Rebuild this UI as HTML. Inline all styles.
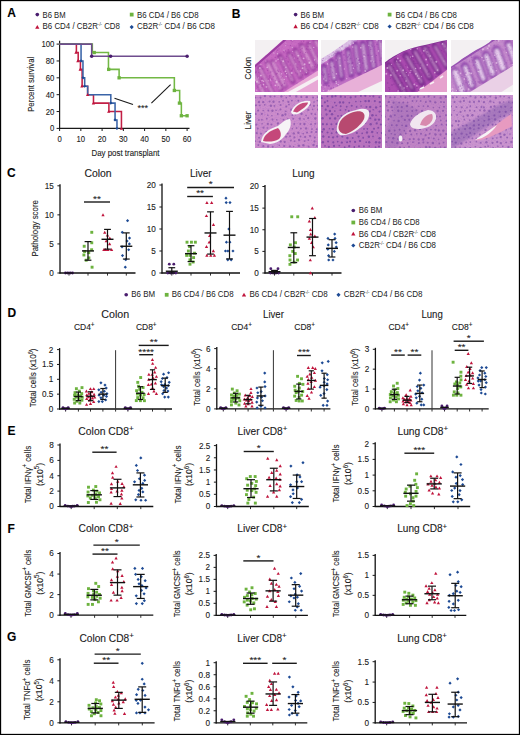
<!DOCTYPE html>
<html><head><meta charset="utf-8"><style>
html,body{margin:0;padding:0;background:#fff;}
body{width:520px;height:735px;overflow:hidden;}
svg{display:block;font-family:"Liberation Sans", sans-serif;}
text{stroke:#1a1a1a;stroke-width:0.1px;}
text.lg{stroke:none;fill:#222;}
</style></head><body>
<svg width="520" height="735" viewBox="0 0 520 735">
<rect width="520" height="735" fill="#fff"/>
<rect x="0.5" y="0.5" width="519" height="734" fill="none" stroke="#000" stroke-width="1.3"/>
<text x="7.3" y="17.4" font-size="12" font-weight="bold" fill="#000">A</text>
<text x="231.8" y="17.9" font-size="12" font-weight="bold" fill="#000">B</text>
<text x="7.1" y="177.1" font-size="12" font-weight="bold" fill="#000">C</text>
<text x="7.6" y="317" font-size="12" font-weight="bold" fill="#000">D</text>
<text x="7.6" y="435.1" font-size="12" font-weight="bold" fill="#000">E</text>
<text x="7.6" y="532.8" font-size="12" font-weight="bold" fill="#000">F</text>
<text x="7.1" y="641.4" font-size="12" font-weight="bold" fill="#000">G</text>
<circle cx="37.30" cy="14.60" r="1.82" fill="#4a1d6e"/>
<text class="lg" x="42.50" y="17.60" font-size="8.6" textLength="23.10" lengthAdjust="spacingAndGlyphs">B6 BM</text>
<path d="M37.30 24.96L39.45 28.82L35.15 28.82Z" fill="#c0143c"/>
<text class="lg" x="42.50" y="29.10" font-size="8.6" textLength="77.50" lengthAdjust="spacingAndGlyphs">B6 CD4 / CB2R<tspan font-size="4.5" dy="-3">-/-</tspan><tspan dy="3"> </tspan>CD8</text>
<rect x="129.81" y="12.71" width="3.77" height="3.77" fill="#6db33f"/>
<text class="lg" x="136.90" y="17.60" font-size="8.6" textLength="61.80" lengthAdjust="spacingAndGlyphs">B6 CD4 / B6 CD8</text>
<path d="M131.70 25.02L133.78 27.10L131.70 29.18L129.62 27.10Z" fill="#1d4a94"/>
<text class="lg" x="136.90" y="29.10" font-size="8.6" textLength="78.10" lengthAdjust="spacingAndGlyphs">CB2R<tspan font-size="4.5" dy="-3">-/-</tspan><tspan dy="3"> </tspan>CD4 / B6 CD8</text>
<circle cx="295.60" cy="14.60" r="1.82" fill="#4a1d6e"/>
<text class="lg" x="300.40" y="17.60" font-size="8.6" textLength="23.60" lengthAdjust="spacingAndGlyphs">B6 BM</text>
<path d="M295.60 24.36L297.75 28.22L293.46 28.22Z" fill="#c0143c"/>
<text class="lg" x="300.40" y="29.00" font-size="8.6" textLength="78.30" lengthAdjust="spacingAndGlyphs">B6 CD4 / CB2R<tspan font-size="4.5" dy="-3">-/-</tspan><tspan dy="3"> </tspan>CD8</text>
<rect x="387.72" y="12.71" width="3.77" height="3.77" fill="#6db33f"/>
<text class="lg" x="395.40" y="17.60" font-size="8.6" textLength="61.60" lengthAdjust="spacingAndGlyphs">B6 CD4 / B6 CD8</text>
<path d="M389.60 24.42L391.68 26.50L389.60 28.58L387.52 26.50Z" fill="#1d4a94"/>
<text class="lg" x="395.40" y="29.00" font-size="8.6" textLength="78.30" lengthAdjust="spacingAndGlyphs">CB2R<tspan font-size="4.5" dy="-3">-/-</tspan><tspan dy="3"> </tspan>CD4 / B6 CD8</text>
<line x1="59.60" y1="40.80" x2="59.60" y2="128.90" stroke="#1a1a1a" stroke-width="1.2"/>
<line x1="59.10" y1="128.40" x2="189.50" y2="128.40" stroke="#1a1a1a" stroke-width="1.2"/>
<line x1="56.60" y1="128.40" x2="59.60" y2="128.40" stroke="#1a1a1a" stroke-width="1"/>
<text x="54.40" y="131.40" font-size="8.4" fill="#1a1a1a" text-anchor="end" textLength="4.30" lengthAdjust="spacingAndGlyphs">0</text>
<line x1="56.60" y1="111.54" x2="59.60" y2="111.54" stroke="#1a1a1a" stroke-width="1"/>
<text x="54.40" y="114.54" font-size="8.4" fill="#1a1a1a" text-anchor="end" textLength="8.60" lengthAdjust="spacingAndGlyphs">20</text>
<line x1="56.60" y1="94.68" x2="59.60" y2="94.68" stroke="#1a1a1a" stroke-width="1"/>
<text x="54.40" y="97.68" font-size="8.4" fill="#1a1a1a" text-anchor="end" textLength="8.60" lengthAdjust="spacingAndGlyphs">40</text>
<line x1="56.60" y1="77.82" x2="59.60" y2="77.82" stroke="#1a1a1a" stroke-width="1"/>
<text x="54.40" y="80.82" font-size="8.4" fill="#1a1a1a" text-anchor="end" textLength="8.60" lengthAdjust="spacingAndGlyphs">60</text>
<line x1="56.60" y1="60.96" x2="59.60" y2="60.96" stroke="#1a1a1a" stroke-width="1"/>
<text x="54.40" y="63.96" font-size="8.4" fill="#1a1a1a" text-anchor="end" textLength="8.60" lengthAdjust="spacingAndGlyphs">80</text>
<line x1="56.60" y1="44.10" x2="59.60" y2="44.10" stroke="#1a1a1a" stroke-width="1"/>
<text x="54.40" y="47.10" font-size="8.4" fill="#1a1a1a" text-anchor="end" textLength="13.00" lengthAdjust="spacingAndGlyphs">100</text>
<line x1="59.60" y1="128.40" x2="59.60" y2="131.00" stroke="#1a1a1a" stroke-width="1"/>
<text x="59.60" y="141.60" font-size="8.4" fill="#1a1a1a" text-anchor="middle" textLength="4.30" lengthAdjust="spacingAndGlyphs">0</text>
<line x1="80.85" y1="128.40" x2="80.85" y2="131.00" stroke="#1a1a1a" stroke-width="1"/>
<text x="80.85" y="141.60" font-size="8.4" fill="#1a1a1a" text-anchor="middle" textLength="8.60" lengthAdjust="spacingAndGlyphs">10</text>
<line x1="102.10" y1="128.40" x2="102.10" y2="131.00" stroke="#1a1a1a" stroke-width="1"/>
<text x="102.10" y="141.60" font-size="8.4" fill="#1a1a1a" text-anchor="middle" textLength="8.60" lengthAdjust="spacingAndGlyphs">20</text>
<line x1="123.35" y1="128.40" x2="123.35" y2="131.00" stroke="#1a1a1a" stroke-width="1"/>
<text x="123.35" y="141.60" font-size="8.4" fill="#1a1a1a" text-anchor="middle" textLength="8.60" lengthAdjust="spacingAndGlyphs">30</text>
<line x1="144.60" y1="128.40" x2="144.60" y2="131.00" stroke="#1a1a1a" stroke-width="1"/>
<text x="144.60" y="141.60" font-size="8.4" fill="#1a1a1a" text-anchor="middle" textLength="8.60" lengthAdjust="spacingAndGlyphs">40</text>
<line x1="165.85" y1="128.40" x2="165.85" y2="131.00" stroke="#1a1a1a" stroke-width="1"/>
<text x="165.85" y="141.60" font-size="8.4" fill="#1a1a1a" text-anchor="middle" textLength="8.60" lengthAdjust="spacingAndGlyphs">50</text>
<line x1="187.10" y1="128.40" x2="187.10" y2="131.00" stroke="#1a1a1a" stroke-width="1"/>
<text x="187.10" y="141.60" font-size="8.4" fill="#1a1a1a" text-anchor="middle" textLength="8.60" lengthAdjust="spacingAndGlyphs">60</text>
<text x="125.50" y="155.60" font-size="9.2" fill="#1a1a1a" text-anchor="middle" textLength="68.00" lengthAdjust="spacingAndGlyphs">Day post transplant</text>
<text x="34.20" y="84.30" font-size="9.2" fill="#1a1a1a" text-anchor="middle" textLength="55.00" lengthAdjust="spacingAndGlyphs" transform="rotate(-90 34.20 84.30)">Percent survival</text>
<path d="M59.60 44.10H76.39V52.53H78.19V60.96H80.43V69.39H82.12V86.25H87.65V94.68H93.49V103.11H108.90V111.54H121.44V128.40" fill="none" stroke="#c21f45" stroke-width="1.55"/>
<path d="M59.60 44.10H81.06V60.96H82.97V77.82H84.68V86.25H87.65V94.68H110.81V103.11H115.06V119.97H116.97V128.40" fill="none" stroke="#3a64a8" stroke-width="1.55"/>
<path d="M59.60 44.10H92.33V52.53H108.47V69.39H119.10V77.82H174.35V90.47H179.66V103.11H181.36V115.76H187.10V115.76" fill="none" stroke="#72b844" stroke-width="1.55"/>
<path d="M59.60 44.10H91.69V56.15H187.10V56.15" fill="none" stroke="#6f4c8e" stroke-width="1.55"/>
<circle cx="91.69" cy="56.15" r="1.75" fill="#4a1d6e"/>
<circle cx="110.60" cy="56.15" r="1.75" fill="#4a1d6e"/>
<circle cx="187.10" cy="56.15" r="1.75" fill="#4a1d6e"/>
<rect x="92.57" y="50.86" width="3.33" height="3.33" fill="#6db33f"/>
<rect x="107.02" y="67.72" width="3.33" height="3.33" fill="#6db33f"/>
<rect x="117.43" y="76.15" width="3.33" height="3.33" fill="#6db33f"/>
<rect x="172.68" y="88.80" width="3.33" height="3.33" fill="#6db33f"/>
<rect x="177.78" y="101.44" width="3.33" height="3.33" fill="#6db33f"/>
<rect x="179.69" y="114.09" width="3.33" height="3.33" fill="#6db33f"/>
<rect x="185.43" y="114.09" width="3.33" height="3.33" fill="#6db33f"/>
<path d="M75.96 50.88L77.61 53.85L74.31 53.85Z" fill="#c0143c"/>
<path d="M77.88 59.31L79.53 62.28L76.22 62.28Z" fill="#c0143c"/>
<path d="M80.21 67.74L81.86 70.71L78.56 70.71Z" fill="#c0143c"/>
<path d="M81.91 84.60L83.56 87.57L80.26 87.57Z" fill="#c0143c"/>
<path d="M87.65 93.03L89.30 96.00L86.00 96.00Z" fill="#c0143c"/>
<path d="M93.39 101.46L95.04 104.43L91.74 104.43Z" fill="#c0143c"/>
<path d="M108.69 109.89L110.34 112.86L107.04 112.86Z" fill="#c0143c"/>
<path d="M121.44 126.75L123.09 129.72L119.79 129.72Z" fill="#c0143c"/>
<path d="M81.06 59.36L82.66 60.96L81.06 62.56L79.46 60.96Z" fill="#1d4a94"/>
<path d="M82.97 76.22L84.57 77.82L82.97 79.42L81.38 77.82Z" fill="#1d4a94"/>
<path d="M84.68 84.65L86.28 86.25L84.68 87.85L83.08 86.25Z" fill="#1d4a94"/>
<path d="M110.81 101.51L112.41 103.11L110.81 104.71L109.21 103.11Z" fill="#1d4a94"/>
<path d="M115.06 118.37L116.66 119.97L115.06 121.57L113.46 119.97Z" fill="#1d4a94"/>
<path d="M116.97 126.80L118.57 128.40L116.97 130.00L115.38 128.40Z" fill="#1d4a94"/>
<line x1="114.50" y1="98.20" x2="133.00" y2="104.40" stroke="#1a1a1a" stroke-width="1.1"/>
<line x1="151.40" y1="103.20" x2="170.60" y2="84.60" stroke="#1a1a1a" stroke-width="1.1"/>
<text x="142.70" y="110.60" font-size="9.6" fill="#1a1a1a" text-anchor="middle" textLength="10.50" lengthAdjust="spacingAndGlyphs">***</text>
<text x="250.60" y="68.30" font-size="9.2" fill="#1a1a1a" text-anchor="middle" textLength="23.00" lengthAdjust="spacingAndGlyphs" transform="rotate(-90 250.60 68.30)">Colon</text>
<text x="250.60" y="120.40" font-size="9.2" fill="#1a1a1a" text-anchor="middle" textLength="18.00" lengthAdjust="spacingAndGlyphs" transform="rotate(-90 250.60 120.40)">Liver</text>
<defs>
<filter id="tex" x="0" y="0" width="1" height="1"><feTurbulence type="fractalNoise" baseFrequency="0.55" numOctaves="2" seed="3"/><feColorMatrix type="matrix" values="0 0 0 0 0.35  0 0 0 0 0.05  0 0 0 0 0.45  1.6 0 0 0 -0.75"/></filter>
<filter id="tex2" x="0" y="0" width="1" height="1"><feTurbulence type="fractalNoise" baseFrequency="0.7" numOctaves="2" seed="7"/><feColorMatrix type="matrix" values="0 0 0 0 0.30  0 0 0 0 0.10  0 0 0 0 0.55  2.0 0 0 0 -0.95"/></filter>
<filter id="blur1"><feGaussianBlur stdDeviation="0.6"/></filter>
<filter id="blur15"><feGaussianBlur stdDeviation="0.85"/></filter>
<filter id="blur2"><feGaussianBlur stdDeviation="1.2"/></filter>
<clipPath id="c00"><rect x="255" y="40" width="63.00" height="52.00"/></clipPath>
<clipPath id="c01"><rect x="321" y="40" width="61.00" height="52.00"/></clipPath>
<clipPath id="c02"><rect x="385" y="40" width="62.00" height="52.00"/></clipPath>
<clipPath id="c03"><rect x="451" y="40" width="62.00" height="52.00"/></clipPath>
<clipPath id="c10"><rect x="255" y="95" width="63.00" height="53.00"/></clipPath>
<clipPath id="c11"><rect x="321" y="95" width="61.00" height="53.00"/></clipPath>
<clipPath id="c12"><rect x="385" y="95" width="62.00" height="53.00"/></clipPath>
<clipPath id="c13"><rect x="451" y="95" width="62.00" height="53.00"/></clipPath>
</defs>
<g clip-path="url(#c00)">
<rect x="255" y="40" width="63.00" height="52.00" fill="#c86cc2"/>

<g filter="url(#blur15)">
<path d="M252.4 71.1L266.2 98.2" stroke="#9c3ca2" stroke-width="5.41" stroke-linecap="round" fill="none"/>
<path d="M259.6 67.8L272.9 94.0" stroke="#9c3ca2" stroke-width="5.19" stroke-linecap="round" fill="none"/>
<path d="M267.1 62.7L280.6 89.2" stroke="#9c3ca2" stroke-width="4.81" stroke-linecap="round" fill="none"/>
<path d="M272.5 61.5L285.2 86.3" stroke="#9c3ca2" stroke-width="4.46" stroke-linecap="round" fill="none"/>
<path d="M280.0 56.2L292.9 81.4" stroke="#9c3ca2" stroke-width="5.55" stroke-linecap="round" fill="none"/>
<path d="M288.7 53.4L300.5 76.6" stroke="#9c3ca2" stroke-width="5.03" stroke-linecap="round" fill="none"/>
<path d="M295.2 49.9L306.8 72.7" stroke="#9c3ca2" stroke-width="5.35" stroke-linecap="round" fill="none"/>
<path d="M301.6 45.5L313.4 68.5" stroke="#9c3ca2" stroke-width="5.56" stroke-linecap="round" fill="none"/>
<path d="M308.5 44.1L319.1 64.9" stroke="#9c3ca2" stroke-width="5.35" stroke-linecap="round" fill="none"/>
<path d="M315.2 40.2L325.7 60.8" stroke="#9c3ca2" stroke-width="5.62" stroke-linecap="round" fill="none"/>
<path d="M322.4 34.7L333.3 56.0" stroke="#9c3ca2" stroke-width="4.93" stroke-linecap="round" fill="none"/>
<path d="M253.1 72.5L265.6 97.2" stroke="#e8aade" stroke-width="2.40" stroke-linecap="round" fill="none" opacity="0.9"/>
<path d="M260.3 69.1L272.4 92.9" stroke="#e8aade" stroke-width="2.01" stroke-linecap="round" fill="none" opacity="0.9"/>
<path d="M267.8 64.0L280.0 88.1" stroke="#e8aade" stroke-width="2.55" stroke-linecap="round" fill="none" opacity="0.9"/>
<path d="M273.2 62.8L284.6 85.2" stroke="#e8aade" stroke-width="2.49" stroke-linecap="round" fill="none" opacity="0.9"/>
<path d="M280.7 57.5L292.3 80.4" stroke="#e8aade" stroke-width="1.64" stroke-linecap="round" fill="none" opacity="0.9"/>
<path d="M289.4 54.7L300.0 75.6" stroke="#e8aade" stroke-width="1.68" stroke-linecap="round" fill="none" opacity="0.9"/>
<path d="M295.9 51.3L306.3 71.6" stroke="#e8aade" stroke-width="1.77" stroke-linecap="round" fill="none" opacity="0.9"/>
<path d="M302.3 46.8L312.9 67.5" stroke="#e8aade" stroke-width="2.58" stroke-linecap="round" fill="none" opacity="0.9"/>
<path d="M309.2 45.4L318.6 63.9" stroke="#e8aade" stroke-width="2.01" stroke-linecap="round" fill="none" opacity="0.9"/>
<path d="M315.8 41.6L325.1 59.8" stroke="#e8aade" stroke-width="2.21" stroke-linecap="round" fill="none" opacity="0.9"/>
<path d="M323.1 36.0L332.7 55.0" stroke="#e8aade" stroke-width="1.86" stroke-linecap="round" fill="none" opacity="0.9"/>
</g>
<g fill="#9c3ca2" opacity="0.5"><circle cx="287.0" cy="60.1" r="0.64"/><circle cx="291.9" cy="70.4" r="0.86"/><circle cx="298.0" cy="88.3" r="0.84"/><circle cx="317.4" cy="74.9" r="0.57"/><circle cx="309.2" cy="90.2" r="0.86"/><circle cx="290.9" cy="77.1" r="0.58"/><circle cx="307.4" cy="69.8" r="0.61"/><circle cx="259.0" cy="84.4" r="0.90"/><circle cx="260.6" cy="81.6" r="0.66"/><circle cx="264.5" cy="55.3" r="0.81"/><circle cx="310.0" cy="42.3" r="0.75"/><circle cx="257.8" cy="77.4" r="0.63"/><circle cx="310.5" cy="91.0" r="0.70"/><circle cx="317.9" cy="56.1" r="0.53"/><circle cx="292.8" cy="41.6" r="0.58"/><circle cx="280.7" cy="71.7" r="0.56"/><circle cx="257.7" cy="85.1" r="0.63"/><circle cx="315.4" cy="86.6" r="0.65"/><circle cx="284.0" cy="67.0" r="0.76"/><circle cx="292.5" cy="69.1" r="0.75"/><circle cx="314.3" cy="66.4" r="0.67"/><circle cx="300.4" cy="52.4" r="0.62"/><circle cx="316.6" cy="67.1" r="0.72"/><circle cx="255.7" cy="61.6" r="0.73"/><circle cx="256.3" cy="72.0" r="0.75"/><circle cx="258.8" cy="72.6" r="0.69"/><circle cx="297.8" cy="58.3" r="0.78"/><circle cx="301.5" cy="41.2" r="0.52"/><circle cx="297.6" cy="90.1" r="0.60"/><circle cx="283.7" cy="70.8" r="0.63"/><circle cx="277.9" cy="56.3" r="0.65"/><circle cx="292.5" cy="55.6" r="0.65"/><circle cx="303.7" cy="41.4" r="0.73"/><circle cx="301.3" cy="56.1" r="0.59"/><circle cx="305.6" cy="52.4" r="0.57"/><circle cx="282.4" cy="76.3" r="0.54"/><circle cx="275.3" cy="57.4" r="0.83"/><circle cx="282.6" cy="84.5" r="0.57"/><circle cx="276.2" cy="73.8" r="0.85"/><circle cx="283.4" cy="51.7" r="0.55"/><circle cx="288.4" cy="49.9" r="0.82"/><circle cx="307.8" cy="49.5" r="0.61"/><circle cx="305.9" cy="73.4" r="0.82"/><circle cx="276.8" cy="46.7" r="0.62"/><circle cx="305.0" cy="54.1" r="0.64"/><circle cx="281.3" cy="61.8" r="0.66"/><circle cx="313.0" cy="48.1" r="0.50"/><circle cx="314.4" cy="85.8" r="0.89"/><circle cx="282.4" cy="89.4" r="0.87"/><circle cx="269.0" cy="78.8" r="0.83"/><circle cx="296.8" cy="67.0" r="0.62"/><circle cx="276.5" cy="51.8" r="0.53"/><circle cx="292.1" cy="54.9" r="0.82"/><circle cx="257.8" cy="87.0" r="0.78"/><circle cx="313.2" cy="86.6" r="0.86"/><circle cx="291.3" cy="40.7" r="0.80"/><circle cx="265.8" cy="55.6" r="0.77"/><circle cx="288.1" cy="61.5" r="0.88"/><circle cx="293.6" cy="57.8" r="0.60"/><circle cx="309.3" cy="64.8" r="0.81"/><circle cx="277.2" cy="50.3" r="0.71"/><circle cx="306.5" cy="48.9" r="0.82"/><circle cx="313.1" cy="81.9" r="0.83"/><circle cx="255.5" cy="72.7" r="0.85"/><circle cx="258.1" cy="54.1" r="0.61"/><circle cx="288.2" cy="62.0" r="0.69"/><circle cx="303.9" cy="40.1" r="0.52"/><circle cx="263.0" cy="46.5" r="0.53"/><circle cx="316.4" cy="84.4" r="0.53"/><circle cx="286.6" cy="56.4" r="0.63"/><circle cx="277.1" cy="73.6" r="0.73"/><circle cx="277.7" cy="49.9" r="0.63"/><circle cx="262.8" cy="68.9" r="0.79"/><circle cx="279.0" cy="44.2" r="0.57"/><circle cx="278.5" cy="71.4" r="0.81"/><circle cx="279.0" cy="81.7" r="0.75"/><circle cx="282.2" cy="59.4" r="0.70"/><circle cx="299.3" cy="61.9" r="0.78"/><circle cx="284.0" cy="52.7" r="0.71"/><circle cx="298.8" cy="43.7" r="0.67"/><circle cx="281.8" cy="85.7" r="0.87"/><circle cx="278.6" cy="86.7" r="0.82"/><circle cx="271.5" cy="64.1" r="0.55"/><circle cx="306.2" cy="74.4" r="0.85"/><circle cx="304.9" cy="74.7" r="0.79"/><circle cx="290.5" cy="45.4" r="0.74"/><circle cx="255.3" cy="47.5" r="0.81"/><circle cx="257.8" cy="44.8" r="0.54"/><circle cx="310.5" cy="49.3" r="0.51"/><circle cx="308.0" cy="46.3" r="0.84"/><circle cx="297.4" cy="83.5" r="0.88"/><circle cx="291.5" cy="81.5" r="0.51"/><circle cx="303.3" cy="66.6" r="0.79"/><circle cx="261.7" cy="78.9" r="0.87"/><circle cx="258.9" cy="56.9" r="0.73"/><circle cx="307.2" cy="52.6" r="0.57"/><circle cx="270.7" cy="72.0" r="0.80"/><circle cx="279.8" cy="59.1" r="0.66"/><circle cx="277.1" cy="61.7" r="0.53"/><circle cx="286.5" cy="90.6" r="0.67"/><circle cx="302.1" cy="48.4" r="0.78"/><circle cx="302.6" cy="75.0" r="0.71"/><circle cx="285.5" cy="73.4" r="0.86"/><circle cx="264.4" cy="45.0" r="0.80"/><circle cx="312.7" cy="66.9" r="0.68"/><circle cx="300.3" cy="49.7" r="0.61"/><circle cx="267.5" cy="70.5" r="0.63"/><circle cx="269.6" cy="75.9" r="0.88"/><circle cx="273.6" cy="76.7" r="0.67"/><circle cx="308.8" cy="70.4" r="0.61"/><circle cx="268.7" cy="41.2" r="0.69"/><circle cx="279.1" cy="49.0" r="0.64"/><circle cx="275.3" cy="80.3" r="0.56"/><circle cx="317.4" cy="64.9" r="0.74"/><circle cx="284.5" cy="83.4" r="0.83"/><circle cx="290.1" cy="65.0" r="0.79"/><circle cx="309.0" cy="60.8" r="0.79"/><circle cx="315.5" cy="64.3" r="0.59"/><circle cx="269.8" cy="77.3" r="0.77"/><circle cx="315.4" cy="84.4" r="0.60"/><circle cx="266.9" cy="53.4" r="0.57"/><circle cx="299.4" cy="84.6" r="0.86"/><circle cx="271.1" cy="85.0" r="0.63"/><circle cx="281.7" cy="77.9" r="0.53"/><circle cx="260.8" cy="83.4" r="0.62"/><circle cx="277.5" cy="70.2" r="0.77"/><circle cx="255.4" cy="57.4" r="0.67"/><circle cx="285.6" cy="50.9" r="0.73"/><circle cx="315.2" cy="60.3" r="0.72"/><circle cx="262.5" cy="54.3" r="0.77"/><circle cx="262.1" cy="86.1" r="0.86"/><circle cx="261.1" cy="88.9" r="0.65"/><circle cx="303.7" cy="79.4" r="0.62"/><circle cx="297.6" cy="74.0" r="0.82"/><circle cx="271.7" cy="79.2" r="0.88"/><circle cx="297.4" cy="67.9" r="0.55"/><circle cx="286.1" cy="58.3" r="0.79"/><circle cx="297.7" cy="69.5" r="0.57"/><circle cx="295.7" cy="72.8" r="0.57"/><circle cx="311.1" cy="74.1" r="0.55"/></g>
<g fill="#f4d8f0" opacity="0.6"><circle cx="313.7" cy="47.4" r="0.67"/><circle cx="300.4" cy="71.1" r="0.78"/><circle cx="295.8" cy="63.8" r="0.66"/><circle cx="266.1" cy="43.6" r="0.86"/><circle cx="302.5" cy="68.2" r="0.87"/><circle cx="277.6" cy="53.8" r="0.69"/><circle cx="310.0" cy="42.2" r="0.75"/><circle cx="270.6" cy="80.0" r="0.68"/><circle cx="276.0" cy="61.0" r="0.77"/><circle cx="303.6" cy="58.3" r="0.92"/><circle cx="262.1" cy="54.1" r="0.55"/><circle cx="262.1" cy="80.5" r="0.86"/><circle cx="266.6" cy="49.8" r="0.71"/><circle cx="301.8" cy="82.4" r="0.87"/><circle cx="292.3" cy="47.6" r="0.70"/><circle cx="267.2" cy="67.4" r="0.78"/><circle cx="267.7" cy="53.0" r="0.89"/><circle cx="256.9" cy="81.8" r="0.95"/><circle cx="314.8" cy="59.9" r="0.78"/><circle cx="291.7" cy="72.9" r="0.99"/><circle cx="298.3" cy="55.6" r="0.93"/><circle cx="285.5" cy="71.3" r="0.86"/><circle cx="255.1" cy="80.1" r="0.83"/><circle cx="286.0" cy="67.2" r="0.73"/><circle cx="267.2" cy="67.5" r="0.52"/><circle cx="286.5" cy="73.6" r="0.72"/><circle cx="290.7" cy="89.9" r="0.95"/><circle cx="263.5" cy="81.2" r="0.81"/><circle cx="258.2" cy="58.7" r="0.62"/><circle cx="259.9" cy="68.0" r="0.96"/><circle cx="275.4" cy="85.3" r="0.85"/><circle cx="263.5" cy="84.6" r="0.80"/><circle cx="313.4" cy="77.2" r="0.87"/><circle cx="276.6" cy="81.9" r="0.97"/><circle cx="309.3" cy="62.7" r="0.88"/><circle cx="285.6" cy="45.7" r="0.52"/><circle cx="259.9" cy="50.4" r="0.58"/><circle cx="286.3" cy="76.4" r="0.77"/><circle cx="281.6" cy="73.8" r="0.65"/><circle cx="284.3" cy="79.4" r="0.70"/><circle cx="266.4" cy="86.8" r="0.86"/><circle cx="278.1" cy="59.3" r="0.76"/><circle cx="292.6" cy="51.6" r="0.50"/><circle cx="268.2" cy="80.7" r="0.57"/><circle cx="284.0" cy="50.2" r="0.60"/><circle cx="265.8" cy="61.0" r="0.58"/><circle cx="256.7" cy="45.7" r="0.58"/><circle cx="285.9" cy="43.1" r="0.51"/><circle cx="283.2" cy="61.2" r="0.85"/><circle cx="258.2" cy="61.0" r="0.70"/><circle cx="256.7" cy="90.2" r="0.61"/><circle cx="260.9" cy="64.7" r="0.58"/><circle cx="294.2" cy="58.0" r="0.56"/><circle cx="258.3" cy="77.8" r="0.64"/><circle cx="304.6" cy="64.2" r="0.97"/><circle cx="273.9" cy="53.0" r="0.63"/><circle cx="306.3" cy="72.7" r="0.67"/><circle cx="260.9" cy="75.5" r="0.98"/><circle cx="292.3" cy="40.2" r="0.52"/><circle cx="260.7" cy="48.9" r="0.52"/></g>
<rect x="255" y="40" width="63.00" height="52.00" filter="url(#tex)" opacity="0.35"/>
<path d="M276 97 L322 68 L322 97 Z" fill="#e8a8d6" filter="url(#blur1)"/>
<path d="M288 92 L319 75 L319 79 L296 92 Z" fill="#f6eef3" filter="url(#blur1)"/>
<path d="M252 69 C262 60 274 50 287 38" stroke="#9c3ca2" stroke-width="2.2" fill="none" filter="url(#blur1)"/>
<path d="M250 30 L290 30 L286 38 L283 40 C274 48 264 57 250 69 Z" fill="#f3f0f2" filter="url(#blur1)"/>
</g>
<g clip-path="url(#c01)">
<rect x="321" y="40" width="61.00" height="52.00" fill="#c274c6"/>
<path d="M316 30 L362 30 L356 42 C346 48 334 56 316 68 Z" fill="#dcc2e6" filter="url(#blur1)"/>
<g filter="url(#blur15)">
<path d="M324.0 66.6L326.2 82.4" stroke="#8e3ea6" stroke-width="5.59" stroke-linecap="round" fill="none"/>
<path d="M331.6 61.2L334.3 80.0" stroke="#8e3ea6" stroke-width="5.76" stroke-linecap="round" fill="none"/>
<path d="M338.4 54.4L341.7 77.8" stroke="#8e3ea6" stroke-width="6.68" stroke-linecap="round" fill="none"/>
<path d="M348.0 50.1L351.5 74.9" stroke="#8e3ea6" stroke-width="5.79" stroke-linecap="round" fill="none"/>
<path d="M355.2 44.0L359.2 72.7" stroke="#8e3ea6" stroke-width="5.93" stroke-linecap="round" fill="none"/>
<path d="M362.8 43.5L366.6 70.5" stroke="#8e3ea6" stroke-width="6.24" stroke-linecap="round" fill="none"/>
<path d="M370.0 40.5L374.0 68.3" stroke="#8e3ea6" stroke-width="6.52" stroke-linecap="round" fill="none"/>
<path d="M380.1 39.8L383.7 65.4" stroke="#8e3ea6" stroke-width="6.03" stroke-linecap="round" fill="none"/>
<path d="M324.2 68.0L326.0 81.2" stroke="#eccaec" stroke-width="1.38" stroke-linecap="round" fill="none" opacity="0.9"/>
<path d="M331.8 62.7L334.1 78.8" stroke="#eccaec" stroke-width="1.84" stroke-linecap="round" fill="none" opacity="0.9"/>
<path d="M338.6 55.9L341.5 76.6" stroke="#eccaec" stroke-width="1.33" stroke-linecap="round" fill="none" opacity="0.9"/>
<path d="M348.2 51.6L351.3 73.8" stroke="#eccaec" stroke-width="1.39" stroke-linecap="round" fill="none" opacity="0.9"/>
<path d="M355.4 45.5L359.0 71.5" stroke="#eccaec" stroke-width="1.48" stroke-linecap="round" fill="none" opacity="0.9"/>
<path d="M363.0 45.0L366.4 69.3" stroke="#eccaec" stroke-width="1.95" stroke-linecap="round" fill="none" opacity="0.9"/>
<path d="M370.3 41.9L373.8 67.1" stroke="#eccaec" stroke-width="1.57" stroke-linecap="round" fill="none" opacity="0.9"/>
<path d="M380.3 41.3L383.5 64.3" stroke="#eccaec" stroke-width="1.94" stroke-linecap="round" fill="none" opacity="0.9"/>
</g>
<g fill="#8e3ea6" opacity="0.5"><circle cx="331.0" cy="46.1" r="0.51"/><circle cx="364.1" cy="84.7" r="0.59"/><circle cx="335.5" cy="40.7" r="0.76"/><circle cx="339.3" cy="47.1" r="0.76"/><circle cx="357.6" cy="63.3" r="0.56"/><circle cx="360.0" cy="68.9" r="0.67"/><circle cx="331.0" cy="88.3" r="0.85"/><circle cx="363.1" cy="91.8" r="0.73"/><circle cx="342.0" cy="46.1" r="0.74"/><circle cx="352.7" cy="62.7" r="0.90"/><circle cx="372.2" cy="46.0" r="0.85"/><circle cx="321.1" cy="73.9" r="0.63"/><circle cx="365.5" cy="89.5" r="0.71"/><circle cx="367.5" cy="42.8" r="0.77"/><circle cx="328.2" cy="63.7" r="0.63"/><circle cx="325.5" cy="78.9" r="0.54"/><circle cx="336.7" cy="44.5" r="0.76"/><circle cx="339.4" cy="42.3" r="0.51"/><circle cx="334.4" cy="66.3" r="0.50"/><circle cx="322.5" cy="74.7" r="0.71"/><circle cx="329.2" cy="56.2" r="0.55"/><circle cx="337.8" cy="60.2" r="0.59"/><circle cx="333.0" cy="51.8" r="0.62"/><circle cx="354.9" cy="86.1" r="0.76"/><circle cx="348.4" cy="40.2" r="0.58"/><circle cx="359.7" cy="61.1" r="0.84"/><circle cx="376.4" cy="55.4" r="0.65"/><circle cx="339.2" cy="75.2" r="0.54"/><circle cx="337.8" cy="85.7" r="0.65"/><circle cx="380.2" cy="60.6" r="0.83"/><circle cx="349.2" cy="45.2" r="0.73"/><circle cx="333.9" cy="87.7" r="0.78"/><circle cx="353.3" cy="88.0" r="0.72"/><circle cx="380.0" cy="77.2" r="0.57"/><circle cx="338.9" cy="84.0" r="0.54"/><circle cx="380.9" cy="42.1" r="0.80"/><circle cx="358.7" cy="61.1" r="0.74"/><circle cx="356.5" cy="58.7" r="0.61"/><circle cx="324.0" cy="74.1" r="0.85"/><circle cx="343.9" cy="84.6" r="0.66"/><circle cx="336.5" cy="81.6" r="0.87"/><circle cx="326.6" cy="85.3" r="0.63"/><circle cx="368.2" cy="55.2" r="0.90"/><circle cx="341.5" cy="50.7" r="0.52"/><circle cx="329.2" cy="44.7" r="0.83"/><circle cx="322.2" cy="46.1" r="0.60"/><circle cx="329.6" cy="80.3" r="0.50"/><circle cx="362.6" cy="58.2" r="0.56"/><circle cx="335.0" cy="67.4" r="0.60"/><circle cx="344.9" cy="60.2" r="0.71"/><circle cx="363.8" cy="55.1" r="0.74"/><circle cx="364.6" cy="55.4" r="0.81"/><circle cx="326.1" cy="65.7" r="0.64"/><circle cx="328.7" cy="74.3" r="0.84"/><circle cx="350.6" cy="58.4" r="0.86"/><circle cx="381.4" cy="72.7" r="0.72"/><circle cx="360.0" cy="76.6" r="0.77"/><circle cx="353.9" cy="79.1" r="0.80"/><circle cx="360.4" cy="67.5" r="0.65"/><circle cx="334.0" cy="66.4" r="0.62"/><circle cx="349.7" cy="49.3" r="0.86"/><circle cx="328.9" cy="85.7" r="0.73"/><circle cx="376.5" cy="85.8" r="0.57"/><circle cx="337.8" cy="91.8" r="0.76"/><circle cx="326.2" cy="53.7" r="0.54"/><circle cx="339.6" cy="43.9" r="0.52"/><circle cx="323.7" cy="64.6" r="0.79"/><circle cx="352.0" cy="74.9" r="0.76"/><circle cx="329.2" cy="76.7" r="0.70"/><circle cx="346.6" cy="90.0" r="0.68"/><circle cx="362.8" cy="80.4" r="0.69"/><circle cx="330.3" cy="49.9" r="0.62"/><circle cx="332.6" cy="60.9" r="0.53"/><circle cx="367.9" cy="80.0" r="0.75"/><circle cx="328.0" cy="51.3" r="0.86"/><circle cx="374.3" cy="77.8" r="0.85"/><circle cx="333.6" cy="55.0" r="0.67"/><circle cx="349.9" cy="58.9" r="0.60"/><circle cx="370.6" cy="49.6" r="0.73"/><circle cx="370.7" cy="47.8" r="0.63"/><circle cx="344.0" cy="54.8" r="0.87"/><circle cx="374.6" cy="46.7" r="0.53"/><circle cx="357.3" cy="66.2" r="0.51"/><circle cx="373.7" cy="85.6" r="0.73"/><circle cx="326.5" cy="50.0" r="0.83"/><circle cx="362.8" cy="63.1" r="0.87"/><circle cx="323.6" cy="75.6" r="0.83"/><circle cx="371.4" cy="45.0" r="0.78"/><circle cx="355.4" cy="72.7" r="0.56"/><circle cx="379.7" cy="90.3" r="0.55"/><circle cx="354.6" cy="67.9" r="0.68"/><circle cx="341.5" cy="52.4" r="0.79"/><circle cx="352.1" cy="63.5" r="0.70"/><circle cx="338.4" cy="86.7" r="0.81"/><circle cx="337.0" cy="56.0" r="0.71"/><circle cx="359.7" cy="86.8" r="0.87"/><circle cx="324.8" cy="85.0" r="0.51"/><circle cx="356.3" cy="80.1" r="0.57"/><circle cx="335.0" cy="43.7" r="0.68"/><circle cx="371.9" cy="40.0" r="0.80"/><circle cx="344.7" cy="88.7" r="0.72"/><circle cx="349.2" cy="54.9" r="0.84"/><circle cx="349.3" cy="76.3" r="0.76"/><circle cx="371.0" cy="55.4" r="0.54"/><circle cx="332.5" cy="72.3" r="0.55"/><circle cx="323.1" cy="58.3" r="0.77"/><circle cx="332.0" cy="55.2" r="0.55"/><circle cx="380.8" cy="87.3" r="0.89"/><circle cx="359.8" cy="59.7" r="0.61"/><circle cx="341.8" cy="80.6" r="0.72"/><circle cx="329.0" cy="85.9" r="0.84"/><circle cx="321.7" cy="44.8" r="0.70"/><circle cx="350.0" cy="83.0" r="0.58"/><circle cx="381.0" cy="58.1" r="0.56"/><circle cx="380.8" cy="79.7" r="0.82"/><circle cx="331.4" cy="90.1" r="0.62"/><circle cx="349.4" cy="85.3" r="0.55"/><circle cx="322.7" cy="72.1" r="0.70"/><circle cx="378.8" cy="90.5" r="0.65"/><circle cx="366.7" cy="41.2" r="0.79"/><circle cx="348.2" cy="56.6" r="0.61"/><circle cx="349.7" cy="63.6" r="0.62"/><circle cx="322.5" cy="41.7" r="0.51"/><circle cx="372.8" cy="61.9" r="0.68"/><circle cx="376.9" cy="44.4" r="0.83"/><circle cx="375.3" cy="62.3" r="0.78"/><circle cx="322.5" cy="60.5" r="0.51"/><circle cx="365.9" cy="90.5" r="0.87"/><circle cx="353.1" cy="82.5" r="0.77"/><circle cx="321.3" cy="56.4" r="0.54"/><circle cx="347.3" cy="57.4" r="0.51"/><circle cx="321.7" cy="46.1" r="0.73"/><circle cx="372.1" cy="73.2" r="0.85"/><circle cx="335.0" cy="53.0" r="0.65"/><circle cx="325.3" cy="67.2" r="0.55"/><circle cx="325.0" cy="83.7" r="0.60"/><circle cx="348.4" cy="64.0" r="0.52"/><circle cx="323.4" cy="85.0" r="0.86"/><circle cx="367.2" cy="64.0" r="0.57"/><circle cx="330.6" cy="67.2" r="0.59"/></g>
<g fill="#f4d8f0" opacity="0.6"><circle cx="358.9" cy="91.5" r="0.97"/><circle cx="335.9" cy="52.4" r="0.52"/><circle cx="377.4" cy="90.3" r="0.92"/><circle cx="365.3" cy="71.0" r="0.96"/><circle cx="340.2" cy="65.6" r="0.96"/><circle cx="358.0" cy="58.7" r="0.60"/><circle cx="338.3" cy="84.8" r="0.80"/><circle cx="364.5" cy="83.9" r="0.87"/><circle cx="353.3" cy="43.1" r="0.89"/><circle cx="335.3" cy="49.3" r="0.52"/><circle cx="351.7" cy="72.8" r="0.55"/><circle cx="327.5" cy="63.8" r="0.76"/><circle cx="334.8" cy="87.1" r="0.72"/><circle cx="336.2" cy="81.6" r="0.89"/><circle cx="339.9" cy="58.1" r="0.71"/><circle cx="325.0" cy="86.8" r="0.60"/><circle cx="334.2" cy="77.5" r="0.73"/><circle cx="360.8" cy="47.8" r="0.83"/><circle cx="379.6" cy="90.5" r="0.51"/><circle cx="329.8" cy="51.3" r="0.79"/><circle cx="352.2" cy="65.1" r="0.63"/><circle cx="327.7" cy="64.0" r="0.61"/><circle cx="361.5" cy="91.0" r="0.57"/><circle cx="375.6" cy="88.4" r="0.69"/><circle cx="322.8" cy="57.8" r="0.63"/><circle cx="365.1" cy="90.8" r="0.98"/><circle cx="334.3" cy="51.8" r="0.71"/><circle cx="336.4" cy="73.9" r="0.81"/><circle cx="321.7" cy="52.3" r="0.72"/><circle cx="346.7" cy="78.6" r="0.54"/><circle cx="326.4" cy="60.6" r="0.59"/><circle cx="328.6" cy="90.5" r="0.84"/><circle cx="323.7" cy="78.9" r="0.56"/><circle cx="378.4" cy="51.0" r="0.67"/><circle cx="323.7" cy="51.9" r="0.57"/><circle cx="364.8" cy="89.4" r="0.55"/><circle cx="336.4" cy="83.3" r="0.78"/><circle cx="372.1" cy="56.6" r="0.54"/><circle cx="348.0" cy="61.7" r="0.56"/><circle cx="359.5" cy="78.3" r="0.78"/><circle cx="363.1" cy="78.3" r="0.94"/><circle cx="364.1" cy="56.3" r="0.94"/><circle cx="374.8" cy="84.2" r="0.96"/><circle cx="321.3" cy="85.1" r="0.92"/><circle cx="341.6" cy="48.7" r="0.89"/><circle cx="373.7" cy="61.8" r="0.53"/><circle cx="330.3" cy="55.7" r="0.83"/><circle cx="368.8" cy="45.3" r="0.54"/><circle cx="359.5" cy="63.6" r="0.75"/><circle cx="377.0" cy="40.7" r="0.83"/><circle cx="344.3" cy="68.9" r="0.60"/><circle cx="371.0" cy="60.9" r="0.74"/><circle cx="358.9" cy="61.6" r="0.57"/><circle cx="352.7" cy="47.1" r="0.74"/><circle cx="362.7" cy="85.9" r="0.76"/><circle cx="353.5" cy="68.3" r="0.78"/><circle cx="336.2" cy="60.0" r="0.53"/><circle cx="326.1" cy="80.8" r="0.56"/><circle cx="323.4" cy="90.6" r="0.57"/><circle cx="327.6" cy="46.6" r="0.74"/></g>
<rect x="321" y="40" width="61.00" height="52.00" filter="url(#tex)" opacity="0.35"/>
<path d="M316 97 L384 64 L384 97 Z" fill="#e8b0d8" filter="url(#blur1)"/>
<path d="M356 93 L384 80 L384 93 Z" fill="#f4f1f2" filter="url(#blur1)"/>
<path d="M316 30 L356 30 L352 38 C344 44 333 52 316 62 Z" fill="#f3f0f2" filter="url(#blur1)"/>
</g>
<g clip-path="url(#c02)">
<rect x="385" y="40" width="62.00" height="52.00" fill="#ac4eb0"/>

<g filter="url(#blur15)">
<path d="M388.4 64.8L405.3 94.0" stroke="#802e92" stroke-width="6.72" stroke-linecap="round" fill="none"/>
<path d="M396.3 61.0L412.6 89.2" stroke="#802e92" stroke-width="6.25" stroke-linecap="round" fill="none"/>
<path d="M405.8 55.0L421.9 83.0" stroke="#802e92" stroke-width="7.08" stroke-linecap="round" fill="none"/>
<path d="M414.3 50.6L429.9 77.6" stroke="#802e92" stroke-width="7.10" stroke-linecap="round" fill="none"/>
<path d="M424.1 46.8L438.5 71.9" stroke="#802e92" stroke-width="6.89" stroke-linecap="round" fill="none"/>
<path d="M434.4 45.3L446.7 66.5" stroke="#802e92" stroke-width="5.67" stroke-linecap="round" fill="none"/>
<path d="M442.5 42.6L453.6 61.9" stroke="#802e92" stroke-width="5.65" stroke-linecap="round" fill="none"/>
<path d="M389.2 66.1L404.7 93.0" stroke="#dca6da" stroke-width="1.21" stroke-linecap="round" fill="none" opacity="0.9"/>
<path d="M397.0 62.3L412.0 88.2" stroke="#dca6da" stroke-width="1.26" stroke-linecap="round" fill="none" opacity="0.9"/>
<path d="M406.6 56.3L421.3 81.9" stroke="#dca6da" stroke-width="1.51" stroke-linecap="round" fill="none" opacity="0.9"/>
<path d="M415.1 51.9L429.3 76.6" stroke="#dca6da" stroke-width="1.59" stroke-linecap="round" fill="none" opacity="0.9"/>
<path d="M424.8 48.1L437.9 70.9" stroke="#dca6da" stroke-width="1.40" stroke-linecap="round" fill="none" opacity="0.9"/>
<path d="M435.2 46.6L446.1 65.4" stroke="#dca6da" stroke-width="1.46" stroke-linecap="round" fill="none" opacity="0.9"/>
<path d="M443.2 43.9L453.0 60.8" stroke="#dca6da" stroke-width="1.41" stroke-linecap="round" fill="none" opacity="0.9"/>
</g>
<g fill="#802e92" opacity="0.5"><circle cx="387.1" cy="67.4" r="0.59"/><circle cx="410.9" cy="40.5" r="0.76"/><circle cx="441.4" cy="43.6" r="0.73"/><circle cx="386.5" cy="58.3" r="0.56"/><circle cx="438.4" cy="77.9" r="0.86"/><circle cx="398.5" cy="77.4" r="0.78"/><circle cx="416.7" cy="87.6" r="0.75"/><circle cx="402.5" cy="77.3" r="0.69"/><circle cx="398.2" cy="72.1" r="0.52"/><circle cx="412.8" cy="69.0" r="0.50"/><circle cx="425.2" cy="44.6" r="0.76"/><circle cx="406.2" cy="41.5" r="0.90"/><circle cx="389.0" cy="48.1" r="0.70"/><circle cx="400.2" cy="67.6" r="0.69"/><circle cx="420.7" cy="68.3" r="0.62"/><circle cx="398.1" cy="76.1" r="0.67"/><circle cx="417.3" cy="87.6" r="0.50"/><circle cx="402.2" cy="69.3" r="0.52"/><circle cx="431.7" cy="60.9" r="0.63"/><circle cx="397.1" cy="90.3" r="0.52"/><circle cx="435.9" cy="76.6" r="0.86"/><circle cx="428.5" cy="58.0" r="0.72"/><circle cx="442.1" cy="42.1" r="0.84"/><circle cx="426.8" cy="50.2" r="0.89"/><circle cx="403.6" cy="40.2" r="0.61"/><circle cx="416.9" cy="41.4" r="0.74"/><circle cx="412.6" cy="57.3" r="0.80"/><circle cx="423.3" cy="90.2" r="0.85"/><circle cx="438.3" cy="88.5" r="0.84"/><circle cx="415.2" cy="43.6" r="0.68"/><circle cx="423.4" cy="90.4" r="0.76"/><circle cx="420.6" cy="44.5" r="0.76"/><circle cx="387.3" cy="47.5" r="0.52"/><circle cx="430.4" cy="88.9" r="0.74"/><circle cx="390.4" cy="78.4" r="0.57"/><circle cx="429.0" cy="75.2" r="0.88"/><circle cx="395.3" cy="52.1" r="0.63"/><circle cx="389.7" cy="89.2" r="0.75"/><circle cx="391.6" cy="64.9" r="0.54"/><circle cx="444.7" cy="58.7" r="0.50"/><circle cx="430.9" cy="57.2" r="0.76"/><circle cx="433.5" cy="43.9" r="0.72"/><circle cx="443.9" cy="51.8" r="0.60"/><circle cx="426.8" cy="43.0" r="0.83"/><circle cx="434.7" cy="89.2" r="0.83"/><circle cx="421.0" cy="63.9" r="0.71"/><circle cx="424.4" cy="90.8" r="0.56"/><circle cx="415.7" cy="63.4" r="0.60"/><circle cx="395.2" cy="80.7" r="0.73"/><circle cx="427.7" cy="53.4" r="0.69"/><circle cx="394.9" cy="47.9" r="0.55"/><circle cx="425.2" cy="84.1" r="0.73"/><circle cx="433.4" cy="44.1" r="0.71"/><circle cx="393.7" cy="67.3" r="0.60"/><circle cx="400.7" cy="87.8" r="0.72"/><circle cx="400.1" cy="65.5" r="0.61"/><circle cx="434.3" cy="60.7" r="0.84"/><circle cx="421.9" cy="73.9" r="0.74"/><circle cx="421.4" cy="43.3" r="0.82"/><circle cx="423.1" cy="51.6" r="0.70"/><circle cx="444.0" cy="74.0" r="0.72"/><circle cx="417.9" cy="43.6" r="0.70"/><circle cx="411.8" cy="73.4" r="0.64"/><circle cx="393.9" cy="84.2" r="0.60"/><circle cx="399.0" cy="62.6" r="0.88"/><circle cx="428.4" cy="47.4" r="0.54"/><circle cx="416.0" cy="43.2" r="0.59"/><circle cx="392.0" cy="84.9" r="0.85"/><circle cx="438.9" cy="74.0" r="0.52"/><circle cx="402.1" cy="83.1" r="0.52"/><circle cx="415.9" cy="81.4" r="0.60"/><circle cx="406.5" cy="73.1" r="0.76"/><circle cx="394.5" cy="81.1" r="0.53"/><circle cx="395.0" cy="56.4" r="0.58"/><circle cx="413.3" cy="58.3" r="0.79"/><circle cx="435.6" cy="80.1" r="0.84"/><circle cx="400.7" cy="74.2" r="0.82"/><circle cx="436.9" cy="61.9" r="0.86"/><circle cx="407.3" cy="86.3" r="0.77"/><circle cx="389.0" cy="87.7" r="0.81"/><circle cx="418.8" cy="89.8" r="0.85"/><circle cx="434.7" cy="79.7" r="0.79"/><circle cx="392.2" cy="70.5" r="0.50"/><circle cx="416.4" cy="49.0" r="0.78"/><circle cx="441.7" cy="50.6" r="0.72"/><circle cx="402.8" cy="90.8" r="0.70"/><circle cx="395.8" cy="73.4" r="0.69"/><circle cx="417.1" cy="63.4" r="0.56"/><circle cx="392.4" cy="71.3" r="0.55"/><circle cx="409.0" cy="69.4" r="0.82"/><circle cx="394.7" cy="59.7" r="0.55"/><circle cx="399.8" cy="90.3" r="0.79"/><circle cx="389.2" cy="91.1" r="0.63"/><circle cx="420.3" cy="81.1" r="0.59"/><circle cx="402.8" cy="56.5" r="0.74"/><circle cx="445.2" cy="48.1" r="0.89"/><circle cx="420.6" cy="64.4" r="0.53"/><circle cx="429.3" cy="44.0" r="0.84"/><circle cx="401.8" cy="82.5" r="0.80"/><circle cx="407.9" cy="55.0" r="0.73"/><circle cx="413.8" cy="61.2" r="0.90"/><circle cx="406.1" cy="58.2" r="0.80"/><circle cx="412.6" cy="53.4" r="0.67"/><circle cx="392.2" cy="48.6" r="0.83"/><circle cx="414.0" cy="63.5" r="0.68"/><circle cx="396.3" cy="46.3" r="0.50"/><circle cx="421.7" cy="56.0" r="0.77"/><circle cx="404.8" cy="80.6" r="0.87"/><circle cx="408.1" cy="72.3" r="0.57"/><circle cx="422.1" cy="54.7" r="0.68"/><circle cx="436.1" cy="85.3" r="0.67"/><circle cx="427.1" cy="68.7" r="0.65"/><circle cx="390.2" cy="42.7" r="0.56"/><circle cx="411.0" cy="55.2" r="0.58"/><circle cx="403.3" cy="57.7" r="0.80"/><circle cx="434.9" cy="81.3" r="0.73"/><circle cx="387.7" cy="83.0" r="0.81"/><circle cx="392.1" cy="52.5" r="0.68"/><circle cx="398.1" cy="91.7" r="0.75"/><circle cx="420.4" cy="52.9" r="0.66"/><circle cx="419.0" cy="80.2" r="0.64"/><circle cx="411.2" cy="57.4" r="0.69"/><circle cx="404.9" cy="52.7" r="0.72"/><circle cx="441.0" cy="89.5" r="0.88"/><circle cx="406.9" cy="89.6" r="0.55"/><circle cx="401.3" cy="51.0" r="0.75"/><circle cx="400.9" cy="55.3" r="0.55"/><circle cx="428.1" cy="72.8" r="0.68"/><circle cx="423.4" cy="85.3" r="0.88"/><circle cx="398.6" cy="84.4" r="0.75"/><circle cx="429.2" cy="47.6" r="0.89"/><circle cx="408.1" cy="45.0" r="0.71"/><circle cx="405.2" cy="77.8" r="0.75"/><circle cx="435.9" cy="85.3" r="0.81"/><circle cx="407.9" cy="66.6" r="0.70"/><circle cx="428.7" cy="71.8" r="0.74"/><circle cx="405.8" cy="65.5" r="0.65"/><circle cx="434.0" cy="89.7" r="0.77"/><circle cx="407.1" cy="53.7" r="0.89"/><circle cx="443.8" cy="83.6" r="0.85"/></g>
<g fill="#f4d8f0" opacity="0.6"><circle cx="418.9" cy="78.6" r="0.75"/><circle cx="387.4" cy="68.0" r="0.99"/><circle cx="408.4" cy="75.1" r="0.56"/><circle cx="426.1" cy="59.6" r="0.99"/><circle cx="417.5" cy="75.9" r="0.66"/><circle cx="406.0" cy="81.0" r="0.75"/><circle cx="423.7" cy="85.9" r="0.55"/><circle cx="407.1" cy="86.4" r="0.83"/><circle cx="434.8" cy="72.6" r="0.86"/><circle cx="389.7" cy="45.5" r="0.88"/><circle cx="430.2" cy="56.1" r="0.73"/><circle cx="439.2" cy="86.7" r="0.62"/><circle cx="446.2" cy="91.5" r="0.68"/><circle cx="417.2" cy="48.8" r="0.71"/><circle cx="397.4" cy="54.5" r="0.82"/><circle cx="436.4" cy="61.8" r="0.99"/><circle cx="390.8" cy="75.3" r="1.00"/><circle cx="392.3" cy="51.4" r="0.73"/><circle cx="400.1" cy="85.0" r="0.76"/><circle cx="385.2" cy="56.9" r="0.71"/><circle cx="423.8" cy="50.8" r="0.89"/><circle cx="410.9" cy="70.6" r="0.72"/><circle cx="442.5" cy="43.9" r="0.87"/><circle cx="436.7" cy="90.0" r="0.52"/><circle cx="397.8" cy="58.4" r="0.93"/><circle cx="427.2" cy="64.9" r="0.82"/><circle cx="416.9" cy="85.8" r="0.74"/><circle cx="410.6" cy="49.1" r="0.85"/><circle cx="391.6" cy="64.4" r="0.55"/><circle cx="415.9" cy="73.8" r="0.92"/><circle cx="421.5" cy="76.6" r="0.58"/><circle cx="408.7" cy="41.5" r="0.77"/><circle cx="407.6" cy="67.1" r="0.52"/><circle cx="444.9" cy="83.9" r="0.59"/><circle cx="437.5" cy="70.0" r="0.85"/><circle cx="419.4" cy="89.4" r="0.56"/><circle cx="438.3" cy="78.8" r="0.85"/><circle cx="446.6" cy="89.5" r="0.50"/><circle cx="400.2" cy="75.8" r="0.79"/><circle cx="420.3" cy="68.1" r="0.86"/><circle cx="392.0" cy="50.3" r="0.64"/><circle cx="415.6" cy="68.5" r="0.71"/><circle cx="406.3" cy="72.5" r="0.56"/><circle cx="398.1" cy="91.0" r="0.85"/><circle cx="396.6" cy="61.1" r="0.65"/><circle cx="414.4" cy="84.4" r="0.90"/><circle cx="386.3" cy="73.8" r="0.98"/><circle cx="410.5" cy="57.0" r="0.59"/><circle cx="404.1" cy="88.0" r="0.67"/><circle cx="400.3" cy="60.8" r="0.95"/><circle cx="385.6" cy="40.0" r="0.85"/><circle cx="387.2" cy="53.5" r="0.71"/><circle cx="412.7" cy="56.3" r="0.83"/><circle cx="403.1" cy="70.3" r="0.94"/><circle cx="431.9" cy="85.8" r="0.56"/><circle cx="410.0" cy="72.6" r="0.67"/><circle cx="404.5" cy="45.2" r="0.68"/><circle cx="443.9" cy="61.0" r="0.53"/><circle cx="406.4" cy="40.7" r="0.88"/><circle cx="397.2" cy="70.6" r="0.97"/></g>
<rect x="385" y="40" width="62.00" height="52.00" filter="url(#tex)" opacity="0.35"/>
<path d="M410 97 C424 88 436 78 452 66 L452 97 Z" fill="#e6a2ce" filter="url(#blur1)"/>
<path d="M420 89 L424 87 M430 84 L434 82 M440 78 L443 76" stroke="#f8f0f4" stroke-width="1.6"/>
<path d="M382 65 C390 58 398 52 410 48 C422 45 435 42 450 39" stroke="#802e92" stroke-width="2.2" fill="none" filter="url(#blur1)"/>
<path d="M380 30 L452 30 L450 39.6 C440 41 430 44 420 46 C412 48 405 50 398 54 C392 57 388 60 380 66 Z" fill="#f3f0f2" filter="url(#blur1)"/>
</g>
<g clip-path="url(#c03)">
<rect x="451" y="40" width="62.00" height="52.00" fill="#c48ccc"/>

<g filter="url(#blur15)">
<path d="M455.0 70.9L462.5 91.5" stroke="#9852b2" stroke-width="8.49" stroke-linecap="round" fill="none"/>
<path d="M464.8 66.1L472.1 86.2" stroke="#9852b2" stroke-width="8.60" stroke-linecap="round" fill="none"/>
<path d="M476.4 60.0L483.7 79.8" stroke="#9852b2" stroke-width="8.48" stroke-linecap="round" fill="none"/>
<path d="M485.9 54.7L493.1 74.7" stroke="#9852b2" stroke-width="8.42" stroke-linecap="round" fill="none"/>
<path d="M496.4 49.9L503.4 69.0" stroke="#9852b2" stroke-width="9.31" stroke-linecap="round" fill="none"/>
<path d="M508.2 43.5L515.2 62.6" stroke="#9852b2" stroke-width="7.90" stroke-linecap="round" fill="none"/>
<path d="M516.9 38.5L523.9 57.7" stroke="#9852b2" stroke-width="7.62" stroke-linecap="round" fill="none"/>
<path d="M455.5 72.3L462.1 90.4" stroke="#eedcf2" stroke-width="5.16" stroke-linecap="round" fill="none" opacity="0.9"/>
<path d="M465.3 67.5L471.7 85.1" stroke="#eedcf2" stroke-width="3.57" stroke-linecap="round" fill="none" opacity="0.9"/>
<path d="M476.9 61.4L483.3 78.7" stroke="#eedcf2" stroke-width="3.61" stroke-linecap="round" fill="none" opacity="0.9"/>
<path d="M486.4 56.1L492.7 73.5" stroke="#eedcf2" stroke-width="3.95" stroke-linecap="round" fill="none" opacity="0.9"/>
<path d="M496.9 51.3L502.9 67.9" stroke="#eedcf2" stroke-width="4.94" stroke-linecap="round" fill="none" opacity="0.9"/>
<path d="M508.8 44.9L514.8 61.4" stroke="#eedcf2" stroke-width="3.82" stroke-linecap="round" fill="none" opacity="0.9"/>
<path d="M517.4 39.9L523.5 56.6" stroke="#eedcf2" stroke-width="3.04" stroke-linecap="round" fill="none" opacity="0.9"/>
</g>
<g fill="#9852b2" opacity="0.5"><circle cx="467.5" cy="51.9" r="0.51"/><circle cx="506.3" cy="78.1" r="0.55"/><circle cx="466.1" cy="91.0" r="0.78"/><circle cx="478.7" cy="70.1" r="0.89"/><circle cx="465.8" cy="72.9" r="0.51"/><circle cx="481.1" cy="52.2" r="0.64"/><circle cx="475.4" cy="62.2" r="0.86"/><circle cx="473.6" cy="41.0" r="0.83"/><circle cx="508.2" cy="83.8" r="0.62"/><circle cx="473.0" cy="79.8" r="0.53"/><circle cx="454.6" cy="66.3" r="0.59"/><circle cx="479.7" cy="48.3" r="0.88"/><circle cx="481.8" cy="58.0" r="0.62"/><circle cx="468.0" cy="80.7" r="0.82"/><circle cx="500.0" cy="88.4" r="0.74"/><circle cx="474.8" cy="61.9" r="0.55"/><circle cx="473.7" cy="65.2" r="0.85"/><circle cx="486.8" cy="45.1" r="0.71"/><circle cx="472.1" cy="81.9" r="0.84"/><circle cx="487.9" cy="74.2" r="0.67"/><circle cx="468.3" cy="81.7" r="0.81"/><circle cx="485.5" cy="88.4" r="0.83"/><circle cx="494.3" cy="45.5" r="0.88"/><circle cx="456.9" cy="50.5" r="0.55"/><circle cx="462.0" cy="76.4" r="0.72"/><circle cx="459.0" cy="50.5" r="0.80"/><circle cx="470.7" cy="51.2" r="0.82"/><circle cx="467.1" cy="44.5" r="0.71"/><circle cx="496.6" cy="40.2" r="0.75"/><circle cx="462.4" cy="85.2" r="0.69"/><circle cx="472.1" cy="57.5" r="0.53"/><circle cx="453.2" cy="66.2" r="0.70"/><circle cx="460.8" cy="46.0" r="0.68"/><circle cx="508.0" cy="42.9" r="0.77"/><circle cx="508.8" cy="55.6" r="0.65"/><circle cx="485.2" cy="52.1" r="0.51"/><circle cx="460.2" cy="86.4" r="0.67"/><circle cx="505.4" cy="48.9" r="0.80"/><circle cx="465.1" cy="58.9" r="0.80"/><circle cx="512.9" cy="91.2" r="0.82"/><circle cx="458.0" cy="73.1" r="0.79"/><circle cx="467.9" cy="68.6" r="0.63"/><circle cx="493.3" cy="79.6" r="0.77"/><circle cx="463.9" cy="40.6" r="0.60"/><circle cx="481.2" cy="43.1" r="0.79"/><circle cx="498.4" cy="76.3" r="0.70"/><circle cx="511.0" cy="63.5" r="0.65"/><circle cx="503.1" cy="70.6" r="0.72"/><circle cx="478.0" cy="50.7" r="0.61"/><circle cx="475.4" cy="81.6" r="0.67"/><circle cx="470.2" cy="47.6" r="0.83"/><circle cx="472.4" cy="60.2" r="0.52"/><circle cx="495.2" cy="58.4" r="0.62"/><circle cx="473.7" cy="53.9" r="0.65"/><circle cx="470.9" cy="55.6" r="0.82"/><circle cx="509.5" cy="67.5" r="0.57"/><circle cx="461.0" cy="57.5" r="0.86"/><circle cx="510.1" cy="45.5" r="0.54"/><circle cx="507.7" cy="77.4" r="0.69"/><circle cx="492.9" cy="68.7" r="0.56"/><circle cx="507.8" cy="41.9" r="0.64"/><circle cx="453.2" cy="42.8" r="0.58"/><circle cx="461.7" cy="88.3" r="0.72"/><circle cx="489.9" cy="83.7" r="0.73"/><circle cx="463.9" cy="52.4" r="0.54"/><circle cx="478.2" cy="81.8" r="0.89"/><circle cx="492.1" cy="51.3" r="0.83"/><circle cx="490.6" cy="65.4" r="0.83"/><circle cx="475.2" cy="82.8" r="0.67"/><circle cx="486.6" cy="55.0" r="0.59"/><circle cx="496.4" cy="84.3" r="0.53"/><circle cx="466.0" cy="82.6" r="0.88"/><circle cx="488.2" cy="89.5" r="0.73"/><circle cx="511.4" cy="66.9" r="0.67"/><circle cx="504.2" cy="91.4" r="0.57"/><circle cx="460.9" cy="58.0" r="0.56"/><circle cx="461.4" cy="66.0" r="0.89"/><circle cx="501.8" cy="55.6" r="0.62"/><circle cx="469.4" cy="84.3" r="0.62"/><circle cx="458.5" cy="87.1" r="0.85"/><circle cx="486.1" cy="62.1" r="0.56"/><circle cx="480.6" cy="57.7" r="0.82"/><circle cx="462.7" cy="83.7" r="0.87"/><circle cx="510.0" cy="83.3" r="0.54"/><circle cx="493.6" cy="62.9" r="0.52"/><circle cx="456.1" cy="70.1" r="0.83"/><circle cx="481.5" cy="49.9" r="0.52"/><circle cx="486.6" cy="58.4" r="0.52"/><circle cx="504.5" cy="64.2" r="0.77"/><circle cx="457.7" cy="90.8" r="0.75"/><circle cx="453.4" cy="75.6" r="0.52"/><circle cx="469.1" cy="71.4" r="0.86"/><circle cx="486.5" cy="42.0" r="0.83"/><circle cx="473.4" cy="83.3" r="0.71"/><circle cx="487.3" cy="44.8" r="0.79"/><circle cx="465.9" cy="78.3" r="0.72"/><circle cx="497.9" cy="85.8" r="0.56"/><circle cx="503.6" cy="50.1" r="0.52"/><circle cx="466.0" cy="73.2" r="0.58"/><circle cx="489.7" cy="55.1" r="0.88"/><circle cx="492.2" cy="76.8" r="0.52"/><circle cx="479.3" cy="82.7" r="0.84"/><circle cx="460.2" cy="85.1" r="0.63"/><circle cx="506.3" cy="62.7" r="0.76"/><circle cx="496.0" cy="83.7" r="0.72"/><circle cx="474.2" cy="91.1" r="0.85"/><circle cx="479.4" cy="81.9" r="0.85"/><circle cx="500.5" cy="82.4" r="0.77"/><circle cx="468.5" cy="68.1" r="0.52"/><circle cx="480.1" cy="83.3" r="0.74"/><circle cx="501.5" cy="85.9" r="0.74"/><circle cx="495.2" cy="83.2" r="0.84"/><circle cx="472.8" cy="60.6" r="0.54"/><circle cx="456.3" cy="50.7" r="0.68"/><circle cx="473.4" cy="57.0" r="0.54"/><circle cx="471.9" cy="83.9" r="0.81"/><circle cx="472.9" cy="50.0" r="0.62"/><circle cx="500.8" cy="81.8" r="0.67"/><circle cx="459.3" cy="70.3" r="0.57"/><circle cx="489.8" cy="48.3" r="0.61"/><circle cx="455.8" cy="49.1" r="0.73"/><circle cx="481.1" cy="50.5" r="0.74"/><circle cx="494.6" cy="56.8" r="0.65"/><circle cx="469.4" cy="68.5" r="0.69"/><circle cx="471.5" cy="57.4" r="0.67"/><circle cx="502.2" cy="82.8" r="0.82"/><circle cx="481.1" cy="44.6" r="0.53"/><circle cx="487.3" cy="83.9" r="0.86"/><circle cx="509.4" cy="85.3" r="0.75"/><circle cx="466.9" cy="59.0" r="0.62"/><circle cx="475.1" cy="58.4" r="0.78"/><circle cx="503.8" cy="88.6" r="0.62"/><circle cx="510.7" cy="50.0" r="0.59"/><circle cx="469.5" cy="61.3" r="0.82"/><circle cx="460.4" cy="43.9" r="0.90"/><circle cx="488.8" cy="70.1" r="0.70"/><circle cx="467.9" cy="47.3" r="0.63"/><circle cx="463.5" cy="90.8" r="0.89"/><circle cx="491.4" cy="73.7" r="0.74"/><circle cx="484.2" cy="61.4" r="0.74"/></g>
<g fill="#f4d8f0" opacity="0.6"><circle cx="468.7" cy="89.3" r="0.95"/><circle cx="482.9" cy="49.2" r="0.95"/><circle cx="452.0" cy="89.2" r="0.66"/><circle cx="492.6" cy="71.1" r="0.50"/><circle cx="456.4" cy="90.5" r="0.58"/><circle cx="494.6" cy="55.2" r="0.75"/><circle cx="469.4" cy="73.0" r="0.78"/><circle cx="460.6" cy="73.4" r="0.78"/><circle cx="511.8" cy="87.2" r="0.85"/><circle cx="451.8" cy="89.6" r="0.56"/><circle cx="453.8" cy="54.8" r="0.67"/><circle cx="468.1" cy="72.2" r="0.60"/><circle cx="500.9" cy="62.9" r="0.96"/><circle cx="512.4" cy="64.7" r="0.92"/><circle cx="510.4" cy="86.8" r="0.93"/><circle cx="487.6" cy="48.2" r="0.81"/><circle cx="504.6" cy="80.8" r="0.55"/><circle cx="506.3" cy="52.6" r="0.70"/><circle cx="478.3" cy="71.5" r="0.81"/><circle cx="483.8" cy="60.7" r="0.76"/><circle cx="482.0" cy="57.6" r="0.81"/><circle cx="475.9" cy="60.8" r="0.56"/><circle cx="475.2" cy="44.9" r="0.78"/><circle cx="471.2" cy="73.4" r="0.93"/><circle cx="508.0" cy="86.0" r="0.96"/><circle cx="466.4" cy="74.4" r="0.88"/><circle cx="459.7" cy="89.9" r="0.50"/><circle cx="462.4" cy="57.7" r="0.99"/><circle cx="474.8" cy="91.7" r="0.77"/><circle cx="496.3" cy="70.7" r="0.69"/><circle cx="510.8" cy="81.4" r="0.66"/><circle cx="482.1" cy="42.4" r="0.81"/><circle cx="471.6" cy="45.3" r="0.63"/><circle cx="465.1" cy="76.8" r="0.52"/><circle cx="512.7" cy="82.7" r="0.62"/><circle cx="496.5" cy="63.0" r="0.97"/><circle cx="482.7" cy="44.0" r="0.66"/><circle cx="506.7" cy="88.9" r="0.54"/><circle cx="464.4" cy="78.9" r="0.86"/><circle cx="451.9" cy="40.6" r="0.95"/><circle cx="496.4" cy="83.2" r="0.60"/><circle cx="488.1" cy="64.9" r="0.53"/><circle cx="506.0" cy="78.6" r="0.92"/><circle cx="468.8" cy="83.7" r="0.60"/><circle cx="500.6" cy="60.9" r="0.64"/><circle cx="492.8" cy="62.8" r="0.63"/><circle cx="452.8" cy="91.4" r="0.94"/><circle cx="473.9" cy="46.9" r="0.69"/><circle cx="462.9" cy="55.1" r="0.74"/><circle cx="498.8" cy="40.9" r="0.80"/><circle cx="491.0" cy="80.0" r="0.55"/><circle cx="452.5" cy="88.9" r="0.98"/><circle cx="509.5" cy="69.0" r="0.51"/><circle cx="468.0" cy="80.7" r="0.67"/><circle cx="480.1" cy="45.8" r="0.59"/><circle cx="493.9" cy="84.4" r="0.90"/><circle cx="505.1" cy="47.7" r="0.57"/><circle cx="463.0" cy="44.8" r="0.81"/><circle cx="489.0" cy="45.7" r="0.99"/><circle cx="496.1" cy="88.1" r="0.68"/></g>
<rect x="451" y="40" width="62.00" height="52.00" filter="url(#tex)" opacity="0.35"/>
<path d="M462 97 L516 64 L516 97 Z" fill="#ead0e6" filter="url(#blur1)"/>
<path d="M500 93 L514 84 L514 93 Z" fill="#f5f1f3" filter="url(#blur1)"/>
<path d="M449 68 C462 60 478 50 498 37" stroke="#9852b2" stroke-width="2.2" fill="none" filter="url(#blur1)"/>
<path d="M446 30 L498 30 L493 39 C488 44 482 47 476 50 C470 54 464 57 458 62 C454 65 450 67 446 70 Z" fill="#f3f0f2" filter="url(#blur1)"/>
</g>
<g clip-path="url(#c10)">
<rect x="255" y="95" width="63.00" height="53.00" fill="#cb8ccb"/>
<rect x="255" y="95" width="63.00" height="53.00" filter="url(#tex2)" opacity="0.4"/>
<g fill="#6a3a9c" opacity="0.5"><circle cx="255.2" cy="97.5" r="1.12"/><circle cx="260.5" cy="97.6" r="1.04"/><circle cx="264.9" cy="96.1" r="1.22"/><circle cx="270.4" cy="96.6" r="1.15"/><circle cx="274.6" cy="96.4" r="0.96"/><circle cx="281.4" cy="96.4" r="1.23"/><circle cx="286.3" cy="97.6" r="0.87"/><circle cx="290.0" cy="96.0" r="0.98"/><circle cx="296.3" cy="96.4" r="1.18"/><circle cx="301.3" cy="96.9" r="1.09"/><circle cx="306.8" cy="97.1" r="1.24"/><circle cx="313.1" cy="97.5" r="1.03"/><circle cx="317.5" cy="97.1" r="0.95"/><circle cx="259.0" cy="102.0" r="1.20"/><circle cx="263.2" cy="102.1" r="1.21"/><circle cx="269.6" cy="101.4" r="1.02"/><circle cx="273.5" cy="101.7" r="1.19"/><circle cx="279.2" cy="101.8" r="0.85"/><circle cx="283.1" cy="100.8" r="0.94"/><circle cx="288.4" cy="101.9" r="1.06"/><circle cx="291.9" cy="100.6" r="0.89"/><circle cx="298.3" cy="100.8" r="0.98"/><circle cx="303.4" cy="101.8" r="1.08"/><circle cx="308.8" cy="101.5" r="1.12"/><circle cx="313.9" cy="102.1" r="0.82"/><circle cx="317.3" cy="100.6" r="0.86"/><circle cx="256.0" cy="105.3" r="1.04"/><circle cx="259.8" cy="105.4" r="0.89"/><circle cx="264.7" cy="104.8" r="0.89"/><circle cx="270.9" cy="105.7" r="1.24"/><circle cx="274.4" cy="105.9" r="0.89"/><circle cx="280.5" cy="105.0" r="0.92"/><circle cx="286.3" cy="106.5" r="1.05"/><circle cx="289.0" cy="104.6" r="0.93"/><circle cx="295.5" cy="106.2" r="1.17"/><circle cx="300.3" cy="105.4" r="1.13"/><circle cx="305.4" cy="104.5" r="1.08"/><circle cx="309.8" cy="104.8" r="1.20"/><circle cx="313.9" cy="105.9" r="1.03"/><circle cx="317.7" cy="105.4" r="0.90"/><circle cx="258.1" cy="110.6" r="1.08"/><circle cx="263.2" cy="110.5" r="0.85"/><circle cx="268.4" cy="110.5" r="0.90"/><circle cx="272.4" cy="110.7" r="1.19"/><circle cx="276.0" cy="110.2" r="0.81"/><circle cx="280.5" cy="109.5" r="1.08"/><circle cx="285.8" cy="111.3" r="0.86"/><circle cx="291.3" cy="109.7" r="1.23"/><circle cx="296.2" cy="111.1" r="0.85"/><circle cx="302.7" cy="109.6" r="1.21"/><circle cx="308.3" cy="109.9" r="1.13"/><circle cx="312.6" cy="109.4" r="0.81"/><circle cx="318.0" cy="109.6" r="1.08"/><circle cx="255.4" cy="113.9" r="1.21"/><circle cx="261.8" cy="113.9" r="1.04"/><circle cx="267.9" cy="115.2" r="0.82"/><circle cx="271.9" cy="115.8" r="0.80"/><circle cx="277.8" cy="114.0" r="0.94"/><circle cx="282.5" cy="115.2" r="1.22"/><circle cx="285.4" cy="114.5" r="1.14"/><circle cx="292.3" cy="115.2" r="0.84"/><circle cx="295.5" cy="114.3" r="1.10"/><circle cx="301.5" cy="113.8" r="1.21"/><circle cx="306.0" cy="115.5" r="0.82"/><circle cx="311.5" cy="113.8" r="1.02"/><circle cx="315.2" cy="114.2" r="0.88"/><circle cx="258.9" cy="119.9" r="0.92"/><circle cx="261.9" cy="119.7" r="0.88"/><circle cx="266.8" cy="118.7" r="0.88"/><circle cx="272.5" cy="119.6" r="1.03"/><circle cx="276.7" cy="119.7" r="0.82"/><circle cx="283.6" cy="119.6" r="0.96"/><circle cx="287.8" cy="119.2" r="1.06"/><circle cx="293.2" cy="118.8" r="0.95"/><circle cx="299.8" cy="118.7" r="1.15"/><circle cx="304.0" cy="119.0" r="0.84"/><circle cx="308.2" cy="118.2" r="1.08"/><circle cx="315.3" cy="118.5" r="1.23"/><circle cx="319.7" cy="119.2" r="1.01"/><circle cx="256.4" cy="124.6" r="1.14"/><circle cx="262.1" cy="123.7" r="0.82"/><circle cx="267.8" cy="124.0" r="1.14"/><circle cx="271.4" cy="124.5" r="1.08"/><circle cx="277.9" cy="123.5" r="1.15"/><circle cx="283.8" cy="123.0" r="1.11"/><circle cx="288.1" cy="123.1" r="1.02"/><circle cx="294.2" cy="124.0" r="0.95"/><circle cx="300.3" cy="123.9" r="0.98"/><circle cx="304.4" cy="124.0" r="1.18"/><circle cx="311.0" cy="124.3" r="1.00"/><circle cx="315.3" cy="123.8" r="1.00"/><circle cx="257.8" cy="128.5" r="1.04"/><circle cx="263.4" cy="127.6" r="1.09"/><circle cx="267.4" cy="128.0" r="0.85"/><circle cx="274.3" cy="128.7" r="1.23"/><circle cx="278.6" cy="128.7" r="0.91"/><circle cx="282.3" cy="127.8" r="1.04"/><circle cx="287.5" cy="128.6" r="1.10"/><circle cx="292.3" cy="128.8" r="0.81"/><circle cx="296.6" cy="128.1" r="0.97"/><circle cx="300.9" cy="128.5" r="0.92"/><circle cx="306.1" cy="128.4" r="1.22"/><circle cx="311.9" cy="129.1" r="0.96"/><circle cx="316.7" cy="129.2" r="0.97"/><circle cx="256.8" cy="133.2" r="1.10"/><circle cx="261.0" cy="133.7" r="1.02"/><circle cx="266.3" cy="131.8" r="0.98"/><circle cx="271.4" cy="132.2" r="0.87"/><circle cx="276.3" cy="132.8" r="1.17"/><circle cx="282.0" cy="133.3" r="1.21"/><circle cx="287.7" cy="133.5" r="0.96"/><circle cx="293.7" cy="133.4" r="1.18"/><circle cx="298.4" cy="132.8" r="1.22"/><circle cx="303.2" cy="133.6" r="0.92"/><circle cx="307.0" cy="132.6" r="1.03"/><circle cx="311.5" cy="132.0" r="1.01"/><circle cx="316.1" cy="132.1" r="1.08"/><circle cx="259.1" cy="137.8" r="0.93"/><circle cx="264.8" cy="137.1" r="0.95"/><circle cx="270.3" cy="137.1" r="1.02"/><circle cx="274.5" cy="137.4" r="1.12"/><circle cx="281.0" cy="138.0" r="0.95"/><circle cx="286.1" cy="136.8" r="1.06"/><circle cx="290.0" cy="136.2" r="1.01"/><circle cx="294.4" cy="137.4" r="1.05"/><circle cx="300.5" cy="136.6" r="0.98"/><circle cx="305.2" cy="136.9" r="1.06"/><circle cx="310.1" cy="136.1" r="1.15"/><circle cx="314.8" cy="137.5" r="1.06"/><circle cx="255.2" cy="141.1" r="0.85"/><circle cx="259.7" cy="141.8" r="1.16"/><circle cx="266.6" cy="140.6" r="1.08"/><circle cx="270.6" cy="140.4" r="0.82"/><circle cx="274.6" cy="141.3" r="1.23"/><circle cx="280.7" cy="141.5" r="1.13"/><circle cx="284.7" cy="142.0" r="1.13"/><circle cx="290.9" cy="140.5" r="0.90"/><circle cx="294.6" cy="141.1" r="0.85"/><circle cx="299.1" cy="140.0" r="1.16"/><circle cx="304.6" cy="141.1" r="0.94"/><circle cx="308.3" cy="140.1" r="0.95"/><circle cx="314.5" cy="141.4" r="1.06"/><circle cx="319.6" cy="141.7" r="0.84"/><circle cx="258.3" cy="145.1" r="0.95"/><circle cx="263.3" cy="146.2" r="1.13"/><circle cx="268.1" cy="146.5" r="1.13"/><circle cx="272.7" cy="146.7" r="1.05"/><circle cx="279.3" cy="145.2" r="0.82"/><circle cx="284.2" cy="146.0" r="1.05"/><circle cx="289.9" cy="146.3" r="1.13"/><circle cx="293.6" cy="146.6" r="0.82"/><circle cx="298.9" cy="145.7" r="1.20"/><circle cx="303.4" cy="145.3" r="1.18"/><circle cx="308.6" cy="146.4" r="1.00"/><circle cx="313.5" cy="145.0" r="1.17"/><circle cx="316.9" cy="145.9" r="0.99"/></g>
<g filter="url(#blur1)"><path d="M291 112 C294 104 302 100 310 101 C312 104 306 110 298 114 C295 115 292 115 291 112 Z" fill="#f7f3f6"/><path d="M293 111.5 C296 105 302 102 308 102.5 C308 105 303 109 297 112.5 Z" fill="#c64c7c"/><path d="M261 142 C262 134 268 129 278 126 C283 122 286 119 290 119 C292 124 290 130 286 134 C283 139 278 143 270 144 Z" fill="#f6f3f6"/><path d="M263 141 C264 135 269 131 278 128 C281 131 282 136 279 139 C274 142 268 142 263 141 Z" fill="#c5467a"/></g>
</g>
<g clip-path="url(#c11)">
<rect x="321" y="95" width="61.00" height="53.00" fill="#ba74be"/>
<rect x="321" y="95" width="61.00" height="53.00" filter="url(#tex2)" opacity="0.4"/>
<g fill="#6a3a9c" opacity="0.65"><circle cx="321.6" cy="97.9" r="1.22"/><circle cx="327.4" cy="96.4" r="0.90"/><circle cx="332.2" cy="96.4" r="1.24"/><circle cx="335.5" cy="96.2" r="1.15"/><circle cx="340.8" cy="96.7" r="1.09"/><circle cx="345.1" cy="96.9" r="0.94"/><circle cx="350.7" cy="97.4" r="1.10"/><circle cx="355.5" cy="96.8" r="0.99"/><circle cx="360.9" cy="96.0" r="1.01"/><circle cx="365.3" cy="96.0" r="1.12"/><circle cx="370.0" cy="96.3" r="0.82"/><circle cx="373.4" cy="96.3" r="1.11"/><circle cx="379.4" cy="97.3" r="1.01"/><circle cx="324.9" cy="102.3" r="1.11"/><circle cx="327.5" cy="100.9" r="0.96"/><circle cx="334.8" cy="102.6" r="0.85"/><circle cx="339.9" cy="102.5" r="1.16"/><circle cx="343.2" cy="102.5" r="1.13"/><circle cx="349.3" cy="102.7" r="0.86"/><circle cx="355.9" cy="101.6" r="0.83"/><circle cx="360.6" cy="101.6" r="0.83"/><circle cx="365.5" cy="101.1" r="1.22"/><circle cx="368.9" cy="101.1" r="1.24"/><circle cx="374.8" cy="101.1" r="1.09"/><circle cx="379.8" cy="102.1" r="1.19"/><circle cx="322.1" cy="106.0" r="1.10"/><circle cx="327.8" cy="106.1" r="1.22"/><circle cx="332.7" cy="107.2" r="0.98"/><circle cx="336.1" cy="105.6" r="0.87"/><circle cx="340.7" cy="106.2" r="1.00"/><circle cx="346.7" cy="106.8" r="0.96"/><circle cx="351.7" cy="105.7" r="1.05"/><circle cx="356.6" cy="106.9" r="0.91"/><circle cx="361.1" cy="106.0" r="0.82"/><circle cx="366.4" cy="106.9" r="1.00"/><circle cx="370.2" cy="106.9" r="1.23"/><circle cx="376.1" cy="107.4" r="1.21"/><circle cx="380.3" cy="106.3" r="0.92"/><circle cx="325.7" cy="109.7" r="1.11"/><circle cx="329.9" cy="111.0" r="1.24"/><circle cx="334.8" cy="111.0" r="0.87"/><circle cx="340.3" cy="110.1" r="0.91"/><circle cx="345.6" cy="109.8" r="0.90"/><circle cx="348.8" cy="111.0" r="1.06"/><circle cx="355.6" cy="110.5" r="0.82"/><circle cx="359.3" cy="111.0" r="1.21"/><circle cx="363.7" cy="110.8" r="1.22"/><circle cx="369.9" cy="111.4" r="1.06"/><circle cx="373.2" cy="109.8" r="0.82"/><circle cx="379.6" cy="111.6" r="1.07"/><circle cx="320.4" cy="114.6" r="1.04"/><circle cx="326.6" cy="114.5" r="1.13"/><circle cx="332.0" cy="114.3" r="1.18"/><circle cx="338.0" cy="115.9" r="0.95"/><circle cx="341.4" cy="115.8" r="1.01"/><circle cx="345.6" cy="114.3" r="1.00"/><circle cx="352.8" cy="115.5" r="1.14"/><circle cx="357.1" cy="114.4" r="1.04"/><circle cx="361.5" cy="114.2" r="1.07"/><circle cx="366.3" cy="115.4" r="0.97"/><circle cx="372.4" cy="115.2" r="1.24"/><circle cx="376.1" cy="115.3" r="0.84"/><circle cx="382.0" cy="115.7" r="0.82"/><circle cx="322.6" cy="118.3" r="1.24"/><circle cx="330.0" cy="118.4" r="1.11"/><circle cx="335.1" cy="118.6" r="1.24"/><circle cx="340.4" cy="118.6" r="0.98"/><circle cx="345.4" cy="119.0" r="1.21"/><circle cx="351.0" cy="118.1" r="1.04"/><circle cx="354.6" cy="119.4" r="0.93"/><circle cx="361.1" cy="118.3" r="1.22"/><circle cx="364.7" cy="118.9" r="0.83"/><circle cx="370.3" cy="118.2" r="1.04"/><circle cx="375.3" cy="119.7" r="1.17"/><circle cx="379.0" cy="119.6" r="1.19"/><circle cx="322.9" cy="124.2" r="1.14"/><circle cx="326.8" cy="124.2" r="1.06"/><circle cx="331.4" cy="124.2" r="1.04"/><circle cx="336.6" cy="123.9" r="1.20"/><circle cx="342.9" cy="124.2" r="0.84"/><circle cx="347.3" cy="124.4" r="0.85"/><circle cx="351.6" cy="123.4" r="0.86"/><circle cx="355.9" cy="124.3" r="0.88"/><circle cx="360.7" cy="123.3" r="1.10"/><circle cx="365.4" cy="123.1" r="0.90"/><circle cx="370.7" cy="124.2" r="1.21"/><circle cx="376.7" cy="123.4" r="1.15"/><circle cx="380.8" cy="124.5" r="1.11"/><circle cx="323.7" cy="129.2" r="1.24"/><circle cx="329.4" cy="128.8" r="0.80"/><circle cx="332.8" cy="129.1" r="1.19"/><circle cx="337.4" cy="129.2" r="0.89"/><circle cx="341.7" cy="128.7" r="1.19"/><circle cx="346.5" cy="127.7" r="0.86"/><circle cx="352.5" cy="129.2" r="1.08"/><circle cx="358.2" cy="127.7" r="1.20"/><circle cx="364.0" cy="128.9" r="0.88"/><circle cx="367.4" cy="128.8" r="0.89"/><circle cx="374.0" cy="128.7" r="1.02"/><circle cx="378.3" cy="127.7" r="1.02"/><circle cx="383.4" cy="127.8" r="1.20"/><circle cx="322.3" cy="131.8" r="1.09"/><circle cx="327.5" cy="132.5" r="1.06"/><circle cx="331.7" cy="133.3" r="1.01"/><circle cx="336.8" cy="132.2" r="1.18"/><circle cx="342.7" cy="132.8" r="0.93"/><circle cx="347.4" cy="133.5" r="0.86"/><circle cx="351.6" cy="132.1" r="0.99"/><circle cx="356.8" cy="132.9" r="1.14"/><circle cx="362.2" cy="133.3" r="0.90"/><circle cx="367.0" cy="132.5" r="1.17"/><circle cx="372.2" cy="132.1" r="1.24"/><circle cx="377.3" cy="132.8" r="0.87"/><circle cx="381.8" cy="133.1" r="1.04"/><circle cx="323.3" cy="136.5" r="1.17"/><circle cx="328.9" cy="137.0" r="0.99"/><circle cx="333.1" cy="137.4" r="1.15"/><circle cx="337.3" cy="136.4" r="1.02"/><circle cx="342.3" cy="136.6" r="1.04"/><circle cx="347.4" cy="138.0" r="1.23"/><circle cx="352.7" cy="138.0" r="0.95"/><circle cx="358.6" cy="136.6" r="1.14"/><circle cx="363.2" cy="137.7" r="0.93"/><circle cx="368.9" cy="136.7" r="1.23"/><circle cx="373.0" cy="136.4" r="0.88"/><circle cx="379.6" cy="138.2" r="1.20"/><circle cx="383.0" cy="136.5" r="0.98"/><circle cx="322.9" cy="142.3" r="1.19"/><circle cx="328.1" cy="141.5" r="1.04"/><circle cx="333.3" cy="142.4" r="1.10"/><circle cx="337.7" cy="141.6" r="0.86"/><circle cx="341.9" cy="142.6" r="1.12"/><circle cx="347.1" cy="142.2" r="1.07"/><circle cx="350.1" cy="141.4" r="1.02"/><circle cx="355.1" cy="141.9" r="1.09"/><circle cx="360.0" cy="140.9" r="1.17"/><circle cx="366.2" cy="142.2" r="0.91"/><circle cx="369.2" cy="142.3" r="1.19"/><circle cx="376.0" cy="142.3" r="1.18"/><circle cx="379.4" cy="142.5" r="1.24"/><circle cx="325.0" cy="145.9" r="0.82"/><circle cx="328.9" cy="146.8" r="1.09"/><circle cx="334.0" cy="145.9" r="1.16"/><circle cx="339.3" cy="145.6" r="0.95"/><circle cx="344.7" cy="147.2" r="0.94"/><circle cx="349.2" cy="146.2" r="1.13"/><circle cx="354.3" cy="147.0" r="0.89"/><circle cx="359.0" cy="146.3" r="1.05"/><circle cx="363.9" cy="146.2" r="0.93"/><circle cx="369.2" cy="146.1" r="0.89"/><circle cx="375.5" cy="147.2" r="0.88"/><circle cx="379.0" cy="146.5" r="1.11"/></g>
<g filter="url(#blur1)"><path d="M337 127 C338 117 346 112 356 110 C362 108 368 108 369 112 C370 118 366 124 360 128 C354 133 346 136 340 135 C337 133 336 130 337 127 Z" fill="#f3eff4"/><path d="M338.5 127 C339.5 118 347 113.5 356 111.5 C362 110.5 366 113 364 119 C361 125 354 131 346 134 C341 134 338.5 131 338.5 127 Z" fill="#b84a70"/></g>
</g>
<g clip-path="url(#c12)">
<rect x="385" y="95" width="62.00" height="53.00" fill="#c084c4"/>
<rect x="385" y="95" width="62.00" height="53.00" filter="url(#tex2)" opacity="0.4"/>
<path d="M392 100 C405 102 415 108 420 112 C414 120 408 126 404 134 C400 140 398 146 396 150 L386 150 L386 130 C390 122 394 112 392 100 Z" fill="#7e54a8" opacity="0.22" filter="url(#blur2)"/>
<g fill="#6a3a9c" opacity="0.5"><circle cx="385.5" cy="96.3" r="1.12"/><circle cx="390.2" cy="97.2" r="1.05"/><circle cx="394.8" cy="97.2" r="1.03"/><circle cx="400.8" cy="96.8" r="0.90"/><circle cx="405.4" cy="97.4" r="1.07"/><circle cx="409.7" cy="96.4" r="1.04"/><circle cx="414.3" cy="97.3" r="1.10"/><circle cx="417.9" cy="96.7" r="1.11"/><circle cx="424.2" cy="96.9" r="0.98"/><circle cx="428.7" cy="96.4" r="1.06"/><circle cx="434.4" cy="97.1" r="1.00"/><circle cx="440.6" cy="97.7" r="1.09"/><circle cx="445.7" cy="96.9" r="1.08"/><circle cx="388.8" cy="101.9" r="1.21"/><circle cx="393.5" cy="102.6" r="1.04"/><circle cx="399.2" cy="102.6" r="0.88"/><circle cx="403.3" cy="102.4" r="0.97"/><circle cx="407.6" cy="102.6" r="0.90"/><circle cx="412.5" cy="101.1" r="0.99"/><circle cx="416.5" cy="101.1" r="0.84"/><circle cx="420.7" cy="100.9" r="0.87"/><circle cx="425.9" cy="102.1" r="0.99"/><circle cx="430.2" cy="101.3" r="1.13"/><circle cx="435.3" cy="102.3" r="1.17"/><circle cx="441.0" cy="102.0" r="0.90"/><circle cx="444.0" cy="102.3" r="0.98"/><circle cx="386.8" cy="105.7" r="0.92"/><circle cx="391.7" cy="107.1" r="1.21"/><circle cx="397.6" cy="106.9" r="1.01"/><circle cx="401.8" cy="107.2" r="1.13"/><circle cx="407.0" cy="106.0" r="1.23"/><circle cx="412.2" cy="106.9" r="1.02"/><circle cx="418.8" cy="106.3" r="0.86"/><circle cx="423.4" cy="106.1" r="0.86"/><circle cx="427.9" cy="106.2" r="1.05"/><circle cx="433.4" cy="107.6" r="0.83"/><circle cx="439.4" cy="107.6" r="0.81"/><circle cx="444.0" cy="106.8" r="1.01"/><circle cx="449.3" cy="107.4" r="1.12"/><circle cx="388.0" cy="110.4" r="1.14"/><circle cx="392.3" cy="110.5" r="0.83"/><circle cx="398.3" cy="110.7" r="1.20"/><circle cx="401.5" cy="111.1" r="0.96"/><circle cx="407.0" cy="111.2" r="0.89"/><circle cx="412.3" cy="110.9" r="1.02"/><circle cx="416.4" cy="110.3" r="1.11"/><circle cx="422.0" cy="111.1" r="1.25"/><circle cx="429.5" cy="111.3" r="1.24"/><circle cx="432.8" cy="111.9" r="0.98"/><circle cx="437.6" cy="111.0" r="1.17"/><circle cx="443.0" cy="110.8" r="1.16"/><circle cx="449.5" cy="111.6" r="1.21"/><circle cx="384.7" cy="116.6" r="1.19"/><circle cx="390.7" cy="116.3" r="1.22"/><circle cx="394.8" cy="115.2" r="0.90"/><circle cx="401.7" cy="116.5" r="1.11"/><circle cx="407.7" cy="115.7" r="1.21"/><circle cx="411.6" cy="116.0" r="0.88"/><circle cx="417.6" cy="114.9" r="1.04"/><circle cx="421.4" cy="115.0" r="1.04"/><circle cx="425.8" cy="115.6" r="1.11"/><circle cx="431.5" cy="115.0" r="1.01"/><circle cx="436.4" cy="116.6" r="1.13"/><circle cx="440.0" cy="116.5" r="1.03"/><circle cx="446.0" cy="115.2" r="0.97"/><circle cx="388.5" cy="119.2" r="1.03"/><circle cx="394.0" cy="120.7" r="0.82"/><circle cx="398.6" cy="121.0" r="1.18"/><circle cx="404.9" cy="119.9" r="1.08"/><circle cx="409.3" cy="119.8" r="1.09"/><circle cx="414.7" cy="119.9" r="0.87"/><circle cx="419.7" cy="119.4" r="1.09"/><circle cx="425.3" cy="119.7" r="1.13"/><circle cx="429.8" cy="119.9" r="1.24"/><circle cx="435.0" cy="119.5" r="1.17"/><circle cx="440.8" cy="120.3" r="0.88"/><circle cx="446.6" cy="120.7" r="1.07"/><circle cx="384.9" cy="125.6" r="0.99"/><circle cx="391.8" cy="125.2" r="0.87"/><circle cx="396.6" cy="125.3" r="1.15"/><circle cx="402.1" cy="125.3" r="0.87"/><circle cx="406.2" cy="125.9" r="1.22"/><circle cx="410.7" cy="125.5" r="1.01"/><circle cx="416.6" cy="124.8" r="0.86"/><circle cx="422.0" cy="126.0" r="0.85"/><circle cx="426.3" cy="126.1" r="0.98"/><circle cx="430.6" cy="125.1" r="0.88"/><circle cx="436.1" cy="125.6" r="0.90"/><circle cx="441.7" cy="124.5" r="0.93"/><circle cx="446.7" cy="124.8" r="1.08"/><circle cx="389.3" cy="130.8" r="1.22"/><circle cx="394.7" cy="130.4" r="0.98"/><circle cx="399.5" cy="129.8" r="0.95"/><circle cx="404.3" cy="130.6" r="0.85"/><circle cx="410.1" cy="130.9" r="1.22"/><circle cx="415.1" cy="130.2" r="1.18"/><circle cx="419.9" cy="129.2" r="1.14"/><circle cx="426.6" cy="129.9" r="1.00"/><circle cx="430.9" cy="129.5" r="0.85"/><circle cx="435.4" cy="129.8" r="1.16"/><circle cx="438.8" cy="130.5" r="1.15"/><circle cx="443.3" cy="130.6" r="1.21"/><circle cx="447.9" cy="130.8" r="1.08"/><circle cx="385.0" cy="134.9" r="1.05"/><circle cx="391.4" cy="133.7" r="0.82"/><circle cx="395.0" cy="134.6" r="0.86"/><circle cx="400.5" cy="134.5" r="1.10"/><circle cx="405.8" cy="133.6" r="0.99"/><circle cx="411.3" cy="134.6" r="1.02"/><circle cx="416.8" cy="133.8" r="0.88"/><circle cx="421.0" cy="133.7" r="1.06"/><circle cx="425.6" cy="135.2" r="1.10"/><circle cx="429.7" cy="133.7" r="0.97"/><circle cx="435.5" cy="134.5" r="1.19"/><circle cx="440.5" cy="134.7" r="1.09"/><circle cx="446.2" cy="134.1" r="1.10"/><circle cx="388.7" cy="137.8" r="0.83"/><circle cx="393.3" cy="138.3" r="1.22"/><circle cx="398.3" cy="139.1" r="1.22"/><circle cx="403.7" cy="139.3" r="0.90"/><circle cx="409.8" cy="139.2" r="0.98"/><circle cx="413.8" cy="139.1" r="1.04"/><circle cx="418.7" cy="139.5" r="1.16"/><circle cx="423.2" cy="139.5" r="1.13"/><circle cx="428.8" cy="138.1" r="1.06"/><circle cx="433.9" cy="138.5" r="0.99"/><circle cx="438.6" cy="139.3" r="0.83"/><circle cx="444.6" cy="138.2" r="0.91"/><circle cx="386.5" cy="142.0" r="1.10"/><circle cx="392.3" cy="142.3" r="1.06"/><circle cx="397.4" cy="143.0" r="1.25"/><circle cx="402.0" cy="143.3" r="1.06"/><circle cx="407.7" cy="143.1" r="1.03"/><circle cx="413.0" cy="142.2" r="0.86"/><circle cx="418.9" cy="142.9" r="1.02"/><circle cx="423.3" cy="142.6" r="0.98"/><circle cx="427.7" cy="142.8" r="1.07"/><circle cx="432.9" cy="143.1" r="1.25"/><circle cx="439.3" cy="143.5" r="0.89"/><circle cx="443.5" cy="142.6" r="0.86"/><circle cx="389.1" cy="148.6" r="1.16"/><circle cx="395.0" cy="148.3" r="0.81"/><circle cx="399.9" cy="147.5" r="1.16"/><circle cx="404.2" cy="147.6" r="0.80"/><circle cx="409.0" cy="146.8" r="0.93"/><circle cx="414.5" cy="148.7" r="0.88"/><circle cx="420.2" cy="148.5" r="1.03"/><circle cx="426.1" cy="147.3" r="1.20"/><circle cx="429.7" cy="147.1" r="1.05"/><circle cx="435.3" cy="148.0" r="1.18"/><circle cx="440.6" cy="147.1" r="0.81"/><circle cx="444.8" cy="147.6" r="1.09"/></g>
<g filter="url(#blur1)"><path d="M410 124 C412 117 420 112 428 110 C434 110 437 114 436 119 C434 125 428 128 420 129 C414 129 410 128 410 124 Z" fill="#f1e6f0"/><path d="M420 125 C422 118 427 114 432 114 C434 118 432 123 426 126 Z" fill="#d88aae"/><ellipse cx="400.5" cy="138.5" rx="1.8" ry="3" fill="#f6f2f6"/></g>
</g>
<g clip-path="url(#c13)">
<rect x="451" y="95" width="62.00" height="53.00" fill="#ca94ce"/>
<rect x="451" y="95" width="62.00" height="53.00" filter="url(#tex2)" opacity="0.4"/>
<path d="M451 132 C465 125 480 116 495 107 C502 103 508 101 513 100 L513 112 C500 118 488 126 476 134 C468 139 460 144 451 149 Z" fill="#6a4a9e" opacity="0.35" filter="url(#blur2)"/>
<g fill="#6a3a9c" opacity="0.5"><circle cx="452.9" cy="97.4" r="1.13"/><circle cx="456.7" cy="97.2" r="0.85"/><circle cx="463.1" cy="97.7" r="0.85"/><circle cx="466.1" cy="97.7" r="0.81"/><circle cx="470.4" cy="96.3" r="1.04"/><circle cx="475.5" cy="97.5" r="1.13"/><circle cx="481.1" cy="97.1" r="1.17"/><circle cx="484.9" cy="97.2" r="1.23"/><circle cx="490.3" cy="96.5" r="0.93"/><circle cx="495.9" cy="97.8" r="1.20"/><circle cx="500.4" cy="96.6" r="1.02"/><circle cx="504.2" cy="96.5" r="0.84"/><circle cx="509.2" cy="97.6" r="1.11"/><circle cx="514.4" cy="98.0" r="1.24"/><circle cx="454.5" cy="101.9" r="1.07"/><circle cx="460.4" cy="101.7" r="1.14"/><circle cx="463.9" cy="100.9" r="1.09"/><circle cx="469.7" cy="101.9" r="1.08"/><circle cx="474.0" cy="101.9" r="1.09"/><circle cx="479.0" cy="101.4" r="1.05"/><circle cx="484.0" cy="102.1" r="1.18"/><circle cx="490.3" cy="101.4" r="1.21"/><circle cx="493.6" cy="102.4" r="0.81"/><circle cx="499.8" cy="102.7" r="1.11"/><circle cx="503.5" cy="102.0" r="0.83"/><circle cx="508.8" cy="102.0" r="0.87"/><circle cx="512.5" cy="102.5" r="0.93"/><circle cx="451.1" cy="106.6" r="0.98"/><circle cx="456.4" cy="107.1" r="0.99"/><circle cx="461.8" cy="107.3" r="1.11"/><circle cx="467.0" cy="107.4" r="0.80"/><circle cx="470.3" cy="106.2" r="0.91"/><circle cx="476.6" cy="107.2" r="0.92"/><circle cx="481.4" cy="107.1" r="1.05"/><circle cx="483.9" cy="107.4" r="1.04"/><circle cx="490.9" cy="107.0" r="1.16"/><circle cx="494.5" cy="106.4" r="1.15"/><circle cx="501.0" cy="106.7" r="1.01"/><circle cx="505.3" cy="106.8" r="1.03"/><circle cx="511.3" cy="107.4" r="0.85"/><circle cx="515.2" cy="106.9" r="0.93"/><circle cx="454.1" cy="110.5" r="0.81"/><circle cx="460.5" cy="111.9" r="1.07"/><circle cx="464.9" cy="110.7" r="0.89"/><circle cx="469.9" cy="110.6" r="1.00"/><circle cx="474.5" cy="110.9" r="0.95"/><circle cx="480.0" cy="110.2" r="0.98"/><circle cx="484.4" cy="110.6" r="1.23"/><circle cx="489.3" cy="111.0" r="1.17"/><circle cx="494.6" cy="110.0" r="0.86"/><circle cx="499.5" cy="111.9" r="1.09"/><circle cx="505.7" cy="111.9" r="1.10"/><circle cx="510.8" cy="110.5" r="0.85"/><circle cx="451.4" cy="114.9" r="1.01"/><circle cx="457.1" cy="114.9" r="0.92"/><circle cx="463.4" cy="116.5" r="0.92"/><circle cx="467.7" cy="115.5" r="1.23"/><circle cx="472.4" cy="115.3" r="1.19"/><circle cx="478.3" cy="116.6" r="1.01"/><circle cx="484.3" cy="115.5" r="0.91"/><circle cx="488.7" cy="116.5" r="1.09"/><circle cx="494.4" cy="115.4" r="1.13"/><circle cx="500.3" cy="116.3" r="0.91"/><circle cx="504.3" cy="116.1" r="1.13"/><circle cx="509.4" cy="115.0" r="0.82"/><circle cx="513.4" cy="115.4" r="0.86"/><circle cx="456.0" cy="121.2" r="1.13"/><circle cx="458.8" cy="121.2" r="1.11"/><circle cx="464.3" cy="119.7" r="0.84"/><circle cx="469.7" cy="120.1" r="0.86"/><circle cx="474.0" cy="121.1" r="1.09"/><circle cx="478.5" cy="120.1" r="0.97"/><circle cx="484.3" cy="120.8" r="0.92"/><circle cx="488.9" cy="119.5" r="1.16"/><circle cx="495.1" cy="119.6" r="1.23"/><circle cx="499.8" cy="121.2" r="1.05"/><circle cx="505.3" cy="119.9" r="1.06"/><circle cx="509.9" cy="120.7" r="0.94"/><circle cx="452.2" cy="125.7" r="1.12"/><circle cx="458.2" cy="125.0" r="0.88"/><circle cx="462.9" cy="125.6" r="0.91"/><circle cx="466.6" cy="125.3" r="1.08"/><circle cx="473.9" cy="125.4" r="1.18"/><circle cx="478.9" cy="124.8" r="1.13"/><circle cx="483.3" cy="125.6" r="1.12"/><circle cx="488.1" cy="124.9" r="1.07"/><circle cx="492.6" cy="124.7" r="1.13"/><circle cx="495.8" cy="124.9" r="1.09"/><circle cx="502.3" cy="125.7" r="0.87"/><circle cx="506.4" cy="125.3" r="1.14"/><circle cx="511.1" cy="124.7" r="1.04"/><circle cx="454.5" cy="130.1" r="1.03"/><circle cx="458.9" cy="129.2" r="1.03"/><circle cx="465.1" cy="129.1" r="1.15"/><circle cx="470.1" cy="128.3" r="1.23"/><circle cx="473.9" cy="129.3" r="0.83"/><circle cx="478.7" cy="128.2" r="1.00"/><circle cx="485.5" cy="130.0" r="1.15"/><circle cx="490.4" cy="130.0" r="0.86"/><circle cx="495.3" cy="128.1" r="1.19"/><circle cx="500.2" cy="129.7" r="1.01"/><circle cx="506.0" cy="129.8" r="1.03"/><circle cx="510.8" cy="128.6" r="1.06"/><circle cx="451.8" cy="134.8" r="1.01"/><circle cx="455.7" cy="133.9" r="0.82"/><circle cx="461.6" cy="133.6" r="1.17"/><circle cx="466.6" cy="134.6" r="1.01"/><circle cx="470.1" cy="133.1" r="1.05"/><circle cx="474.6" cy="133.7" r="0.95"/><circle cx="479.8" cy="134.6" r="1.00"/><circle cx="485.3" cy="133.2" r="1.04"/><circle cx="489.3" cy="133.9" r="1.21"/><circle cx="494.7" cy="134.5" r="0.97"/><circle cx="499.9" cy="133.4" r="1.23"/><circle cx="504.4" cy="134.8" r="1.20"/><circle cx="510.0" cy="134.0" r="0.87"/><circle cx="454.2" cy="138.5" r="0.98"/><circle cx="458.8" cy="137.9" r="0.98"/><circle cx="463.9" cy="137.3" r="0.88"/><circle cx="468.7" cy="137.0" r="1.08"/><circle cx="472.3" cy="138.4" r="0.88"/><circle cx="476.3" cy="138.2" r="0.82"/><circle cx="482.7" cy="137.1" r="1.24"/><circle cx="486.5" cy="138.5" r="0.92"/><circle cx="492.7" cy="138.4" r="0.97"/><circle cx="496.9" cy="138.1" r="0.81"/><circle cx="500.8" cy="137.0" r="1.14"/><circle cx="507.1" cy="137.5" r="0.99"/><circle cx="513.1" cy="138.0" r="1.09"/><circle cx="452.2" cy="141.6" r="0.86"/><circle cx="455.7" cy="142.6" r="1.17"/><circle cx="461.3" cy="143.5" r="1.19"/><circle cx="466.2" cy="142.4" r="0.87"/><circle cx="470.3" cy="142.2" r="0.83"/><circle cx="476.4" cy="141.7" r="0.86"/><circle cx="480.7" cy="142.8" r="0.94"/><circle cx="486.4" cy="142.2" r="1.20"/><circle cx="492.5" cy="142.8" r="1.14"/><circle cx="497.2" cy="142.1" r="1.11"/><circle cx="500.8" cy="143.1" r="1.18"/><circle cx="506.1" cy="142.4" r="0.90"/><circle cx="511.4" cy="142.0" r="1.21"/><circle cx="455.4" cy="147.1" r="0.94"/><circle cx="460.0" cy="147.2" r="0.81"/><circle cx="465.3" cy="147.8" r="1.01"/><circle cx="470.3" cy="147.8" r="0.92"/><circle cx="475.3" cy="146.7" r="0.81"/><circle cx="480.5" cy="147.9" r="1.24"/><circle cx="485.2" cy="146.7" r="0.86"/><circle cx="488.1" cy="146.2" r="0.87"/><circle cx="493.1" cy="147.7" r="0.80"/><circle cx="497.9" cy="146.4" r="0.80"/><circle cx="502.7" cy="146.4" r="0.80"/><circle cx="508.4" cy="147.0" r="1.15"/><circle cx="513.3" cy="147.8" r="1.09"/></g>
<g filter="url(#blur1)"><path d="M476 140 C484 134 492 128 500 122 C504 119 508 116 511 114 L512 126 C505 130 497 134 490 137 C484 139 479 141 476 140 Z" fill="#e79ac0"/><path d="M475 140 C483 134 490 130 497 125 C494 130 488 135 482 138 Z" fill="#f6f2f6"/></g>
</g>
<text x="84.40" y="176.50" font-size="10.6" fill="#1a1a1a" textLength="27.20" lengthAdjust="spacingAndGlyphs">Colon</text>
<text x="190.00" y="176.50" font-size="10.6" fill="#1a1a1a" textLength="21.60" lengthAdjust="spacingAndGlyphs">Liver</text>
<text x="292.30" y="176.50" font-size="10.6" fill="#1a1a1a" textLength="22.30" lengthAdjust="spacingAndGlyphs">Lung</text>
<text x="37.80" y="228.30" font-size="9.4" fill="#1a1a1a" text-anchor="middle" textLength="56.50" lengthAdjust="spacingAndGlyphs" transform="rotate(-90 37.80 228.30)">Pathology score</text>
<line x1="60.00" y1="184.30" x2="60.00" y2="273.60" stroke="#111" stroke-width="1.3"/>
<line x1="59.40" y1="273.00" x2="135.50" y2="273.00" stroke="#111" stroke-width="1.3"/>
<line x1="57.40" y1="273.00" x2="60.00" y2="273.00" stroke="#1a1a1a" stroke-width="1"/>
<text x="53.80" y="275.95" font-size="8.2" fill="#1a1a1a" text-anchor="end">0</text>
<line x1="57.40" y1="243.93" x2="60.00" y2="243.93" stroke="#1a1a1a" stroke-width="1"/>
<text x="53.80" y="246.88" font-size="8.2" fill="#1a1a1a" text-anchor="end">5</text>
<line x1="57.40" y1="214.87" x2="60.00" y2="214.87" stroke="#1a1a1a" stroke-width="1"/>
<text x="53.80" y="217.82" font-size="8.2" fill="#1a1a1a" text-anchor="end">10</text>
<line x1="57.40" y1="185.80" x2="60.00" y2="185.80" stroke="#1a1a1a" stroke-width="1"/>
<text x="53.80" y="188.75" font-size="8.2" fill="#1a1a1a" text-anchor="end">15</text>
<line x1="69.00" y1="273.00" x2="69.00" y2="275.60" stroke="#1a1a1a" stroke-width="0.9"/>
<line x1="88.00" y1="273.00" x2="88.00" y2="275.60" stroke="#1a1a1a" stroke-width="0.9"/>
<line x1="107.50" y1="273.00" x2="107.50" y2="275.60" stroke="#1a1a1a" stroke-width="0.9"/>
<line x1="126.30" y1="273.00" x2="126.30" y2="275.60" stroke="#1a1a1a" stroke-width="0.9"/>
<circle cx="65.50" cy="273.00" r="1.40" fill="#4a1d6e"/>
<circle cx="67.80" cy="273.00" r="1.40" fill="#4a1d6e"/>
<circle cx="70.20" cy="273.00" r="1.40" fill="#4a1d6e"/>
<circle cx="72.50" cy="273.00" r="1.40" fill="#4a1d6e"/>
<line x1="64.50" y1="273.00" x2="73.50" y2="273.00" stroke="#111" stroke-width="1.4"/>
<rect x="90.32" y="230.86" width="2.90" height="2.90" fill="#6db33f"/>
<rect x="90.32" y="241.32" width="2.90" height="2.90" fill="#6db33f"/>
<rect x="82.75" y="244.81" width="2.90" height="2.90" fill="#6db33f"/>
<rect x="90.18" y="248.30" width="2.90" height="2.90" fill="#6db33f"/>
<rect x="83.16" y="250.04" width="2.90" height="2.90" fill="#6db33f"/>
<rect x="87.32" y="251.20" width="2.90" height="2.90" fill="#6db33f"/>
<rect x="82.45" y="253.53" width="2.90" height="2.90" fill="#6db33f"/>
<rect x="87.44" y="256.44" width="2.90" height="2.90" fill="#6db33f"/>
<rect x="84.74" y="258.76" width="2.90" height="2.90" fill="#6db33f"/>
<rect x="90.63" y="265.74" width="2.90" height="2.90" fill="#6db33f"/>
<line x1="82.00" y1="250.91" x2="94.00" y2="250.91" stroke="#111" stroke-width="1.4"/>
<line x1="88.00" y1="241.61" x2="88.00" y2="260.21" stroke="#111" stroke-width="1.2"/>
<line x1="84.60" y1="241.61" x2="91.40" y2="241.61" stroke="#111" stroke-width="1.2"/>
<line x1="84.60" y1="260.21" x2="91.40" y2="260.21" stroke="#111" stroke-width="1.2"/>
<path d="M103.00 213.22L104.65 216.19L101.35 216.19Z" fill="#c0143c"/>
<path d="M104.73 230.66L106.38 233.63L103.08 233.63Z" fill="#c0143c"/>
<path d="M107.43 233.56L109.08 236.53L105.78 236.53Z" fill="#c0143c"/>
<path d="M109.81 236.47L111.46 239.44L108.16 239.44Z" fill="#c0143c"/>
<path d="M106.26 239.38L107.91 242.35L104.61 242.35Z" fill="#c0143c"/>
<path d="M109.62 242.28L111.27 245.25L107.97 245.25Z" fill="#c0143c"/>
<path d="M107.98 248.10L109.63 251.07L106.33 251.07Z" fill="#c0143c"/>
<path d="M103.88 248.10L105.53 251.07L102.23 251.07Z" fill="#c0143c"/>
<path d="M111.59 248.10L113.24 251.07L109.94 251.07Z" fill="#c0143c"/>
<path d="M105.64 248.10L107.29 251.07L103.99 251.07Z" fill="#c0143c"/>
<line x1="101.50" y1="239.28" x2="113.50" y2="239.28" stroke="#111" stroke-width="1.4"/>
<line x1="107.50" y1="229.40" x2="107.50" y2="249.17" stroke="#111" stroke-width="1.2"/>
<line x1="104.10" y1="229.40" x2="110.90" y2="229.40" stroke="#111" stroke-width="1.2"/>
<line x1="104.10" y1="249.17" x2="110.90" y2="249.17" stroke="#111" stroke-width="1.2"/>
<path d="M127.57 219.08L129.17 220.68L127.57 222.28L125.97 220.68Z" fill="#1d4a94"/>
<path d="M122.30 230.71L123.90 232.31L122.30 233.91L120.70 232.31Z" fill="#1d4a94"/>
<path d="M129.54 236.52L131.14 238.12L129.54 239.72L127.94 238.12Z" fill="#1d4a94"/>
<path d="M127.02 239.43L128.62 241.03L127.02 242.63L125.42 241.03Z" fill="#1d4a94"/>
<path d="M129.36 242.33L130.96 243.93L129.36 245.53L127.76 243.93Z" fill="#1d4a94"/>
<path d="M122.05 245.24L123.65 246.84L122.05 248.44L120.45 246.84Z" fill="#1d4a94"/>
<path d="M128.68 248.15L130.28 249.75L128.68 251.35L127.08 249.75Z" fill="#1d4a94"/>
<path d="M122.50 253.96L124.10 255.56L122.50 257.16L120.90 255.56Z" fill="#1d4a94"/>
<path d="M125.76 258.03L127.36 259.63L125.76 261.23L124.16 259.63Z" fill="#1d4a94"/>
<path d="M125.30 265.59L126.90 267.19L125.30 268.79L123.70 267.19Z" fill="#1d4a94"/>
<line x1="120.30" y1="246.26" x2="132.30" y2="246.26" stroke="#111" stroke-width="1.4"/>
<line x1="126.30" y1="232.89" x2="126.30" y2="259.05" stroke="#111" stroke-width="1.2"/>
<line x1="122.90" y1="232.89" x2="129.70" y2="232.89" stroke="#111" stroke-width="1.2"/>
<line x1="122.90" y1="259.05" x2="129.70" y2="259.05" stroke="#111" stroke-width="1.2"/>
<line x1="84.00" y1="202.00" x2="110.00" y2="202.00" stroke="#1a1a1a" stroke-width="1.4"/>
<text x="97.00" y="201.90" font-size="9.2" fill="#1a1a1a" text-anchor="middle" textLength="7.80" lengthAdjust="spacingAndGlyphs">**</text>
<line x1="162.00" y1="183.50" x2="162.00" y2="273.60" stroke="#111" stroke-width="1.3"/>
<line x1="161.40" y1="273.00" x2="240.00" y2="273.00" stroke="#111" stroke-width="1.3"/>
<line x1="159.40" y1="273.00" x2="162.00" y2="273.00" stroke="#1a1a1a" stroke-width="1"/>
<text x="155.80" y="275.95" font-size="8.2" fill="#1a1a1a" text-anchor="end">0</text>
<line x1="159.40" y1="251.00" x2="162.00" y2="251.00" stroke="#1a1a1a" stroke-width="1"/>
<text x="155.80" y="253.95" font-size="8.2" fill="#1a1a1a" text-anchor="end">5</text>
<line x1="159.40" y1="229.00" x2="162.00" y2="229.00" stroke="#1a1a1a" stroke-width="1"/>
<text x="155.80" y="231.95" font-size="8.2" fill="#1a1a1a" text-anchor="end">10</text>
<line x1="159.40" y1="207.00" x2="162.00" y2="207.00" stroke="#1a1a1a" stroke-width="1"/>
<text x="155.80" y="209.95" font-size="8.2" fill="#1a1a1a" text-anchor="end">15</text>
<line x1="159.40" y1="185.00" x2="162.00" y2="185.00" stroke="#1a1a1a" stroke-width="1"/>
<text x="155.80" y="187.95" font-size="8.2" fill="#1a1a1a" text-anchor="end">20</text>
<line x1="171.80" y1="273.00" x2="171.80" y2="275.60" stroke="#1a1a1a" stroke-width="0.9"/>
<line x1="191.00" y1="273.00" x2="191.00" y2="275.60" stroke="#1a1a1a" stroke-width="0.9"/>
<line x1="210.50" y1="273.00" x2="210.50" y2="275.60" stroke="#1a1a1a" stroke-width="0.9"/>
<line x1="229.50" y1="273.00" x2="229.50" y2="275.60" stroke="#1a1a1a" stroke-width="0.9"/>
<circle cx="167.80" cy="273.00" r="1.40" fill="#4a1d6e"/>
<circle cx="170.40" cy="273.00" r="1.40" fill="#4a1d6e"/>
<circle cx="173.20" cy="273.00" r="1.40" fill="#4a1d6e"/>
<circle cx="175.80" cy="273.00" r="1.40" fill="#4a1d6e"/>
<circle cx="169.30" cy="264.20" r="1.40" fill="#4a1d6e"/>
<circle cx="173.80" cy="264.20" r="1.40" fill="#4a1d6e"/>
<line x1="165.80" y1="271.24" x2="177.80" y2="271.24" stroke="#111" stroke-width="1.4"/>
<line x1="171.80" y1="267.72" x2="171.80" y2="273.00" stroke="#111" stroke-width="1.2"/>
<line x1="168.40" y1="267.72" x2="175.20" y2="267.72" stroke="#111" stroke-width="1.2"/>
<line x1="168.40" y1="273.00" x2="175.20" y2="273.00" stroke="#111" stroke-width="1.2"/>
<rect x="189.99" y="240.75" width="2.90" height="2.90" fill="#6db33f"/>
<rect x="193.91" y="240.75" width="2.90" height="2.90" fill="#6db33f"/>
<rect x="185.56" y="240.75" width="2.90" height="2.90" fill="#6db33f"/>
<rect x="188.16" y="245.15" width="2.90" height="2.90" fill="#6db33f"/>
<rect x="186.94" y="249.55" width="2.90" height="2.90" fill="#6db33f"/>
<rect x="193.07" y="251.75" width="2.90" height="2.90" fill="#6db33f"/>
<rect x="188.52" y="253.95" width="2.90" height="2.90" fill="#6db33f"/>
<rect x="185.21" y="253.95" width="2.90" height="2.90" fill="#6db33f"/>
<rect x="192.16" y="256.15" width="2.90" height="2.90" fill="#6db33f"/>
<rect x="188.51" y="258.35" width="2.90" height="2.90" fill="#6db33f"/>
<rect x="191.71" y="260.55" width="2.90" height="2.90" fill="#6db33f"/>
<rect x="188.53" y="262.75" width="2.90" height="2.90" fill="#6db33f"/>
<line x1="185.00" y1="253.64" x2="197.00" y2="253.64" stroke="#111" stroke-width="1.4"/>
<line x1="191.00" y1="245.72" x2="191.00" y2="261.56" stroke="#111" stroke-width="1.2"/>
<line x1="187.60" y1="245.72" x2="194.40" y2="245.72" stroke="#111" stroke-width="1.2"/>
<line x1="187.60" y1="261.56" x2="194.40" y2="261.56" stroke="#111" stroke-width="1.2"/>
<path d="M211.67 200.95L213.32 203.92L210.02 203.92Z" fill="#c0143c"/>
<path d="M206.92 200.95L208.57 203.92L205.27 203.92Z" fill="#c0143c"/>
<path d="M206.43 214.15L208.08 217.12L204.78 217.12Z" fill="#c0143c"/>
<path d="M213.45 222.95L215.10 225.92L211.80 225.92Z" fill="#c0143c"/>
<path d="M209.67 233.95L211.32 236.92L208.02 236.92Z" fill="#c0143c"/>
<path d="M209.20 240.55L210.85 243.52L207.55 243.52Z" fill="#c0143c"/>
<path d="M206.51 244.95L208.16 247.92L204.86 247.92Z" fill="#c0143c"/>
<path d="M213.37 249.35L215.02 252.32L211.72 252.32Z" fill="#c0143c"/>
<path d="M210.78 253.75L212.43 256.72L209.13 256.72Z" fill="#c0143c"/>
<path d="M214.42 253.75L216.07 256.72L212.77 256.72Z" fill="#c0143c"/>
<path d="M206.85 253.75L208.50 256.72L205.20 256.72Z" fill="#c0143c"/>
<line x1="204.50" y1="232.96" x2="216.50" y2="232.96" stroke="#111" stroke-width="1.4"/>
<line x1="210.50" y1="211.84" x2="210.50" y2="254.08" stroke="#111" stroke-width="1.2"/>
<line x1="207.10" y1="211.84" x2="213.90" y2="211.84" stroke="#111" stroke-width="1.2"/>
<line x1="207.10" y1="254.08" x2="213.90" y2="254.08" stroke="#111" stroke-width="1.2"/>
<path d="M225.98 196.60L227.58 198.20L225.98 199.80L224.38 198.20Z" fill="#1d4a94"/>
<path d="M226.21 201.00L227.81 202.60L226.21 204.20L224.61 202.60Z" fill="#1d4a94"/>
<path d="M230.00 201.00L231.60 202.60L230.00 204.20L228.40 202.60Z" fill="#1d4a94"/>
<path d="M228.85 227.40L230.45 229.00L228.85 230.60L227.25 229.00Z" fill="#1d4a94"/>
<path d="M229.83 240.60L231.43 242.20L229.83 243.80L228.23 242.20Z" fill="#1d4a94"/>
<path d="M226.43 240.60L228.03 242.20L226.43 243.80L224.83 242.20Z" fill="#1d4a94"/>
<path d="M227.91 249.40L229.51 251.00L227.91 252.60L226.31 251.00Z" fill="#1d4a94"/>
<path d="M232.97 249.40L234.57 251.00L232.97 252.60L231.37 251.00Z" fill="#1d4a94"/>
<path d="M225.50 249.40L227.10 251.00L225.50 252.60L223.90 251.00Z" fill="#1d4a94"/>
<path d="M227.81 258.20L229.41 259.80L227.81 261.40L226.21 259.80Z" fill="#1d4a94"/>
<path d="M231.12 258.20L232.72 259.80L231.12 261.40L229.52 259.80Z" fill="#1d4a94"/>
<line x1="223.50" y1="235.16" x2="235.50" y2="235.16" stroke="#111" stroke-width="1.4"/>
<line x1="229.50" y1="211.40" x2="229.50" y2="258.92" stroke="#111" stroke-width="1.2"/>
<line x1="226.10" y1="211.40" x2="232.90" y2="211.40" stroke="#111" stroke-width="1.2"/>
<line x1="226.10" y1="258.92" x2="232.90" y2="258.92" stroke="#111" stroke-width="1.2"/>
<line x1="187.20" y1="196.50" x2="212.90" y2="196.50" stroke="#1a1a1a" stroke-width="1.4"/>
<text x="200.05" y="196.40" font-size="9.2" fill="#1a1a1a" text-anchor="middle" textLength="7.80" lengthAdjust="spacingAndGlyphs">**</text>
<line x1="187.20" y1="187.50" x2="234.00" y2="187.50" stroke="#1a1a1a" stroke-width="1.4"/>
<text x="210.60" y="187.40" font-size="9.2" fill="#1a1a1a" text-anchor="middle" textLength="3.90" lengthAdjust="spacingAndGlyphs">*</text>
<line x1="265.00" y1="185.00" x2="265.00" y2="273.60" stroke="#111" stroke-width="1.3"/>
<line x1="264.40" y1="273.00" x2="341.50" y2="273.00" stroke="#111" stroke-width="1.3"/>
<line x1="262.40" y1="273.00" x2="265.00" y2="273.00" stroke="#1a1a1a" stroke-width="1"/>
<text x="258.80" y="275.95" font-size="8.2" fill="#1a1a1a" text-anchor="end">0</text>
<line x1="262.40" y1="251.38" x2="265.00" y2="251.38" stroke="#1a1a1a" stroke-width="1"/>
<text x="258.80" y="254.32" font-size="8.2" fill="#1a1a1a" text-anchor="end">5</text>
<line x1="262.40" y1="229.75" x2="265.00" y2="229.75" stroke="#1a1a1a" stroke-width="1"/>
<text x="258.80" y="232.70" font-size="8.2" fill="#1a1a1a" text-anchor="end">10</text>
<line x1="262.40" y1="208.12" x2="265.00" y2="208.12" stroke="#1a1a1a" stroke-width="1"/>
<text x="258.80" y="211.07" font-size="8.2" fill="#1a1a1a" text-anchor="end">15</text>
<line x1="262.40" y1="186.50" x2="265.00" y2="186.50" stroke="#1a1a1a" stroke-width="1"/>
<text x="258.80" y="189.45" font-size="8.2" fill="#1a1a1a" text-anchor="end">20</text>
<line x1="274.50" y1="273.00" x2="274.50" y2="275.60" stroke="#1a1a1a" stroke-width="0.9"/>
<line x1="293.80" y1="273.00" x2="293.80" y2="275.60" stroke="#1a1a1a" stroke-width="0.9"/>
<line x1="312.50" y1="273.00" x2="312.50" y2="275.60" stroke="#1a1a1a" stroke-width="0.9"/>
<line x1="332.00" y1="273.00" x2="332.00" y2="275.60" stroke="#1a1a1a" stroke-width="0.9"/>
<circle cx="270.50" cy="273.00" r="1.40" fill="#4a1d6e"/>
<circle cx="273.10" cy="273.00" r="1.40" fill="#4a1d6e"/>
<circle cx="275.90" cy="273.00" r="1.40" fill="#4a1d6e"/>
<circle cx="278.50" cy="273.00" r="1.40" fill="#4a1d6e"/>
<circle cx="270.80" cy="268.68" r="1.40" fill="#4a1d6e"/>
<circle cx="278.00" cy="268.68" r="1.40" fill="#4a1d6e"/>
<line x1="268.50" y1="271.70" x2="280.50" y2="271.70" stroke="#111" stroke-width="1.4"/>
<line x1="274.50" y1="270.40" x2="274.50" y2="273.00" stroke="#111" stroke-width="1.2"/>
<line x1="271.10" y1="270.40" x2="277.90" y2="270.40" stroke="#111" stroke-width="1.2"/>
<line x1="271.10" y1="273.00" x2="277.90" y2="273.00" stroke="#111" stroke-width="1.2"/>
<rect x="296.25" y="215.33" width="2.90" height="2.90" fill="#6db33f"/>
<rect x="290.30" y="215.33" width="2.90" height="2.90" fill="#6db33f"/>
<rect x="294.04" y="241.28" width="2.90" height="2.90" fill="#6db33f"/>
<rect x="288.90" y="243.44" width="2.90" height="2.90" fill="#6db33f"/>
<rect x="292.78" y="245.60" width="2.90" height="2.90" fill="#6db33f"/>
<rect x="291.31" y="249.93" width="2.90" height="2.90" fill="#6db33f"/>
<rect x="293.81" y="252.09" width="2.90" height="2.90" fill="#6db33f"/>
<rect x="288.40" y="254.25" width="2.90" height="2.90" fill="#6db33f"/>
<rect x="288.57" y="258.57" width="2.90" height="2.90" fill="#6db33f"/>
<rect x="296.09" y="258.57" width="2.90" height="2.90" fill="#6db33f"/>
<rect x="292.66" y="260.74" width="2.90" height="2.90" fill="#6db33f"/>
<rect x="288.49" y="262.90" width="2.90" height="2.90" fill="#6db33f"/>
<line x1="287.80" y1="247.48" x2="299.80" y2="247.48" stroke="#111" stroke-width="1.4"/>
<line x1="293.80" y1="232.78" x2="293.80" y2="262.62" stroke="#111" stroke-width="1.2"/>
<line x1="290.40" y1="232.78" x2="297.20" y2="232.78" stroke="#111" stroke-width="1.2"/>
<line x1="290.40" y1="262.62" x2="297.20" y2="262.62" stroke="#111" stroke-width="1.2"/>
<path d="M312.28 206.47L313.93 209.44L310.63 209.44Z" fill="#c0143c"/>
<path d="M314.86 215.99L316.51 218.96L313.21 218.96Z" fill="#c0143c"/>
<path d="M309.31 219.45L310.96 222.42L307.66 222.42Z" fill="#c0143c"/>
<path d="M310.45 228.10L312.10 231.07L308.80 231.07Z" fill="#c0143c"/>
<path d="M310.69 232.42L312.34 235.39L309.04 235.39Z" fill="#c0143c"/>
<path d="M314.84 234.59L316.49 237.56L313.19 237.56Z" fill="#c0143c"/>
<path d="M309.37 236.75L311.02 239.72L307.72 239.72Z" fill="#c0143c"/>
<path d="M311.61 241.07L313.26 244.04L309.96 244.04Z" fill="#c0143c"/>
<path d="M313.29 245.40L314.94 248.37L311.64 248.37Z" fill="#c0143c"/>
<path d="M310.30 258.38L311.95 261.34L308.65 261.34Z" fill="#c0143c"/>
<path d="M310.45 271.35L312.10 274.32L308.80 274.32Z" fill="#c0143c"/>
<line x1="306.50" y1="237.10" x2="318.50" y2="237.10" stroke="#111" stroke-width="1.4"/>
<line x1="312.50" y1="218.50" x2="312.50" y2="255.70" stroke="#111" stroke-width="1.2"/>
<line x1="309.10" y1="218.50" x2="315.90" y2="218.50" stroke="#111" stroke-width="1.2"/>
<line x1="309.10" y1="255.70" x2="315.90" y2="255.70" stroke="#111" stroke-width="1.2"/>
<path d="M334.69 232.47L336.29 234.07L334.69 235.67L333.09 234.07Z" fill="#1d4a94"/>
<path d="M327.99 236.80L329.59 238.40L327.99 240.00L326.39 238.40Z" fill="#1d4a94"/>
<path d="M335.02 236.80L336.62 238.40L335.02 240.00L333.42 238.40Z" fill="#1d4a94"/>
<path d="M336.14 241.12L337.74 242.72L336.14 244.32L334.54 242.72Z" fill="#1d4a94"/>
<path d="M328.26 243.29L329.86 244.89L328.26 246.49L326.66 244.89Z" fill="#1d4a94"/>
<path d="M336.31 245.45L337.91 247.05L336.31 248.65L334.71 247.05Z" fill="#1d4a94"/>
<path d="M327.82 247.61L329.42 249.21L327.82 250.81L326.22 249.21Z" fill="#1d4a94"/>
<path d="M334.31 249.78L335.91 251.38L334.31 252.97L332.71 251.38Z" fill="#1d4a94"/>
<path d="M328.58 254.10L330.18 255.70L328.58 257.30L326.98 255.70Z" fill="#1d4a94"/>
<path d="M328.70 258.42L330.30 260.02L328.70 261.62L327.10 260.02Z" fill="#1d4a94"/>
<path d="M332.98 258.42L334.58 260.02L332.98 261.62L331.38 260.02Z" fill="#1d4a94"/>
<line x1="326.00" y1="248.35" x2="338.00" y2="248.35" stroke="#111" stroke-width="1.4"/>
<line x1="332.00" y1="239.70" x2="332.00" y2="257.00" stroke="#111" stroke-width="1.2"/>
<line x1="328.60" y1="239.70" x2="335.40" y2="239.70" stroke="#111" stroke-width="1.2"/>
<line x1="328.60" y1="257.00" x2="335.40" y2="257.00" stroke="#111" stroke-width="1.2"/>
<circle cx="353.30" cy="210.50" r="1.82" fill="#4a1d6e"/>
<text class="lg" x="358.80" y="213.40" font-size="8.6" textLength="23.50" lengthAdjust="spacingAndGlyphs">B6 BM</text>
<rect x="351.42" y="220.62" width="3.77" height="3.77" fill="#6db33f"/>
<text class="lg" x="358.80" y="225.40" font-size="8.6" textLength="60.80" lengthAdjust="spacingAndGlyphs">B6 CD4 / B6 CD8</text>
<path d="M353.30 231.66L355.44 235.52L351.16 235.52Z" fill="#c0143c"/>
<text class="lg" x="358.80" y="236.70" font-size="8.6" textLength="77.20" lengthAdjust="spacingAndGlyphs">B6 CD4 / CB2R<tspan font-size="4.5" dy="-3">-/-</tspan><tspan dy="3"> </tspan>CD8</text>
<path d="M353.30 243.42L355.38 245.50L353.30 247.58L351.22 245.50Z" fill="#1d4a94"/>
<text class="lg" x="358.80" y="248.40" font-size="8.6" textLength="77.20" lengthAdjust="spacingAndGlyphs">CB2R<tspan font-size="4.5" dy="-3">-/-</tspan><tspan dy="3"> </tspan>CD4 / B6 CD8</text>
<circle cx="126.20" cy="294.80" r="1.82" fill="#4a1d6e"/>
<text class="lg" x="131.30" y="296.90" font-size="8.6" textLength="23.80" lengthAdjust="spacingAndGlyphs">B6 BM</text>
<rect x="164.81" y="292.92" width="3.77" height="3.77" fill="#6db33f"/>
<text class="lg" x="171.70" y="296.90" font-size="8.6" textLength="62.00" lengthAdjust="spacingAndGlyphs">B6 CD4 / B6 CD8</text>
<path d="M244.00 292.66L246.15 296.52L241.85 296.52Z" fill="#c0143c"/>
<text class="lg" x="249.40" y="296.90" font-size="8.6" textLength="78.30" lengthAdjust="spacingAndGlyphs">B6 CD4 / CB2R<tspan font-size="4.5" dy="-3">-/-</tspan><tspan dy="3"> </tspan>CD8</text>
<path d="M338.50 292.72L340.58 294.80L338.50 296.88L336.42 294.80Z" fill="#1d4a94"/>
<text class="lg" x="343.80" y="296.90" font-size="8.6" textLength="78.80" lengthAdjust="spacingAndGlyphs">CB2R<tspan font-size="4.5" dy="-3">-/-</tspan><tspan dy="3"> </tspan>CD4 / B6 CD8</text>
<text x="101.30" y="317.50" font-size="10.2" fill="#1a1a1a" textLength="27.90" lengthAdjust="spacingAndGlyphs">Colon</text>
<text x="263.10" y="317.50" font-size="10.2" fill="#1a1a1a" textLength="20.80" lengthAdjust="spacingAndGlyphs">Liver</text>
<text x="421.40" y="317.50" font-size="10.2" fill="#1a1a1a" textLength="21.40" lengthAdjust="spacingAndGlyphs">Lung</text>
<text x="73.90" y="329.70" font-size="8.6" fill="#1a1a1a" textLength="20.70" lengthAdjust="spacingAndGlyphs">CD4<tspan font-size="6.5" dy="-3.2">+</tspan></text>
<text x="135.90" y="329.70" font-size="8.6" fill="#1a1a1a" textLength="20.70" lengthAdjust="spacingAndGlyphs">CD8<tspan font-size="6.5" dy="-3.2">+</tspan></text>
<text x="231.20" y="329.70" font-size="8.6" fill="#1a1a1a" textLength="20.70" lengthAdjust="spacingAndGlyphs">CD4<tspan font-size="6.5" dy="-3.2">+</tspan></text>
<text x="294.30" y="329.70" font-size="8.6" fill="#1a1a1a" textLength="20.70" lengthAdjust="spacingAndGlyphs">CD8<tspan font-size="6.5" dy="-3.2">+</tspan></text>
<text x="388.40" y="329.70" font-size="8.6" fill="#1a1a1a" textLength="20.70" lengthAdjust="spacingAndGlyphs">CD4<tspan font-size="6.5" dy="-3.2">+</tspan></text>
<text x="451.80" y="329.70" font-size="8.6" fill="#1a1a1a" textLength="20.70" lengthAdjust="spacingAndGlyphs">CD8<tspan font-size="6.5" dy="-3.2">+</tspan></text>
<text x="36.30" y="377.90" font-size="9.4" fill="#1a1a1a" text-anchor="middle" textLength="58.80" lengthAdjust="spacingAndGlyphs" transform="rotate(-90 36.30 377.90)">Total cells (x10<tspan font-size="6.6" dy="-3.3">6</tspan><tspan dy="3.3">)</tspan></text>
<text x="199.50" y="377.00" font-size="9.4" fill="#1a1a1a" text-anchor="middle" textLength="57.40" lengthAdjust="spacingAndGlyphs" transform="rotate(-90 199.50 377.00)">Total cells (x10<tspan font-size="6.6" dy="-3.3">6</tspan><tspan dy="3.3">)</tspan></text>
<text x="358.30" y="377.00" font-size="9.4" fill="#1a1a1a" text-anchor="middle" textLength="57.40" lengthAdjust="spacingAndGlyphs" transform="rotate(-90 358.30 377.00)">Total cells (x10<tspan font-size="6.6" dy="-3.3">6</tspan><tspan dy="3.3">)</tspan></text>
<line x1="59.60" y1="348.10" x2="59.60" y2="409.60" stroke="#111" stroke-width="1.3"/>
<line x1="59.00" y1="409.00" x2="172.00" y2="409.00" stroke="#111" stroke-width="1.3"/>
<line x1="57.00" y1="409.00" x2="59.60" y2="409.00" stroke="#1a1a1a" stroke-width="1"/>
<text x="53.40" y="411.95" font-size="8.2" fill="#1a1a1a" text-anchor="end">0</text>
<line x1="57.00" y1="394.15" x2="59.60" y2="394.15" stroke="#1a1a1a" stroke-width="1"/>
<text x="53.40" y="397.10" font-size="8.2" fill="#1a1a1a" text-anchor="end">0.5</text>
<line x1="57.00" y1="379.30" x2="59.60" y2="379.30" stroke="#1a1a1a" stroke-width="1"/>
<text x="53.40" y="382.25" font-size="8.2" fill="#1a1a1a" text-anchor="end">1</text>
<line x1="57.00" y1="364.45" x2="59.60" y2="364.45" stroke="#1a1a1a" stroke-width="1"/>
<text x="53.40" y="367.40" font-size="8.2" fill="#1a1a1a" text-anchor="end">1.5</text>
<line x1="57.00" y1="349.60" x2="59.60" y2="349.60" stroke="#1a1a1a" stroke-width="1"/>
<text x="53.40" y="352.55" font-size="8.2" fill="#1a1a1a" text-anchor="end">2</text>
<line x1="65.60" y1="409.00" x2="65.60" y2="411.60" stroke="#1a1a1a" stroke-width="0.9"/>
<line x1="78.40" y1="409.00" x2="78.40" y2="411.60" stroke="#1a1a1a" stroke-width="0.9"/>
<line x1="90.50" y1="409.00" x2="90.50" y2="411.60" stroke="#1a1a1a" stroke-width="0.9"/>
<line x1="102.90" y1="409.00" x2="102.90" y2="411.60" stroke="#1a1a1a" stroke-width="0.9"/>
<line x1="127.90" y1="409.00" x2="127.90" y2="411.60" stroke="#1a1a1a" stroke-width="0.9"/>
<line x1="140.40" y1="409.00" x2="140.40" y2="411.60" stroke="#1a1a1a" stroke-width="0.9"/>
<line x1="152.50" y1="409.00" x2="152.50" y2="411.60" stroke="#1a1a1a" stroke-width="0.9"/>
<line x1="165.20" y1="409.00" x2="165.20" y2="411.60" stroke="#1a1a1a" stroke-width="0.9"/>
<line x1="115.60" y1="350.20" x2="115.60" y2="411.60" stroke="#333" stroke-width="1.0"/>
<circle cx="63.00" cy="407.75" r="1.40" fill="#4a1d6e"/>
<circle cx="68.20" cy="407.75" r="1.40" fill="#4a1d6e"/>
<circle cx="65.60" cy="409.00" r="1.40" fill="#4a1d6e"/>
<circle cx="64.30" cy="408.58" r="1.40" fill="#4a1d6e"/>
<circle cx="66.90" cy="408.58" r="1.40" fill="#4a1d6e"/>
<line x1="61.30" y1="408.38" x2="69.90" y2="408.38" stroke="#111" stroke-width="1.4"/>
<rect x="80.54" y="386.17" width="2.90" height="2.90" fill="#6db33f"/>
<rect x="74.93" y="387.24" width="2.90" height="2.90" fill="#6db33f"/>
<rect x="77.86" y="389.69" width="2.90" height="2.90" fill="#6db33f"/>
<rect x="73.57" y="391.18" width="2.90" height="2.90" fill="#6db33f"/>
<rect x="80.28" y="392.13" width="2.90" height="2.90" fill="#6db33f"/>
<rect x="76.28" y="393.46" width="2.90" height="2.90" fill="#6db33f"/>
<rect x="73.09" y="393.87" width="2.90" height="2.90" fill="#6db33f"/>
<rect x="78.96" y="394.44" width="2.90" height="2.90" fill="#6db33f"/>
<rect x="74.93" y="395.72" width="2.90" height="2.90" fill="#6db33f"/>
<rect x="80.83" y="395.78" width="2.90" height="2.90" fill="#6db33f"/>
<rect x="77.65" y="397.47" width="2.90" height="2.90" fill="#6db33f"/>
<rect x="72.76" y="397.82" width="2.90" height="2.90" fill="#6db33f"/>
<rect x="80.49" y="398.80" width="2.90" height="2.90" fill="#6db33f"/>
<rect x="75.37" y="399.80" width="2.90" height="2.90" fill="#6db33f"/>
<rect x="78.39" y="401.61" width="2.90" height="2.90" fill="#6db33f"/>
<rect x="73.19" y="401.61" width="2.90" height="2.90" fill="#6db33f"/>
<line x1="74.10" y1="396.53" x2="82.70" y2="396.53" stroke="#111" stroke-width="1.4"/>
<line x1="78.40" y1="392.07" x2="78.40" y2="400.68" stroke="#111" stroke-width="1.2"/>
<line x1="75.80" y1="392.07" x2="81.00" y2="392.07" stroke="#111" stroke-width="1.2"/>
<line x1="75.80" y1="400.68" x2="81.00" y2="400.68" stroke="#111" stroke-width="1.2"/>
<path d="M90.43 387.15L92.08 390.12L88.78 390.12Z" fill="#c0143c"/>
<path d="M93.75 387.15L95.40 390.12L92.10 390.12Z" fill="#c0143c"/>
<path d="M86.42 389.42L88.07 392.39L84.77 392.39Z" fill="#c0143c"/>
<path d="M91.75 390.28L93.40 393.25L90.10 393.25Z" fill="#c0143c"/>
<path d="M88.86 391.82L90.51 394.79L87.21 394.79Z" fill="#c0143c"/>
<path d="M94.11 392.76L95.76 395.73L92.46 395.73Z" fill="#c0143c"/>
<path d="M86.70 393.39L88.35 396.36L85.05 396.36Z" fill="#c0143c"/>
<path d="M91.19 394.28L92.84 397.25L89.54 397.25Z" fill="#c0143c"/>
<path d="M88.47 395.40L90.12 398.37L86.82 398.37Z" fill="#c0143c"/>
<path d="M94.67 395.44L96.32 398.41L93.02 398.41Z" fill="#c0143c"/>
<path d="M92.40 396.57L94.05 399.54L90.75 399.54Z" fill="#c0143c"/>
<path d="M86.71 397.03L88.36 400.00L85.06 400.00Z" fill="#c0143c"/>
<path d="M89.53 398.56L91.18 401.53L87.88 401.53Z" fill="#c0143c"/>
<path d="M93.69 400.10L95.34 403.07L92.04 403.07Z" fill="#c0143c"/>
<path d="M90.51 402.04L92.16 405.01L88.86 405.01Z" fill="#c0143c"/>
<path d="M86.61 402.90L88.26 405.87L84.96 405.87Z" fill="#c0143c"/>
<line x1="86.20" y1="396.23" x2="94.80" y2="396.23" stroke="#111" stroke-width="1.4"/>
<line x1="90.50" y1="391.77" x2="90.50" y2="400.68" stroke="#111" stroke-width="1.2"/>
<line x1="87.90" y1="391.77" x2="93.10" y2="391.77" stroke="#111" stroke-width="1.2"/>
<line x1="87.90" y1="400.68" x2="93.10" y2="400.68" stroke="#111" stroke-width="1.2"/>
<path d="M100.92 381.26L102.52 382.86L100.92 384.46L99.32 382.86Z" fill="#1d4a94"/>
<path d="M104.98 383.45L106.58 385.05L104.98 386.65L103.38 385.05Z" fill="#1d4a94"/>
<path d="M106.21 386.51L107.81 388.11L106.21 389.71L104.61 388.11Z" fill="#1d4a94"/>
<path d="M98.83 388.20L100.43 389.80L98.83 391.40L97.23 389.80Z" fill="#1d4a94"/>
<path d="M104.37 389.67L105.97 391.27L104.37 392.87L102.77 391.27Z" fill="#1d4a94"/>
<path d="M101.10 390.64L102.70 392.24L101.10 393.84L99.50 392.24Z" fill="#1d4a94"/>
<path d="M106.94 392.08L108.54 393.68L106.94 395.28L105.34 393.68Z" fill="#1d4a94"/>
<path d="M99.05 393.56L100.65 395.16L99.05 396.76L97.45 395.16Z" fill="#1d4a94"/>
<path d="M103.87 393.75L105.47 395.35L103.87 396.95L102.27 395.35Z" fill="#1d4a94"/>
<path d="M106.50 394.81L108.10 396.41L106.50 398.01L104.90 396.41Z" fill="#1d4a94"/>
<path d="M100.94 396.27L102.54 397.87L100.94 399.47L99.34 397.87Z" fill="#1d4a94"/>
<path d="M105.66 398.29L107.26 399.89L105.66 401.49L104.06 399.89Z" fill="#1d4a94"/>
<path d="M102.32 399.97L103.92 401.57L102.32 403.18L100.72 401.57Z" fill="#1d4a94"/>
<path d="M98.87 399.97L100.47 401.57L98.87 403.18L97.27 401.57Z" fill="#1d4a94"/>
<line x1="98.60" y1="394.15" x2="107.20" y2="394.15" stroke="#111" stroke-width="1.4"/>
<line x1="102.90" y1="388.51" x2="102.90" y2="399.50" stroke="#111" stroke-width="1.2"/>
<line x1="100.30" y1="388.51" x2="105.50" y2="388.51" stroke="#111" stroke-width="1.2"/>
<line x1="100.30" y1="399.50" x2="105.50" y2="399.50" stroke="#111" stroke-width="1.2"/>
<circle cx="125.30" cy="407.75" r="1.40" fill="#4a1d6e"/>
<circle cx="130.50" cy="407.75" r="1.40" fill="#4a1d6e"/>
<circle cx="127.90" cy="409.00" r="1.40" fill="#4a1d6e"/>
<circle cx="126.60" cy="408.58" r="1.40" fill="#4a1d6e"/>
<circle cx="129.20" cy="408.58" r="1.40" fill="#4a1d6e"/>
<line x1="123.60" y1="408.38" x2="132.20" y2="408.38" stroke="#111" stroke-width="1.4"/>
<rect x="139.22" y="376.07" width="2.90" height="2.90" fill="#6db33f"/>
<rect x="136.32" y="380.92" width="2.90" height="2.90" fill="#6db33f"/>
<rect x="137.07" y="384.81" width="2.90" height="2.90" fill="#6db33f"/>
<rect x="141.61" y="386.06" width="2.90" height="2.90" fill="#6db33f"/>
<rect x="138.29" y="387.91" width="2.90" height="2.90" fill="#6db33f"/>
<rect x="135.18" y="389.23" width="2.90" height="2.90" fill="#6db33f"/>
<rect x="140.53" y="390.86" width="2.90" height="2.90" fill="#6db33f"/>
<rect x="135.96" y="392.55" width="2.90" height="2.90" fill="#6db33f"/>
<rect x="142.69" y="393.19" width="2.90" height="2.90" fill="#6db33f"/>
<rect x="139.07" y="393.57" width="2.90" height="2.90" fill="#6db33f"/>
<rect x="136.28" y="396.15" width="2.90" height="2.90" fill="#6db33f"/>
<rect x="141.62" y="396.35" width="2.90" height="2.90" fill="#6db33f"/>
<rect x="134.85" y="399.16" width="2.90" height="2.90" fill="#6db33f"/>
<rect x="138.96" y="399.23" width="2.90" height="2.90" fill="#6db33f"/>
<rect x="142.98" y="399.23" width="2.90" height="2.90" fill="#6db33f"/>
<line x1="136.10" y1="393.26" x2="144.70" y2="393.26" stroke="#111" stroke-width="1.4"/>
<line x1="140.40" y1="386.73" x2="140.40" y2="399.50" stroke="#111" stroke-width="1.2"/>
<line x1="137.80" y1="386.73" x2="143.00" y2="386.73" stroke="#111" stroke-width="1.2"/>
<line x1="137.80" y1="399.50" x2="143.00" y2="399.50" stroke="#111" stroke-width="1.2"/>
<path d="M152.41 358.05L154.06 361.02L150.76 361.02Z" fill="#c0143c"/>
<path d="M152.65 361.90L154.30 364.87L151.00 364.87Z" fill="#c0143c"/>
<path d="M155.63 365.90L157.28 368.87L153.98 368.87Z" fill="#c0143c"/>
<path d="M154.70 370.45L156.35 373.42L153.05 373.42Z" fill="#c0143c"/>
<path d="M152.23 372.68L153.88 375.65L150.58 375.65Z" fill="#c0143c"/>
<path d="M148.88 372.71L150.53 375.68L147.23 375.68Z" fill="#c0143c"/>
<path d="M156.43 374.90L158.08 377.87L154.78 377.87Z" fill="#c0143c"/>
<path d="M153.05 376.25L154.70 379.22L151.40 379.22Z" fill="#c0143c"/>
<path d="M148.75 377.77L150.40 380.74L147.10 380.74Z" fill="#c0143c"/>
<path d="M155.37 381.53L157.02 384.50L153.72 384.50Z" fill="#c0143c"/>
<path d="M151.33 382.64L152.98 385.61L149.68 385.61Z" fill="#c0143c"/>
<path d="M148.41 383.06L150.06 386.03L146.76 386.03Z" fill="#c0143c"/>
<path d="M152.57 386.27L154.22 389.24L150.92 389.24Z" fill="#c0143c"/>
<path d="M153.95 389.60L155.60 392.57L152.30 392.57Z" fill="#c0143c"/>
<path d="M148.49 391.91L150.14 394.88L146.84 394.88Z" fill="#c0143c"/>
<path d="M156.40 391.91L158.05 394.88L154.75 394.88Z" fill="#c0143c"/>
<line x1="148.20" y1="379.60" x2="156.80" y2="379.60" stroke="#111" stroke-width="1.4"/>
<line x1="152.50" y1="369.80" x2="152.50" y2="389.40" stroke="#111" stroke-width="1.2"/>
<line x1="149.90" y1="369.80" x2="155.10" y2="369.80" stroke="#111" stroke-width="1.2"/>
<line x1="149.90" y1="389.40" x2="155.10" y2="389.40" stroke="#111" stroke-width="1.2"/>
<path d="M168.61 371.17L170.21 372.77L168.61 374.37L167.01 372.77Z" fill="#1d4a94"/>
<path d="M163.58 372.54L165.18 374.14L163.58 375.74L161.98 374.14Z" fill="#1d4a94"/>
<path d="M166.99 375.96L168.59 377.56L166.99 379.16L165.39 377.56Z" fill="#1d4a94"/>
<path d="M162.39 376.91L163.99 378.51L162.39 380.11L160.79 378.51Z" fill="#1d4a94"/>
<path d="M161.17 380.10L162.77 381.70L161.17 383.30L159.57 381.70Z" fill="#1d4a94"/>
<path d="M169.22 380.74L170.82 382.34L169.22 383.94L167.62 382.34Z" fill="#1d4a94"/>
<path d="M164.86 382.88L166.46 384.48L164.86 386.08L163.26 384.48Z" fill="#1d4a94"/>
<path d="M161.55 383.26L163.15 384.86L161.55 386.46L159.95 384.86Z" fill="#1d4a94"/>
<path d="M168.29 384.01L169.89 385.61L168.29 387.21L166.69 385.61Z" fill="#1d4a94"/>
<path d="M163.58 384.93L165.18 386.53L163.58 388.13L161.98 386.53Z" fill="#1d4a94"/>
<path d="M166.55 386.44L168.15 388.04L166.55 389.64L164.95 388.04Z" fill="#1d4a94"/>
<path d="M163.97 388.88L165.57 390.48L163.97 392.08L162.37 390.48Z" fill="#1d4a94"/>
<path d="M167.92 389.44L169.52 391.04L167.92 392.64L166.32 391.04Z" fill="#1d4a94"/>
<path d="M162.65 392.13L164.25 393.73L162.65 395.33L161.05 393.73Z" fill="#1d4a94"/>
<path d="M164.71 395.52L166.31 397.12L164.71 398.72L163.11 397.12Z" fill="#1d4a94"/>
<path d="M168.32 395.52L169.92 397.12L168.32 398.72L166.72 397.12Z" fill="#1d4a94"/>
<line x1="160.90" y1="385.54" x2="169.50" y2="385.54" stroke="#111" stroke-width="1.4"/>
<line x1="165.20" y1="378.11" x2="165.20" y2="392.37" stroke="#111" stroke-width="1.2"/>
<line x1="162.60" y1="378.11" x2="167.80" y2="378.11" stroke="#111" stroke-width="1.2"/>
<line x1="162.60" y1="392.37" x2="167.80" y2="392.37" stroke="#111" stroke-width="1.2"/>
<line x1="139.20" y1="354.70" x2="153.10" y2="354.70" stroke="#1a1a1a" stroke-width="1.4"/>
<text x="146.15" y="354.60" font-size="9.2" fill="#1a1a1a" text-anchor="middle" textLength="15.60" lengthAdjust="spacingAndGlyphs">****</text>
<line x1="138.70" y1="345.40" x2="168.70" y2="345.40" stroke="#1a1a1a" stroke-width="1.4"/>
<text x="153.70" y="345.30" font-size="9.2" fill="#1a1a1a" text-anchor="middle" textLength="7.80" lengthAdjust="spacingAndGlyphs">**</text>
<line x1="216.80" y1="347.10" x2="216.80" y2="409.50" stroke="#111" stroke-width="1.3"/>
<line x1="216.20" y1="408.90" x2="330.40" y2="408.90" stroke="#111" stroke-width="1.3"/>
<line x1="214.20" y1="408.90" x2="216.80" y2="408.90" stroke="#1a1a1a" stroke-width="1"/>
<text x="210.60" y="411.85" font-size="8.2" fill="#1a1a1a" text-anchor="end">0</text>
<line x1="214.20" y1="388.80" x2="216.80" y2="388.80" stroke="#1a1a1a" stroke-width="1"/>
<text x="210.60" y="391.75" font-size="8.2" fill="#1a1a1a" text-anchor="end">2</text>
<line x1="214.20" y1="368.70" x2="216.80" y2="368.70" stroke="#1a1a1a" stroke-width="1"/>
<text x="210.60" y="371.65" font-size="8.2" fill="#1a1a1a" text-anchor="end">4</text>
<line x1="214.20" y1="348.60" x2="216.80" y2="348.60" stroke="#1a1a1a" stroke-width="1"/>
<text x="210.60" y="351.55" font-size="8.2" fill="#1a1a1a" text-anchor="end">6</text>
<line x1="223.30" y1="408.90" x2="223.30" y2="411.50" stroke="#1a1a1a" stroke-width="0.9"/>
<line x1="235.60" y1="408.90" x2="235.60" y2="411.50" stroke="#1a1a1a" stroke-width="0.9"/>
<line x1="248.10" y1="408.90" x2="248.10" y2="411.50" stroke="#1a1a1a" stroke-width="0.9"/>
<line x1="260.90" y1="408.90" x2="260.90" y2="411.50" stroke="#1a1a1a" stroke-width="0.9"/>
<line x1="286.10" y1="408.90" x2="286.10" y2="411.50" stroke="#1a1a1a" stroke-width="0.9"/>
<line x1="298.80" y1="408.90" x2="298.80" y2="411.50" stroke="#1a1a1a" stroke-width="0.9"/>
<line x1="311.30" y1="408.90" x2="311.30" y2="411.50" stroke="#1a1a1a" stroke-width="0.9"/>
<line x1="324.10" y1="408.90" x2="324.10" y2="411.50" stroke="#1a1a1a" stroke-width="0.9"/>
<line x1="273.40" y1="350.20" x2="273.40" y2="411.50" stroke="#333" stroke-width="1.0"/>
<circle cx="220.70" cy="407.69" r="1.40" fill="#4a1d6e"/>
<circle cx="225.90" cy="407.69" r="1.40" fill="#4a1d6e"/>
<circle cx="223.30" cy="408.90" r="1.40" fill="#4a1d6e"/>
<circle cx="222.00" cy="408.50" r="1.40" fill="#4a1d6e"/>
<circle cx="224.60" cy="408.50" r="1.40" fill="#4a1d6e"/>
<line x1="219.00" y1="408.30" x2="227.60" y2="408.30" stroke="#111" stroke-width="1.4"/>
<rect x="230.87" y="387.65" width="2.90" height="2.90" fill="#6db33f"/>
<rect x="235.65" y="389.29" width="2.90" height="2.90" fill="#6db33f"/>
<rect x="232.83" y="391.59" width="2.90" height="2.90" fill="#6db33f"/>
<rect x="237.92" y="392.66" width="2.90" height="2.90" fill="#6db33f"/>
<rect x="230.04" y="393.48" width="2.90" height="2.90" fill="#6db33f"/>
<rect x="235.00" y="394.02" width="2.90" height="2.90" fill="#6db33f"/>
<rect x="232.48" y="395.03" width="2.90" height="2.90" fill="#6db33f"/>
<rect x="237.47" y="396.51" width="2.90" height="2.90" fill="#6db33f"/>
<rect x="230.04" y="396.86" width="2.90" height="2.90" fill="#6db33f"/>
<rect x="234.39" y="397.53" width="2.90" height="2.90" fill="#6db33f"/>
<rect x="232.07" y="397.86" width="2.90" height="2.90" fill="#6db33f"/>
<rect x="238.31" y="399.30" width="2.90" height="2.90" fill="#6db33f"/>
<rect x="229.98" y="400.03" width="2.90" height="2.90" fill="#6db33f"/>
<rect x="234.34" y="401.65" width="2.90" height="2.90" fill="#6db33f"/>
<rect x="230.00" y="403.46" width="2.90" height="2.90" fill="#6db33f"/>
<rect x="237.54" y="403.53" width="2.90" height="2.90" fill="#6db33f"/>
<line x1="231.30" y1="397.84" x2="239.90" y2="397.84" stroke="#111" stroke-width="1.4"/>
<line x1="235.60" y1="393.32" x2="235.60" y2="401.97" stroke="#111" stroke-width="1.2"/>
<line x1="233.00" y1="393.32" x2="238.20" y2="393.32" stroke="#111" stroke-width="1.2"/>
<line x1="233.00" y1="401.97" x2="238.20" y2="401.97" stroke="#111" stroke-width="1.2"/>
<path d="M251.00 387.15L252.65 390.12L249.35 390.12Z" fill="#c0143c"/>
<path d="M250.93 390.92L252.58 393.89L249.28 393.89Z" fill="#c0143c"/>
<path d="M245.26 393.46L246.91 396.43L243.61 396.43Z" fill="#c0143c"/>
<path d="M249.56 393.95L251.21 396.92L247.91 396.92Z" fill="#c0143c"/>
<path d="M252.29 395.06L253.94 398.03L250.64 398.03Z" fill="#c0143c"/>
<path d="M247.52 396.56L249.17 399.53L245.87 399.53Z" fill="#c0143c"/>
<path d="M244.31 397.61L245.96 400.58L242.66 400.58Z" fill="#c0143c"/>
<path d="M250.57 397.77L252.22 400.74L248.92 400.74Z" fill="#c0143c"/>
<path d="M246.59 398.48L248.24 401.45L244.94 401.45Z" fill="#c0143c"/>
<path d="M248.69 399.30L250.34 402.27L247.04 402.27Z" fill="#c0143c"/>
<path d="M252.09 400.84L253.74 403.81L250.44 403.81Z" fill="#c0143c"/>
<path d="M244.66 401.76L246.31 404.73L243.01 404.73Z" fill="#c0143c"/>
<path d="M248.10 402.40L249.75 405.37L246.45 405.37Z" fill="#c0143c"/>
<path d="M251.99 404.54L253.64 407.51L250.34 407.51Z" fill="#c0143c"/>
<path d="M245.86 404.54L247.51 407.51L244.21 407.51Z" fill="#c0143c"/>
<line x1="243.80" y1="399.55" x2="252.40" y2="399.55" stroke="#111" stroke-width="1.4"/>
<line x1="248.10" y1="395.33" x2="248.10" y2="403.77" stroke="#111" stroke-width="1.2"/>
<line x1="245.50" y1="395.33" x2="250.70" y2="395.33" stroke="#111" stroke-width="1.2"/>
<line x1="245.50" y1="403.77" x2="250.70" y2="403.77" stroke="#111" stroke-width="1.2"/>
<path d="M264.74 371.52L266.34 373.12L264.74 374.72L263.14 373.12Z" fill="#1d4a94"/>
<path d="M264.73 380.32L266.33 381.92L264.73 383.52L263.13 381.92Z" fill="#1d4a94"/>
<path d="M265.03 385.02L266.63 386.62L265.03 388.22L263.43 386.62Z" fill="#1d4a94"/>
<path d="M256.98 386.41L258.58 388.01L256.98 389.61L255.38 388.01Z" fill="#1d4a94"/>
<path d="M261.20 390.02L262.80 391.62L261.20 393.22L259.60 391.62Z" fill="#1d4a94"/>
<path d="M257.82 391.14L259.42 392.74L257.82 394.34L256.22 392.74Z" fill="#1d4a94"/>
<path d="M265.10 394.31L266.70 395.91L265.10 397.51L263.50 395.91Z" fill="#1d4a94"/>
<path d="M261.58 395.60L263.18 397.20L261.58 398.80L259.98 397.20Z" fill="#1d4a94"/>
<path d="M257.44 396.34L259.04 397.94L257.44 399.54L255.84 397.94Z" fill="#1d4a94"/>
<path d="M262.45 399.13L264.05 400.73L262.45 402.33L260.85 400.73Z" fill="#1d4a94"/>
<path d="M256.75 400.47L258.35 402.07L256.75 403.67L255.15 402.07Z" fill="#1d4a94"/>
<path d="M260.94 404.74L262.54 406.34L260.94 407.94L259.34 406.34Z" fill="#1d4a94"/>
<path d="M257.13 406.29L258.73 407.89L257.13 409.50L255.53 407.89Z" fill="#1d4a94"/>
<path d="M265.05 406.29L266.65 407.89L265.05 409.50L263.45 407.89Z" fill="#1d4a94"/>
<line x1="256.60" y1="395.94" x2="265.20" y2="395.94" stroke="#111" stroke-width="1.4"/>
<line x1="260.90" y1="387.09" x2="260.90" y2="405.28" stroke="#111" stroke-width="1.2"/>
<line x1="258.30" y1="387.09" x2="263.50" y2="387.09" stroke="#111" stroke-width="1.2"/>
<line x1="258.30" y1="405.28" x2="263.50" y2="405.28" stroke="#111" stroke-width="1.2"/>
<circle cx="283.50" cy="407.69" r="1.40" fill="#4a1d6e"/>
<circle cx="288.70" cy="407.69" r="1.40" fill="#4a1d6e"/>
<circle cx="286.10" cy="408.90" r="1.40" fill="#4a1d6e"/>
<circle cx="284.80" cy="408.50" r="1.40" fill="#4a1d6e"/>
<circle cx="287.40" cy="408.50" r="1.40" fill="#4a1d6e"/>
<line x1="281.80" y1="408.30" x2="290.40" y2="408.30" stroke="#111" stroke-width="1.4"/>
<rect x="296.13" y="374.89" width="2.90" height="2.90" fill="#6db33f"/>
<rect x="300.04" y="377.31" width="2.90" height="2.90" fill="#6db33f"/>
<rect x="297.94" y="381.93" width="2.90" height="2.90" fill="#6db33f"/>
<rect x="301.47" y="382.88" width="2.90" height="2.90" fill="#6db33f"/>
<rect x="293.27" y="384.80" width="2.90" height="2.90" fill="#6db33f"/>
<rect x="297.85" y="386.60" width="2.90" height="2.90" fill="#6db33f"/>
<rect x="293.67" y="388.76" width="2.90" height="2.90" fill="#6db33f"/>
<rect x="296.89" y="389.84" width="2.90" height="2.90" fill="#6db33f"/>
<rect x="301.28" y="390.04" width="2.90" height="2.90" fill="#6db33f"/>
<rect x="294.75" y="391.14" width="2.90" height="2.90" fill="#6db33f"/>
<rect x="300.16" y="393.72" width="2.90" height="2.90" fill="#6db33f"/>
<rect x="293.22" y="394.67" width="2.90" height="2.90" fill="#6db33f"/>
<rect x="297.74" y="395.98" width="2.90" height="2.90" fill="#6db33f"/>
<rect x="294.72" y="399.01" width="2.90" height="2.90" fill="#6db33f"/>
<rect x="300.86" y="399.51" width="2.90" height="2.90" fill="#6db33f"/>
<rect x="297.76" y="399.51" width="2.90" height="2.90" fill="#6db33f"/>
<line x1="294.50" y1="391.41" x2="303.10" y2="391.41" stroke="#111" stroke-width="1.4"/>
<line x1="298.80" y1="384.08" x2="298.80" y2="398.95" stroke="#111" stroke-width="1.2"/>
<line x1="296.20" y1="384.08" x2="301.40" y2="384.08" stroke="#111" stroke-width="1.2"/>
<line x1="296.20" y1="398.95" x2="301.40" y2="398.95" stroke="#111" stroke-width="1.2"/>
<path d="M312.72 366.05L314.37 369.01L311.07 369.01Z" fill="#c0143c"/>
<path d="M308.32 366.05L309.97 369.01L306.67 369.01Z" fill="#c0143c"/>
<path d="M315.32 367.01L316.97 369.98L313.67 369.98Z" fill="#c0143c"/>
<path d="M314.41 371.14L316.06 374.11L312.76 374.11Z" fill="#c0143c"/>
<path d="M309.87 372.58L311.52 375.55L308.22 375.55Z" fill="#c0143c"/>
<path d="M307.24 374.84L308.89 377.81L305.59 377.81Z" fill="#c0143c"/>
<path d="M311.71 375.67L313.36 378.64L310.06 378.64Z" fill="#c0143c"/>
<path d="M308.31 378.11L309.96 381.08L306.66 381.08Z" fill="#c0143c"/>
<path d="M315.44 378.77L317.09 381.74L313.79 381.74Z" fill="#c0143c"/>
<path d="M311.16 380.14L312.81 383.11L309.51 383.11Z" fill="#c0143c"/>
<path d="M307.94 381.75L309.59 384.72L306.29 384.72Z" fill="#c0143c"/>
<path d="M314.37 385.15L316.02 388.12L312.72 388.12Z" fill="#c0143c"/>
<path d="M308.29 387.12L309.94 390.09L306.64 390.09Z" fill="#c0143c"/>
<path d="M311.49 390.63L313.14 393.60L309.84 393.60Z" fill="#c0143c"/>
<path d="M307.24 393.93L308.89 396.90L305.59 396.90Z" fill="#c0143c"/>
<path d="M309.03 396.80L310.68 399.77L307.38 399.77Z" fill="#c0143c"/>
<line x1="307.00" y1="380.46" x2="315.60" y2="380.46" stroke="#111" stroke-width="1.4"/>
<line x1="311.30" y1="370.81" x2="311.30" y2="389.10" stroke="#111" stroke-width="1.2"/>
<line x1="308.70" y1="370.81" x2="313.90" y2="370.81" stroke="#111" stroke-width="1.2"/>
<line x1="308.70" y1="389.10" x2="313.90" y2="389.10" stroke="#111" stroke-width="1.2"/>
<path d="M328.23 359.86L329.83 361.46L328.23 363.06L326.63 361.46Z" fill="#1d4a94"/>
<path d="M322.25 361.21L323.85 362.81L322.25 364.41L320.65 362.81Z" fill="#1d4a94"/>
<path d="M322.01 369.18L323.61 370.78L322.01 372.38L320.41 370.78Z" fill="#1d4a94"/>
<path d="M327.26 373.07L328.86 374.67L327.26 376.27L325.66 374.67Z" fill="#1d4a94"/>
<path d="M324.37 376.91L325.97 378.51L324.37 380.11L322.77 378.51Z" fill="#1d4a94"/>
<path d="M327.65 378.13L329.25 379.73L327.65 381.33L326.05 379.73Z" fill="#1d4a94"/>
<path d="M324.19 380.67L325.79 382.27L324.19 383.87L322.59 382.27Z" fill="#1d4a94"/>
<path d="M327.09 382.32L328.69 383.92L327.09 385.52L325.49 383.92Z" fill="#1d4a94"/>
<path d="M324.03 384.16L325.63 385.76L324.03 387.36L322.43 385.76Z" fill="#1d4a94"/>
<path d="M320.08 385.57L321.68 387.17L320.08 388.77L318.48 387.17Z" fill="#1d4a94"/>
<path d="M326.83 388.00L328.43 389.60L326.83 391.20L325.23 389.60Z" fill="#1d4a94"/>
<path d="M324.04 391.93L325.64 393.53L324.04 395.13L322.44 393.53Z" fill="#1d4a94"/>
<path d="M320.76 393.70L322.36 395.30L320.76 396.90L319.16 395.30Z" fill="#1d4a94"/>
<path d="M327.62 399.51L329.22 401.11L327.62 402.71L326.02 401.11Z" fill="#1d4a94"/>
<path d="M323.19 403.68L324.79 405.28L323.19 406.88L321.59 405.28Z" fill="#1d4a94"/>
<path d="M326.99 403.68L328.59 405.28L326.99 406.88L325.39 405.28Z" fill="#1d4a94"/>
<line x1="319.80" y1="385.38" x2="328.40" y2="385.38" stroke="#111" stroke-width="1.4"/>
<line x1="324.10" y1="373.22" x2="324.10" y2="398.15" stroke="#111" stroke-width="1.2"/>
<line x1="321.50" y1="373.22" x2="326.70" y2="373.22" stroke="#111" stroke-width="1.2"/>
<line x1="321.50" y1="398.15" x2="326.70" y2="398.15" stroke="#111" stroke-width="1.2"/>
<line x1="297.00" y1="355.50" x2="310.80" y2="355.50" stroke="#1a1a1a" stroke-width="1.4"/>
<text x="303.90" y="355.40" font-size="9.2" fill="#1a1a1a" text-anchor="middle" textLength="11.70" lengthAdjust="spacingAndGlyphs">***</text>
<line x1="375.40" y1="347.80" x2="375.40" y2="409.50" stroke="#111" stroke-width="1.3"/>
<line x1="374.80" y1="408.90" x2="488.70" y2="408.90" stroke="#111" stroke-width="1.3"/>
<line x1="372.80" y1="408.90" x2="375.40" y2="408.90" stroke="#1a1a1a" stroke-width="1"/>
<text x="369.20" y="411.85" font-size="8.2" fill="#1a1a1a" text-anchor="end">0</text>
<line x1="372.80" y1="389.03" x2="375.40" y2="389.03" stroke="#1a1a1a" stroke-width="1"/>
<text x="369.20" y="391.98" font-size="8.2" fill="#1a1a1a" text-anchor="end">1</text>
<line x1="372.80" y1="369.17" x2="375.40" y2="369.17" stroke="#1a1a1a" stroke-width="1"/>
<text x="369.20" y="372.12" font-size="8.2" fill="#1a1a1a" text-anchor="end">2</text>
<line x1="372.80" y1="349.30" x2="375.40" y2="349.30" stroke="#1a1a1a" stroke-width="1"/>
<text x="369.20" y="352.25" font-size="8.2" fill="#1a1a1a" text-anchor="end">3</text>
<line x1="381.90" y1="408.90" x2="381.90" y2="411.50" stroke="#1a1a1a" stroke-width="0.9"/>
<line x1="394.40" y1="408.90" x2="394.40" y2="411.50" stroke="#1a1a1a" stroke-width="0.9"/>
<line x1="407.00" y1="408.90" x2="407.00" y2="411.50" stroke="#1a1a1a" stroke-width="0.9"/>
<line x1="419.80" y1="408.90" x2="419.80" y2="411.50" stroke="#1a1a1a" stroke-width="0.9"/>
<line x1="444.50" y1="408.90" x2="444.50" y2="411.50" stroke="#1a1a1a" stroke-width="0.9"/>
<line x1="457.20" y1="408.90" x2="457.20" y2="411.50" stroke="#1a1a1a" stroke-width="0.9"/>
<line x1="469.60" y1="408.90" x2="469.60" y2="411.50" stroke="#1a1a1a" stroke-width="0.9"/>
<line x1="482.10" y1="408.90" x2="482.10" y2="411.50" stroke="#1a1a1a" stroke-width="0.9"/>
<line x1="432.00" y1="350.30" x2="432.00" y2="411.50" stroke="#333" stroke-width="1.0"/>
<circle cx="379.30" cy="408.07" r="1.40" fill="#4a1d6e"/>
<circle cx="384.50" cy="408.07" r="1.40" fill="#4a1d6e"/>
<circle cx="381.90" cy="408.90" r="1.40" fill="#4a1d6e"/>
<circle cx="380.60" cy="408.62" r="1.40" fill="#4a1d6e"/>
<circle cx="383.20" cy="408.62" r="1.40" fill="#4a1d6e"/>
<line x1="377.60" y1="408.48" x2="386.20" y2="408.48" stroke="#111" stroke-width="1.4"/>
<rect x="395.77" y="381.82" width="2.90" height="2.90" fill="#6db33f"/>
<rect x="392.09" y="384.55" width="2.90" height="2.90" fill="#6db33f"/>
<rect x="396.41" y="387.09" width="2.90" height="2.90" fill="#6db33f"/>
<rect x="393.24" y="388.41" width="2.90" height="2.90" fill="#6db33f"/>
<rect x="389.88" y="390.24" width="2.90" height="2.90" fill="#6db33f"/>
<rect x="395.87" y="391.17" width="2.90" height="2.90" fill="#6db33f"/>
<rect x="392.88" y="392.11" width="2.90" height="2.90" fill="#6db33f"/>
<rect x="388.85" y="393.07" width="2.90" height="2.90" fill="#6db33f"/>
<rect x="397.05" y="393.79" width="2.90" height="2.90" fill="#6db33f"/>
<rect x="391.43" y="394.56" width="2.90" height="2.90" fill="#6db33f"/>
<rect x="394.58" y="395.54" width="2.90" height="2.90" fill="#6db33f"/>
<rect x="388.96" y="396.46" width="2.90" height="2.90" fill="#6db33f"/>
<rect x="397.05" y="397.49" width="2.90" height="2.90" fill="#6db33f"/>
<rect x="392.06" y="398.60" width="2.90" height="2.90" fill="#6db33f"/>
<rect x="394.97" y="400.30" width="2.90" height="2.90" fill="#6db33f"/>
<rect x="388.75" y="400.30" width="2.90" height="2.90" fill="#6db33f"/>
<line x1="390.10" y1="394.60" x2="398.70" y2="394.60" stroke="#111" stroke-width="1.4"/>
<line x1="394.40" y1="389.23" x2="394.40" y2="399.36" stroke="#111" stroke-width="1.2"/>
<line x1="391.80" y1="389.23" x2="397.00" y2="389.23" stroke="#111" stroke-width="1.2"/>
<line x1="391.80" y1="399.36" x2="397.00" y2="399.36" stroke="#111" stroke-width="1.2"/>
<path d="M410.19 388.58L411.84 391.55L408.54 391.55Z" fill="#c0143c"/>
<path d="M406.16 393.15L407.81 396.12L404.51 396.12Z" fill="#c0143c"/>
<path d="M410.94 394.69L412.59 397.66L409.29 397.66Z" fill="#c0143c"/>
<path d="M402.91 396.17L404.56 399.14L401.26 399.14Z" fill="#c0143c"/>
<path d="M406.64 396.93L408.29 399.90L404.99 399.90Z" fill="#c0143c"/>
<path d="M409.37 397.03L411.02 400.00L407.72 400.00Z" fill="#c0143c"/>
<path d="M404.45 397.74L406.10 400.71L402.80 400.71Z" fill="#c0143c"/>
<path d="M410.91 398.58L412.56 401.55L409.26 401.55Z" fill="#c0143c"/>
<path d="M407.91 399.35L409.56 402.32L406.26 402.32Z" fill="#c0143c"/>
<path d="M403.07 399.51L404.72 402.48L401.42 402.48Z" fill="#c0143c"/>
<path d="M405.67 400.34L407.32 403.31L404.02 403.31Z" fill="#c0143c"/>
<path d="M409.87 401.08L411.52 404.05L408.22 404.05Z" fill="#c0143c"/>
<path d="M403.38 402.29L405.03 405.26L401.73 405.26Z" fill="#c0143c"/>
<path d="M407.03 403.28L408.68 406.25L405.38 406.25Z" fill="#c0143c"/>
<path d="M411.20 403.28L412.85 406.25L409.55 406.25Z" fill="#c0143c"/>
<line x1="402.70" y1="400.16" x2="411.30" y2="400.16" stroke="#111" stroke-width="1.4"/>
<line x1="407.00" y1="396.38" x2="407.00" y2="402.54" stroke="#111" stroke-width="1.2"/>
<line x1="404.40" y1="396.38" x2="409.60" y2="396.38" stroke="#111" stroke-width="1.2"/>
<line x1="404.40" y1="402.54" x2="409.60" y2="402.54" stroke="#111" stroke-width="1.2"/>
<path d="M420.37 371.54L421.97 373.14L420.37 374.74L418.77 373.14Z" fill="#1d4a94"/>
<path d="M419.53 378.49L421.13 380.09L419.53 381.69L417.93 380.09Z" fill="#1d4a94"/>
<path d="M423.76 383.44L425.36 385.04L423.76 386.64L422.16 385.04Z" fill="#1d4a94"/>
<path d="M417.25 384.88L418.85 386.48L417.25 388.08L415.65 386.48Z" fill="#1d4a94"/>
<path d="M420.84 386.74L422.44 388.34L420.84 389.94L419.24 388.34Z" fill="#1d4a94"/>
<path d="M417.87 389.26L419.47 390.86L417.87 392.46L416.27 390.86Z" fill="#1d4a94"/>
<path d="M422.12 391.15L423.72 392.75L422.12 394.35L420.52 392.75Z" fill="#1d4a94"/>
<path d="M415.66 392.51L417.26 394.11L415.66 395.71L414.06 394.11Z" fill="#1d4a94"/>
<path d="M419.56 394.68L421.16 396.28L419.56 397.88L417.96 396.28Z" fill="#1d4a94"/>
<path d="M416.26 396.19L417.86 397.79L416.26 399.39L414.66 397.79Z" fill="#1d4a94"/>
<path d="M421.82 397.53L423.42 399.13L421.82 400.73L420.22 399.13Z" fill="#1d4a94"/>
<path d="M416.86 401.58L418.46 403.18L416.86 404.78L415.26 403.18Z" fill="#1d4a94"/>
<path d="M421.22 403.33L422.82 404.93L421.22 406.53L419.62 404.93Z" fill="#1d4a94"/>
<path d="M423.78 403.33L425.38 404.93L423.78 406.53L422.18 404.93Z" fill="#1d4a94"/>
<line x1="415.50" y1="393.40" x2="424.10" y2="393.40" stroke="#111" stroke-width="1.4"/>
<line x1="419.80" y1="385.06" x2="419.80" y2="401.75" stroke="#111" stroke-width="1.2"/>
<line x1="417.20" y1="385.06" x2="422.40" y2="385.06" stroke="#111" stroke-width="1.2"/>
<line x1="417.20" y1="401.75" x2="422.40" y2="401.75" stroke="#111" stroke-width="1.2"/>
<circle cx="441.90" cy="405.92" r="1.40" fill="#4a1d6e"/>
<circle cx="447.10" cy="405.92" r="1.40" fill="#4a1d6e"/>
<circle cx="444.50" cy="408.90" r="1.40" fill="#4a1d6e"/>
<circle cx="443.20" cy="407.91" r="1.40" fill="#4a1d6e"/>
<circle cx="445.80" cy="407.91" r="1.40" fill="#4a1d6e"/>
<line x1="440.20" y1="407.41" x2="448.80" y2="407.41" stroke="#111" stroke-width="1.4"/>
<rect x="451.66" y="360.76" width="2.90" height="2.90" fill="#6db33f"/>
<rect x="459.49" y="370.74" width="2.90" height="2.90" fill="#6db33f"/>
<rect x="459.38" y="374.74" width="2.90" height="2.90" fill="#6db33f"/>
<rect x="459.57" y="378.41" width="2.90" height="2.90" fill="#6db33f"/>
<rect x="454.95" y="380.49" width="2.90" height="2.90" fill="#6db33f"/>
<rect x="458.33" y="381.45" width="2.90" height="2.90" fill="#6db33f"/>
<rect x="453.37" y="382.55" width="2.90" height="2.90" fill="#6db33f"/>
<rect x="456.14" y="383.72" width="2.90" height="2.90" fill="#6db33f"/>
<rect x="459.33" y="385.47" width="2.90" height="2.90" fill="#6db33f"/>
<rect x="456.18" y="387.18" width="2.90" height="2.90" fill="#6db33f"/>
<rect x="452.80" y="390.42" width="2.90" height="2.90" fill="#6db33f"/>
<rect x="456.47" y="391.44" width="2.90" height="2.90" fill="#6db33f"/>
<rect x="459.49" y="393.74" width="2.90" height="2.90" fill="#6db33f"/>
<rect x="451.96" y="393.74" width="2.90" height="2.90" fill="#6db33f"/>
<rect x="455.33" y="393.74" width="2.90" height="2.90" fill="#6db33f"/>
<line x1="452.90" y1="386.05" x2="461.50" y2="386.05" stroke="#111" stroke-width="1.4"/>
<line x1="457.20" y1="377.31" x2="457.20" y2="394.00" stroke="#111" stroke-width="1.2"/>
<line x1="454.60" y1="377.31" x2="459.80" y2="377.31" stroke="#111" stroke-width="1.2"/>
<line x1="454.60" y1="394.00" x2="459.80" y2="394.00" stroke="#111" stroke-width="1.2"/>
<path d="M468.24 352.02L469.89 354.99L466.59 354.99Z" fill="#c0143c"/>
<path d="M471.37 361.33L473.02 364.30L469.72 364.30Z" fill="#c0143c"/>
<path d="M466.79 364.95L468.44 367.92L465.14 367.92Z" fill="#c0143c"/>
<path d="M470.01 366.95L471.66 369.92L468.36 369.92Z" fill="#c0143c"/>
<path d="M468.21 370.47L469.86 373.44L466.56 373.44Z" fill="#c0143c"/>
<path d="M472.60 371.21L474.25 374.18L470.95 374.18Z" fill="#c0143c"/>
<path d="M470.20 373.64L471.85 376.61L468.55 376.61Z" fill="#c0143c"/>
<path d="M466.21 374.06L467.86 377.03L464.56 377.03Z" fill="#c0143c"/>
<path d="M472.69 376.64L474.34 379.61L471.04 379.61Z" fill="#c0143c"/>
<path d="M465.49 378.03L467.14 381.00L463.84 381.00Z" fill="#c0143c"/>
<path d="M468.92 379.60L470.57 382.57L467.27 382.57Z" fill="#c0143c"/>
<path d="M473.37 381.91L475.02 384.88L471.72 384.88Z" fill="#c0143c"/>
<path d="M466.67 382.74L468.32 385.71L465.02 385.71Z" fill="#c0143c"/>
<path d="M468.46 386.39L470.11 389.36L466.81 389.36Z" fill="#c0143c"/>
<path d="M473.39 386.39L475.04 389.36L471.74 389.36Z" fill="#c0143c"/>
<line x1="465.30" y1="375.92" x2="473.90" y2="375.92" stroke="#111" stroke-width="1.4"/>
<line x1="469.60" y1="367.18" x2="469.60" y2="383.47" stroke="#111" stroke-width="1.2"/>
<line x1="467.00" y1="367.18" x2="472.20" y2="367.18" stroke="#111" stroke-width="1.2"/>
<line x1="467.00" y1="383.47" x2="472.20" y2="383.47" stroke="#111" stroke-width="1.2"/>
<path d="M486.27 365.98L487.87 367.58L486.27 369.18L484.67 367.58Z" fill="#1d4a94"/>
<path d="M481.78 365.98L483.38 367.58L481.78 369.18L480.18 367.58Z" fill="#1d4a94"/>
<path d="M480.05 368.94L481.65 370.54L480.05 372.14L478.45 370.54Z" fill="#1d4a94"/>
<path d="M484.85 371.60L486.45 373.20L484.85 374.80L483.25 373.20Z" fill="#1d4a94"/>
<path d="M479.51 373.38L481.11 374.98L479.51 376.58L477.91 374.98Z" fill="#1d4a94"/>
<path d="M485.82 374.91L487.42 376.51L485.82 378.11L484.22 376.51Z" fill="#1d4a94"/>
<path d="M477.95 376.37L479.55 377.97L477.95 379.57L476.35 377.97Z" fill="#1d4a94"/>
<path d="M484.83 378.15L486.43 379.75L484.83 381.35L483.23 379.75Z" fill="#1d4a94"/>
<path d="M480.68 379.28L482.28 380.88L480.68 382.48L479.08 380.88Z" fill="#1d4a94"/>
<path d="M478.26 379.44L479.86 381.04L478.26 382.64L476.66 381.04Z" fill="#1d4a94"/>
<path d="M486.25 381.07L487.85 382.67L486.25 384.27L484.65 382.67Z" fill="#1d4a94"/>
<path d="M479.05 383.50L480.65 385.10L479.05 386.70L477.45 385.10Z" fill="#1d4a94"/>
<path d="M485.40 385.50L487.00 387.10L485.40 388.70L483.80 387.10Z" fill="#1d4a94"/>
<path d="M481.05 387.99L482.65 389.59L481.05 391.19L479.45 389.59Z" fill="#1d4a94"/>
<path d="M481.27 391.41L482.87 393.01L481.27 394.61L479.67 393.01Z" fill="#1d4a94"/>
<path d="M485.31 392.40L486.91 394.00L485.31 395.60L483.71 394.00Z" fill="#1d4a94"/>
<line x1="477.80" y1="379.50" x2="486.40" y2="379.50" stroke="#111" stroke-width="1.4"/>
<line x1="482.10" y1="370.95" x2="482.10" y2="387.64" stroke="#111" stroke-width="1.2"/>
<line x1="479.50" y1="370.95" x2="484.70" y2="370.95" stroke="#111" stroke-width="1.2"/>
<line x1="479.50" y1="387.64" x2="484.70" y2="387.64" stroke="#111" stroke-width="1.2"/>
<line x1="391.20" y1="355.10" x2="404.80" y2="355.10" stroke="#1a1a1a" stroke-width="1.4"/>
<text x="398.00" y="355.00" font-size="9.2" fill="#1a1a1a" text-anchor="middle" textLength="7.80" lengthAdjust="spacingAndGlyphs">**</text>
<line x1="407.60" y1="355.10" x2="421.30" y2="355.10" stroke="#1a1a1a" stroke-width="1.4"/>
<text x="414.45" y="355.00" font-size="9.2" fill="#1a1a1a" text-anchor="middle" textLength="7.80" lengthAdjust="spacingAndGlyphs">**</text>
<line x1="454.70" y1="350.30" x2="468.40" y2="350.30" stroke="#1a1a1a" stroke-width="1.4"/>
<text x="461.55" y="350.20" font-size="9.2" fill="#1a1a1a" text-anchor="middle" textLength="7.80" lengthAdjust="spacingAndGlyphs">**</text>
<line x1="453.60" y1="341.20" x2="483.90" y2="341.20" stroke="#1a1a1a" stroke-width="1.4"/>
<text x="468.75" y="341.10" font-size="9.2" fill="#1a1a1a" text-anchor="middle" textLength="3.90" lengthAdjust="spacingAndGlyphs">*</text>
<text x="78.35" y="435.00" font-size="10.2" fill="#1a1a1a" textLength="55.45" lengthAdjust="spacingAndGlyphs">Colon CD8<tspan font-size="8" dy="-3.6">+</tspan></text>
<text x="237.60" y="435.00" font-size="10.2" fill="#1a1a1a" textLength="49.80" lengthAdjust="spacingAndGlyphs">Liver CD8<tspan font-size="8" dy="-3.6">+</tspan></text>
<text x="397.50" y="435.00" font-size="10.2" fill="#1a1a1a" textLength="50.60" lengthAdjust="spacingAndGlyphs">Lung CD8<tspan font-size="8" dy="-3.6">+</tspan></text>
<text x="30.70" y="474.50" font-size="9.4" fill="#1a1a1a" text-anchor="middle" textLength="57.50" lengthAdjust="spacingAndGlyphs" transform="rotate(-90 30.70 474.50)">Total IFN&#947;<tspan font-size="7" dy="-3.4">+</tspan><tspan dy="3.4"> cells</tspan></text>
<text x="42.50" y="474.50" font-size="9.4" fill="#1a1a1a" text-anchor="middle" textLength="23.00" lengthAdjust="spacingAndGlyphs" transform="rotate(-90 42.50 474.50)">(x10<tspan font-size="6.6" dy="-3.3">5</tspan><tspan dy="3.3">)</tspan></text>
<text x="180.50" y="474.50" font-size="9.4" fill="#1a1a1a" text-anchor="middle" textLength="58.00" lengthAdjust="spacingAndGlyphs" transform="rotate(-90 180.50 474.50)">Total IFN&#947;<tspan font-size="7" dy="-3.4">+</tspan><tspan dy="3.4"> cells</tspan></text>
<text x="192.20" y="474.50" font-size="9.4" fill="#1a1a1a" text-anchor="middle" textLength="23.00" lengthAdjust="spacingAndGlyphs" transform="rotate(-90 192.20 474.50)">(x10<tspan font-size="6.6" dy="-3.3">6</tspan><tspan dy="3.3">)</tspan></text>
<text x="339.50" y="473.60" font-size="9.4" fill="#1a1a1a" text-anchor="middle" textLength="58.00" lengthAdjust="spacingAndGlyphs" transform="rotate(-90 339.50 473.60)">Total IFN&#947;<tspan font-size="7" dy="-3.4">+</tspan><tspan dy="3.4"> cells</tspan></text>
<text x="351.40" y="473.60" font-size="9.4" fill="#1a1a1a" text-anchor="middle" textLength="23.00" lengthAdjust="spacingAndGlyphs" transform="rotate(-90 351.40 473.60)">(x10<tspan font-size="6.6" dy="-3.3">6</tspan><tspan dy="3.3">)</tspan></text>
<line x1="60.00" y1="443.50" x2="60.00" y2="507.10" stroke="#111" stroke-width="1.3"/>
<line x1="59.40" y1="506.50" x2="153.30" y2="506.50" stroke="#111" stroke-width="1.3"/>
<line x1="57.40" y1="506.50" x2="60.00" y2="506.50" stroke="#1a1a1a" stroke-width="1"/>
<text x="53.80" y="509.45" font-size="8.2" fill="#1a1a1a" text-anchor="end">0</text>
<line x1="57.40" y1="491.12" x2="60.00" y2="491.12" stroke="#1a1a1a" stroke-width="1"/>
<text x="53.80" y="494.07" font-size="8.2" fill="#1a1a1a" text-anchor="end">2</text>
<line x1="57.40" y1="475.75" x2="60.00" y2="475.75" stroke="#1a1a1a" stroke-width="1"/>
<text x="53.80" y="478.70" font-size="8.2" fill="#1a1a1a" text-anchor="end">4</text>
<line x1="57.40" y1="460.38" x2="60.00" y2="460.38" stroke="#1a1a1a" stroke-width="1"/>
<text x="53.80" y="463.32" font-size="8.2" fill="#1a1a1a" text-anchor="end">6</text>
<line x1="57.40" y1="445.00" x2="60.00" y2="445.00" stroke="#1a1a1a" stroke-width="1"/>
<text x="53.80" y="447.95" font-size="8.2" fill="#1a1a1a" text-anchor="end">8</text>
<line x1="71.20" y1="506.50" x2="71.20" y2="509.10" stroke="#1a1a1a" stroke-width="0.9"/>
<line x1="94.20" y1="506.50" x2="94.20" y2="509.10" stroke="#1a1a1a" stroke-width="0.9"/>
<line x1="117.30" y1="506.50" x2="117.30" y2="509.10" stroke="#1a1a1a" stroke-width="0.9"/>
<line x1="140.80" y1="506.50" x2="140.80" y2="509.10" stroke="#1a1a1a" stroke-width="0.9"/>
<circle cx="65.20" cy="505.42" r="1.40" fill="#4a1d6e"/>
<circle cx="77.20" cy="505.42" r="1.40" fill="#4a1d6e"/>
<circle cx="67.90" cy="506.12" r="1.40" fill="#4a1d6e"/>
<circle cx="74.50" cy="506.12" r="1.40" fill="#4a1d6e"/>
<circle cx="71.20" cy="506.50" r="1.40" fill="#4a1d6e"/>
<circle cx="70.00" cy="506.35" r="1.40" fill="#4a1d6e"/>
<circle cx="72.70" cy="506.27" r="1.40" fill="#4a1d6e"/>
<line x1="63.60" y1="506.04" x2="78.80" y2="506.04" stroke="#111" stroke-width="1.4"/>
<rect x="94.32" y="485.06" width="2.90" height="2.90" fill="#6db33f"/>
<rect x="87.04" y="485.74" width="2.90" height="2.90" fill="#6db33f"/>
<rect x="91.97" y="488.64" width="2.90" height="2.90" fill="#6db33f"/>
<rect x="95.17" y="489.67" width="2.90" height="2.90" fill="#6db33f"/>
<rect x="86.60" y="490.60" width="2.90" height="2.90" fill="#6db33f"/>
<rect x="98.07" y="491.47" width="2.90" height="2.90" fill="#6db33f"/>
<rect x="94.47" y="493.05" width="2.90" height="2.90" fill="#6db33f"/>
<rect x="90.72" y="493.85" width="2.90" height="2.90" fill="#6db33f"/>
<rect x="86.38" y="494.48" width="2.90" height="2.90" fill="#6db33f"/>
<rect x="97.12" y="495.17" width="2.90" height="2.90" fill="#6db33f"/>
<rect x="93.79" y="496.31" width="2.90" height="2.90" fill="#6db33f"/>
<rect x="88.85" y="496.58" width="2.90" height="2.90" fill="#6db33f"/>
<rect x="98.52" y="498.31" width="2.90" height="2.90" fill="#6db33f"/>
<rect x="95.01" y="500.81" width="2.90" height="2.90" fill="#6db33f"/>
<rect x="86.89" y="501.05" width="2.90" height="2.90" fill="#6db33f"/>
<line x1="86.70" y1="494.81" x2="101.90" y2="494.81" stroke="#111" stroke-width="1.4"/>
<line x1="94.30" y1="490.59" x2="94.30" y2="499.43" stroke="#111" stroke-width="1.2"/>
<line x1="90.30" y1="490.59" x2="98.30" y2="490.59" stroke="#111" stroke-width="1.2"/>
<line x1="90.30" y1="499.43" x2="98.30" y2="499.43" stroke="#111" stroke-width="1.2"/>
<path d="M116.08 464.88L117.73 467.84L114.43 467.84Z" fill="#c0143c"/>
<path d="M112.49 471.34L114.14 474.31L110.84 474.31Z" fill="#c0143c"/>
<path d="M112.71 475.75L114.36 478.72L111.06 478.72Z" fill="#c0143c"/>
<path d="M117.73 479.84L119.38 482.81L116.08 482.81Z" fill="#c0143c"/>
<path d="M122.08 482.11L123.73 485.08L120.43 485.08Z" fill="#c0143c"/>
<path d="M111.49 482.30L113.14 485.27L109.84 485.27Z" fill="#c0143c"/>
<path d="M123.83 484.95L125.48 487.92L122.18 487.92Z" fill="#c0143c"/>
<path d="M111.54 487.13L113.19 490.10L109.89 490.10Z" fill="#c0143c"/>
<path d="M121.87 488.86L123.52 491.83L120.22 491.83Z" fill="#c0143c"/>
<path d="M117.07 489.44L118.72 492.41L115.42 492.41Z" fill="#c0143c"/>
<path d="M111.12 490.62L112.77 493.59L109.47 493.59Z" fill="#c0143c"/>
<path d="M121.43 492.56L123.08 495.53L119.78 495.53Z" fill="#c0143c"/>
<path d="M121.82 496.49L123.47 499.46L120.17 499.46Z" fill="#c0143c"/>
<path d="M111.13 501.72L112.78 504.69L109.48 504.69Z" fill="#c0143c"/>
<path d="M120.25 501.93L121.90 504.90L118.60 504.90Z" fill="#c0143c"/>
<line x1="109.90" y1="487.90" x2="125.10" y2="487.90" stroke="#111" stroke-width="1.4"/>
<line x1="117.50" y1="479.29" x2="117.50" y2="496.58" stroke="#111" stroke-width="1.2"/>
<line x1="113.50" y1="479.29" x2="121.50" y2="479.29" stroke="#111" stroke-width="1.2"/>
<line x1="113.50" y1="496.58" x2="121.50" y2="496.58" stroke="#111" stroke-width="1.2"/>
<path d="M140.81 456.31L142.41 457.92L140.81 459.52L139.21 457.92Z" fill="#1d4a94"/>
<path d="M136.32 463.85L137.92 465.45L136.32 467.05L134.72 465.45Z" fill="#1d4a94"/>
<path d="M137.50 468.90L139.10 470.50L137.50 472.10L135.90 470.50Z" fill="#1d4a94"/>
<path d="M144.52 473.61L146.12 475.21L144.52 476.81L142.92 475.21Z" fill="#1d4a94"/>
<path d="M139.39 477.16L140.99 478.76L139.39 480.36L137.79 478.76Z" fill="#1d4a94"/>
<path d="M144.68 478.81L146.28 480.41L144.68 482.01L143.08 480.41Z" fill="#1d4a94"/>
<path d="M134.57 480.24L136.17 481.84L134.57 483.44L132.97 481.84Z" fill="#1d4a94"/>
<path d="M142.85 481.80L144.45 483.40L142.85 485.00L141.25 483.40Z" fill="#1d4a94"/>
<path d="M141.79 486.70L143.39 488.30L141.79 489.90L140.19 488.30Z" fill="#1d4a94"/>
<path d="M139.08 488.80L140.68 490.40L139.08 492.00L137.48 490.40Z" fill="#1d4a94"/>
<path d="M142.83 490.30L144.43 491.90L142.83 493.50L141.23 491.90Z" fill="#1d4a94"/>
<path d="M138.48 492.98L140.08 494.58L138.48 496.18L136.88 494.58Z" fill="#1d4a94"/>
<path d="M135.77 498.20L137.37 499.80L135.77 501.40L134.17 499.80Z" fill="#1d4a94"/>
<path d="M145.62 498.67L147.22 500.27L145.62 501.87L144.02 500.27Z" fill="#1d4a94"/>
<path d="M141.00 498.67L142.60 500.27L141.00 501.87L139.40 500.27Z" fill="#1d4a94"/>
<line x1="132.80" y1="484.82" x2="148.00" y2="484.82" stroke="#111" stroke-width="1.4"/>
<line x1="140.40" y1="472.91" x2="140.40" y2="496.97" stroke="#111" stroke-width="1.2"/>
<line x1="136.40" y1="472.91" x2="144.40" y2="472.91" stroke="#111" stroke-width="1.2"/>
<line x1="136.40" y1="496.97" x2="144.40" y2="496.97" stroke="#111" stroke-width="1.2"/>
<line x1="92.30" y1="452.20" x2="116.60" y2="452.20" stroke="#1a1a1a" stroke-width="1.4"/>
<text x="104.45" y="452.10" font-size="9.2" fill="#1a1a1a" text-anchor="middle" textLength="7.80" lengthAdjust="spacingAndGlyphs">**</text>
<line x1="216.50" y1="444.10" x2="216.50" y2="507.10" stroke="#111" stroke-width="1.3"/>
<line x1="215.90" y1="506.50" x2="308.80" y2="506.50" stroke="#111" stroke-width="1.3"/>
<line x1="213.90" y1="506.50" x2="216.50" y2="506.50" stroke="#1a1a1a" stroke-width="1"/>
<text x="210.30" y="509.45" font-size="8.2" fill="#1a1a1a" text-anchor="end">0</text>
<line x1="213.90" y1="494.32" x2="216.50" y2="494.32" stroke="#1a1a1a" stroke-width="1"/>
<text x="210.30" y="497.27" font-size="8.2" fill="#1a1a1a" text-anchor="end">0.5</text>
<line x1="213.90" y1="482.14" x2="216.50" y2="482.14" stroke="#1a1a1a" stroke-width="1"/>
<text x="210.30" y="485.09" font-size="8.2" fill="#1a1a1a" text-anchor="end">1</text>
<line x1="213.90" y1="469.96" x2="216.50" y2="469.96" stroke="#1a1a1a" stroke-width="1"/>
<text x="210.30" y="472.91" font-size="8.2" fill="#1a1a1a" text-anchor="end">1.5</text>
<line x1="213.90" y1="457.78" x2="216.50" y2="457.78" stroke="#1a1a1a" stroke-width="1"/>
<text x="210.30" y="460.73" font-size="8.2" fill="#1a1a1a" text-anchor="end">2</text>
<line x1="213.90" y1="445.60" x2="216.50" y2="445.60" stroke="#1a1a1a" stroke-width="1"/>
<text x="210.30" y="448.55" font-size="8.2" fill="#1a1a1a" text-anchor="end">2.5</text>
<line x1="227.70" y1="506.50" x2="227.70" y2="509.10" stroke="#1a1a1a" stroke-width="0.9"/>
<line x1="250.50" y1="506.50" x2="250.50" y2="509.10" stroke="#1a1a1a" stroke-width="0.9"/>
<line x1="273.80" y1="506.50" x2="273.80" y2="509.10" stroke="#1a1a1a" stroke-width="0.9"/>
<line x1="296.70" y1="506.50" x2="296.70" y2="509.10" stroke="#1a1a1a" stroke-width="0.9"/>
<circle cx="221.80" cy="505.65" r="1.40" fill="#4a1d6e"/>
<circle cx="233.80" cy="505.65" r="1.40" fill="#4a1d6e"/>
<circle cx="224.50" cy="506.20" r="1.40" fill="#4a1d6e"/>
<circle cx="231.10" cy="506.20" r="1.40" fill="#4a1d6e"/>
<circle cx="227.80" cy="506.50" r="1.40" fill="#4a1d6e"/>
<circle cx="226.60" cy="506.38" r="1.40" fill="#4a1d6e"/>
<circle cx="229.30" cy="506.32" r="1.40" fill="#4a1d6e"/>
<line x1="220.20" y1="506.13" x2="235.40" y2="506.13" stroke="#111" stroke-width="1.4"/>
<rect x="248.85" y="475.09" width="2.90" height="2.90" fill="#6db33f"/>
<rect x="253.71" y="475.09" width="2.90" height="2.90" fill="#6db33f"/>
<rect x="245.26" y="477.25" width="2.90" height="2.90" fill="#6db33f"/>
<rect x="254.93" y="479.96" width="2.90" height="2.90" fill="#6db33f"/>
<rect x="250.34" y="481.93" width="2.90" height="2.90" fill="#6db33f"/>
<rect x="246.17" y="483.72" width="2.90" height="2.90" fill="#6db33f"/>
<rect x="254.21" y="484.14" width="2.90" height="2.90" fill="#6db33f"/>
<rect x="253.23" y="487.44" width="2.90" height="2.90" fill="#6db33f"/>
<rect x="245.81" y="488.76" width="2.90" height="2.90" fill="#6db33f"/>
<rect x="250.33" y="489.18" width="2.90" height="2.90" fill="#6db33f"/>
<rect x="254.64" y="490.91" width="2.90" height="2.90" fill="#6db33f"/>
<rect x="245.01" y="493.18" width="2.90" height="2.90" fill="#6db33f"/>
<rect x="252.22" y="495.69" width="2.90" height="2.90" fill="#6db33f"/>
<rect x="247.42" y="498.01" width="2.90" height="2.90" fill="#6db33f"/>
<rect x="246.40" y="501.64" width="2.90" height="2.90" fill="#6db33f"/>
<rect x="253.88" y="501.64" width="2.90" height="2.90" fill="#6db33f"/>
<line x1="243.40" y1="488.72" x2="258.60" y2="488.72" stroke="#111" stroke-width="1.4"/>
<line x1="251.00" y1="479.70" x2="251.00" y2="497.49" stroke="#111" stroke-width="1.2"/>
<line x1="247.00" y1="479.70" x2="255.00" y2="479.70" stroke="#111" stroke-width="1.2"/>
<line x1="247.00" y1="497.49" x2="255.00" y2="497.49" stroke="#111" stroke-width="1.2"/>
<path d="M267.73 456.86L269.38 459.83L266.08 459.83Z" fill="#c0143c"/>
<path d="M276.75 458.29L278.40 461.26L275.10 461.26Z" fill="#c0143c"/>
<path d="M280.23 464.31L281.88 467.28L278.58 467.28Z" fill="#c0143c"/>
<path d="M276.72 468.78L278.37 471.75L275.07 471.75Z" fill="#c0143c"/>
<path d="M271.77 470.92L273.42 473.89L270.12 473.89Z" fill="#c0143c"/>
<path d="M280.23 472.60L281.88 475.57L278.58 475.57Z" fill="#c0143c"/>
<path d="M269.10 475.82L270.75 478.79L267.45 478.79Z" fill="#c0143c"/>
<path d="M276.15 476.44L277.80 479.41L274.50 479.41Z" fill="#c0143c"/>
<path d="M279.90 477.84L281.55 480.81L278.25 480.81Z" fill="#c0143c"/>
<path d="M276.71 482.26L278.36 485.23L275.06 485.23Z" fill="#c0143c"/>
<path d="M270.11 484.01L271.76 486.98L268.46 486.98Z" fill="#c0143c"/>
<path d="M280.16 484.56L281.81 487.53L278.51 487.53Z" fill="#c0143c"/>
<path d="M279.37 488.20L281.02 491.17L277.72 491.17Z" fill="#c0143c"/>
<path d="M273.63 490.48L275.28 493.45L271.98 493.45Z" fill="#c0143c"/>
<path d="M267.58 494.86L269.23 497.83L265.93 497.83Z" fill="#c0143c"/>
<path d="M276.75 494.86L278.40 497.83L275.10 497.83Z" fill="#c0143c"/>
<line x1="266.20" y1="479.70" x2="281.40" y2="479.70" stroke="#111" stroke-width="1.4"/>
<line x1="273.80" y1="468.25" x2="273.80" y2="490.91" stroke="#111" stroke-width="1.2"/>
<line x1="269.80" y1="468.25" x2="277.80" y2="468.25" stroke="#111" stroke-width="1.2"/>
<line x1="269.80" y1="490.91" x2="277.80" y2="490.91" stroke="#111" stroke-width="1.2"/>
<path d="M302.97 461.05L304.57 462.65L302.97 464.25L301.37 462.65Z" fill="#1d4a94"/>
<path d="M290.90 464.46L292.50 466.06L290.90 467.66L289.30 466.06Z" fill="#1d4a94"/>
<path d="M297.09 473.24L298.69 474.84L297.09 476.44L295.49 474.84Z" fill="#1d4a94"/>
<path d="M299.96 475.34L301.56 476.94L299.96 478.54L298.36 476.94Z" fill="#1d4a94"/>
<path d="M301.61 480.05L303.21 481.65L301.61 483.25L300.01 481.65Z" fill="#1d4a94"/>
<path d="M296.82 480.22L298.42 481.82L296.82 483.42L295.22 481.82Z" fill="#1d4a94"/>
<path d="M290.58 483.21L292.18 484.81L290.58 486.41L288.98 484.81Z" fill="#1d4a94"/>
<path d="M297.45 486.34L299.05 487.94L297.45 489.54L295.85 487.94Z" fill="#1d4a94"/>
<path d="M292.99 488.31L294.59 489.91L292.99 491.51L291.39 489.91Z" fill="#1d4a94"/>
<path d="M293.24 492.17L294.84 493.77L293.24 495.37L291.64 493.77Z" fill="#1d4a94"/>
<path d="M290.57 495.10L292.17 496.70L290.57 498.30L288.97 496.70Z" fill="#1d4a94"/>
<path d="M301.59 497.79L303.19 499.39L301.59 500.99L299.99 499.39Z" fill="#1d4a94"/>
<path d="M299.33 501.00L300.93 502.60L299.33 504.20L297.73 502.60Z" fill="#1d4a94"/>
<path d="M292.34 501.00L293.94 502.60L292.34 504.20L290.74 502.60Z" fill="#1d4a94"/>
<line x1="289.10" y1="486.52" x2="304.30" y2="486.52" stroke="#111" stroke-width="1.4"/>
<line x1="296.70" y1="475.08" x2="296.70" y2="498.46" stroke="#111" stroke-width="1.2"/>
<line x1="292.70" y1="475.08" x2="300.70" y2="475.08" stroke="#111" stroke-width="1.2"/>
<line x1="292.70" y1="498.46" x2="300.70" y2="498.46" stroke="#111" stroke-width="1.2"/>
<line x1="243.70" y1="451.50" x2="273.80" y2="451.50" stroke="#1a1a1a" stroke-width="1.4"/>
<text x="258.75" y="451.40" font-size="9.2" fill="#1a1a1a" text-anchor="middle" textLength="3.90" lengthAdjust="spacingAndGlyphs">*</text>
<line x1="375.20" y1="442.20" x2="375.20" y2="507.10" stroke="#111" stroke-width="1.3"/>
<line x1="374.60" y1="506.50" x2="470.20" y2="506.50" stroke="#111" stroke-width="1.3"/>
<line x1="372.60" y1="506.50" x2="375.20" y2="506.50" stroke="#1a1a1a" stroke-width="1"/>
<text x="369.00" y="509.45" font-size="8.2" fill="#1a1a1a" text-anchor="end">0</text>
<line x1="372.60" y1="490.80" x2="375.20" y2="490.80" stroke="#1a1a1a" stroke-width="1"/>
<text x="369.00" y="493.75" font-size="8.2" fill="#1a1a1a" text-anchor="end">0.5</text>
<line x1="372.60" y1="475.10" x2="375.20" y2="475.10" stroke="#1a1a1a" stroke-width="1"/>
<text x="369.00" y="478.05" font-size="8.2" fill="#1a1a1a" text-anchor="end">1</text>
<line x1="372.60" y1="459.40" x2="375.20" y2="459.40" stroke="#1a1a1a" stroke-width="1"/>
<text x="369.00" y="462.35" font-size="8.2" fill="#1a1a1a" text-anchor="end">1.5</text>
<line x1="372.60" y1="443.70" x2="375.20" y2="443.70" stroke="#1a1a1a" stroke-width="1"/>
<text x="369.00" y="446.65" font-size="8.2" fill="#1a1a1a" text-anchor="end">2</text>
<line x1="387.30" y1="506.50" x2="387.30" y2="509.10" stroke="#1a1a1a" stroke-width="0.9"/>
<line x1="411.00" y1="506.50" x2="411.00" y2="509.10" stroke="#1a1a1a" stroke-width="0.9"/>
<line x1="434.40" y1="506.50" x2="434.40" y2="509.10" stroke="#1a1a1a" stroke-width="0.9"/>
<line x1="458.00" y1="506.50" x2="458.00" y2="509.10" stroke="#1a1a1a" stroke-width="0.9"/>
<circle cx="381.60" cy="504.96" r="1.40" fill="#4a1d6e"/>
<circle cx="393.60" cy="504.96" r="1.40" fill="#4a1d6e"/>
<circle cx="384.30" cy="505.95" r="1.40" fill="#4a1d6e"/>
<circle cx="390.90" cy="505.95" r="1.40" fill="#4a1d6e"/>
<circle cx="387.60" cy="506.50" r="1.40" fill="#4a1d6e"/>
<circle cx="386.40" cy="506.28" r="1.40" fill="#4a1d6e"/>
<circle cx="389.10" cy="506.17" r="1.40" fill="#4a1d6e"/>
<line x1="380.00" y1="505.84" x2="395.20" y2="505.84" stroke="#111" stroke-width="1.4"/>
<rect x="415.17" y="472.39" width="2.90" height="2.90" fill="#6db33f"/>
<rect x="413.23" y="478.84" width="2.90" height="2.90" fill="#6db33f"/>
<rect x="414.42" y="482.84" width="2.90" height="2.90" fill="#6db33f"/>
<rect x="408.50" y="484.74" width="2.90" height="2.90" fill="#6db33f"/>
<rect x="415.92" y="486.18" width="2.90" height="2.90" fill="#6db33f"/>
<rect x="404.72" y="487.56" width="2.90" height="2.90" fill="#6db33f"/>
<rect x="414.60" y="489.95" width="2.90" height="2.90" fill="#6db33f"/>
<rect x="403.85" y="490.80" width="2.90" height="2.90" fill="#6db33f"/>
<rect x="408.98" y="492.33" width="2.90" height="2.90" fill="#6db33f"/>
<rect x="414.57" y="494.70" width="2.90" height="2.90" fill="#6db33f"/>
<rect x="404.22" y="494.71" width="2.90" height="2.90" fill="#6db33f"/>
<rect x="411.55" y="496.25" width="2.90" height="2.90" fill="#6db33f"/>
<rect x="411.58" y="499.72" width="2.90" height="2.90" fill="#6db33f"/>
<rect x="408.95" y="502.17" width="2.90" height="2.90" fill="#6db33f"/>
<rect x="412.28" y="504.11" width="2.90" height="2.90" fill="#6db33f"/>
<rect x="405.61" y="504.11" width="2.90" height="2.90" fill="#6db33f"/>
<line x1="403.40" y1="493.31" x2="418.60" y2="493.31" stroke="#111" stroke-width="1.4"/>
<line x1="411.00" y1="485.15" x2="411.00" y2="501.16" stroke="#111" stroke-width="1.2"/>
<line x1="407.00" y1="485.15" x2="415.00" y2="485.15" stroke="#111" stroke-width="1.2"/>
<line x1="407.00" y1="501.16" x2="415.00" y2="501.16" stroke="#111" stroke-width="1.2"/>
<path d="M437.04 474.39L438.69 477.36L435.39 477.36Z" fill="#c0143c"/>
<path d="M430.87 474.39L432.52 477.36L429.22 477.36Z" fill="#c0143c"/>
<path d="M440.64 475.94L442.29 478.91L438.99 478.91Z" fill="#c0143c"/>
<path d="M435.61 478.38L437.26 481.35L433.96 481.35Z" fill="#c0143c"/>
<path d="M431.01 479.67L432.66 482.64L429.36 482.64Z" fill="#c0143c"/>
<path d="M439.45 480.81L441.10 483.78L437.80 483.78Z" fill="#c0143c"/>
<path d="M434.95 481.90L436.60 484.87L433.30 484.87Z" fill="#c0143c"/>
<path d="M428.01 482.49L429.66 485.46L426.36 485.46Z" fill="#c0143c"/>
<path d="M431.98 483.74L433.63 486.71L430.33 486.71Z" fill="#c0143c"/>
<path d="M435.89 485.19L437.54 488.16L434.24 488.16Z" fill="#c0143c"/>
<path d="M439.38 486.52L441.03 489.49L437.73 489.49Z" fill="#c0143c"/>
<path d="M429.14 488.42L430.79 491.39L427.49 491.39Z" fill="#c0143c"/>
<path d="M432.56 491.56L434.21 494.53L430.91 494.53Z" fill="#c0143c"/>
<path d="M438.82 492.60L440.47 495.57L437.17 495.57Z" fill="#c0143c"/>
<line x1="426.60" y1="483.89" x2="441.80" y2="483.89" stroke="#111" stroke-width="1.4"/>
<line x1="434.20" y1="478.24" x2="434.20" y2="488.92" stroke="#111" stroke-width="1.2"/>
<line x1="430.20" y1="478.24" x2="438.20" y2="478.24" stroke="#111" stroke-width="1.2"/>
<line x1="430.20" y1="488.92" x2="438.20" y2="488.92" stroke="#111" stroke-width="1.2"/>
<path d="M456.81 455.29L458.41 456.89L456.81 458.49L455.21 456.89Z" fill="#1d4a94"/>
<path d="M460.94 462.92L462.54 464.52L460.94 466.12L459.34 464.52Z" fill="#1d4a94"/>
<path d="M452.71 470.34L454.31 471.94L452.71 473.54L451.11 471.94Z" fill="#1d4a94"/>
<path d="M460.21 474.00L461.81 475.60L460.21 477.20L458.61 475.60Z" fill="#1d4a94"/>
<path d="M455.98 475.57L457.58 477.17L455.98 478.77L454.38 477.17Z" fill="#1d4a94"/>
<path d="M462.48 477.94L464.08 479.54L462.48 481.14L460.88 479.54Z" fill="#1d4a94"/>
<path d="M456.26 481.85L457.86 483.45L456.26 485.05L454.66 483.45Z" fill="#1d4a94"/>
<path d="M462.69 482.97L464.29 484.57L462.69 486.17L461.09 484.57Z" fill="#1d4a94"/>
<path d="M454.71 486.44L456.31 488.04L454.71 489.64L453.11 488.04Z" fill="#1d4a94"/>
<path d="M451.73 488.90L453.33 490.50L451.73 492.10L450.13 490.50Z" fill="#1d4a94"/>
<path d="M460.02 489.01L461.62 490.61L460.02 492.21L458.42 490.61Z" fill="#1d4a94"/>
<path d="M459.20 493.04L460.80 494.64L459.20 496.24L457.60 494.64Z" fill="#1d4a94"/>
<path d="M452.22 494.84L453.82 496.44L452.22 498.04L450.62 496.44Z" fill="#1d4a94"/>
<path d="M461.74 498.27L463.34 499.87L461.74 501.47L460.14 499.87Z" fill="#1d4a94"/>
<path d="M457.81 500.19L459.41 501.79L457.81 503.39L456.21 501.79Z" fill="#1d4a94"/>
<path d="M453.28 500.19L454.88 501.79L453.28 503.39L451.68 501.79Z" fill="#1d4a94"/>
<line x1="450.00" y1="486.09" x2="465.20" y2="486.09" stroke="#111" stroke-width="1.4"/>
<line x1="457.60" y1="472.90" x2="457.60" y2="498.65" stroke="#111" stroke-width="1.2"/>
<line x1="453.60" y1="472.90" x2="461.60" y2="472.90" stroke="#111" stroke-width="1.2"/>
<line x1="453.60" y1="498.65" x2="461.60" y2="498.65" stroke="#111" stroke-width="1.2"/>
<line x1="404.40" y1="453.20" x2="434.20" y2="453.20" stroke="#1a1a1a" stroke-width="1.4"/>
<text x="419.30" y="453.10" font-size="9.2" fill="#1a1a1a" text-anchor="middle" textLength="11.70" lengthAdjust="spacingAndGlyphs">***</text>
<text x="78.50" y="532.30" font-size="10.2" fill="#1a1a1a" textLength="54.90" lengthAdjust="spacingAndGlyphs">Colon CD8<tspan font-size="8" dy="-3.6">+</tspan></text>
<text x="237.30" y="532.30" font-size="10.2" fill="#1a1a1a" textLength="49.80" lengthAdjust="spacingAndGlyphs">Liver CD8<tspan font-size="8" dy="-3.6">+</tspan></text>
<text x="397.20" y="532.30" font-size="10.2" fill="#1a1a1a" textLength="50.00" lengthAdjust="spacingAndGlyphs">Lung CD8<tspan font-size="8" dy="-3.6">+</tspan></text>
<text x="30.80" y="583.20" font-size="9.4" fill="#1a1a1a" text-anchor="middle" textLength="67.00" lengthAdjust="spacingAndGlyphs" transform="rotate(-90 30.80 583.20)">Total GMCSF<tspan font-size="7" dy="-3.4">+</tspan><tspan dy="3.4"> cells</tspan></text>
<text x="42.70" y="583.20" font-size="9.4" fill="#1a1a1a" text-anchor="middle" textLength="23.00" lengthAdjust="spacingAndGlyphs" transform="rotate(-90 42.70 583.20)">(x10<tspan font-size="6.6" dy="-3.3">5</tspan><tspan dy="3.3">)</tspan></text>
<text x="180.50" y="583.80" font-size="9.4" fill="#1a1a1a" text-anchor="middle" textLength="67.00" lengthAdjust="spacingAndGlyphs" transform="rotate(-90 180.50 583.80)">Total GMCSF<tspan font-size="7" dy="-3.4">+</tspan><tspan dy="3.4"> cells</tspan></text>
<text x="192.20" y="583.80" font-size="9.4" fill="#1a1a1a" text-anchor="middle" textLength="23.00" lengthAdjust="spacingAndGlyphs" transform="rotate(-90 192.20 583.80)">(x10<tspan font-size="6.6" dy="-3.3">6</tspan><tspan dy="3.3">)</tspan></text>
<text x="339.50" y="583.80" font-size="9.4" fill="#1a1a1a" text-anchor="middle" textLength="67.00" lengthAdjust="spacingAndGlyphs" transform="rotate(-90 339.50 583.80)">Total GMCSF<tspan font-size="7" dy="-3.4">+</tspan><tspan dy="3.4"> cells</tspan></text>
<text x="351.40" y="583.80" font-size="9.4" fill="#1a1a1a" text-anchor="middle" textLength="23.00" lengthAdjust="spacingAndGlyphs" transform="rotate(-90 351.40 583.80)">(x10<tspan font-size="6.6" dy="-3.3">6</tspan><tspan dy="3.3">)</tspan></text>
<line x1="60.00" y1="552.00" x2="60.00" y2="615.80" stroke="#111" stroke-width="1.3"/>
<line x1="59.40" y1="615.20" x2="153.30" y2="615.20" stroke="#111" stroke-width="1.3"/>
<line x1="57.40" y1="615.20" x2="60.00" y2="615.20" stroke="#1a1a1a" stroke-width="1"/>
<text x="53.80" y="618.15" font-size="8.2" fill="#1a1a1a" text-anchor="end">0</text>
<line x1="57.40" y1="594.63" x2="60.00" y2="594.63" stroke="#1a1a1a" stroke-width="1"/>
<text x="53.80" y="597.58" font-size="8.2" fill="#1a1a1a" text-anchor="end">2</text>
<line x1="57.40" y1="574.07" x2="60.00" y2="574.07" stroke="#1a1a1a" stroke-width="1"/>
<text x="53.80" y="577.02" font-size="8.2" fill="#1a1a1a" text-anchor="end">4</text>
<line x1="57.40" y1="553.50" x2="60.00" y2="553.50" stroke="#1a1a1a" stroke-width="1"/>
<text x="53.80" y="556.45" font-size="8.2" fill="#1a1a1a" text-anchor="end">6</text>
<line x1="71.00" y1="615.20" x2="71.00" y2="617.80" stroke="#1a1a1a" stroke-width="0.9"/>
<line x1="94.60" y1="615.20" x2="94.60" y2="617.80" stroke="#1a1a1a" stroke-width="0.9"/>
<line x1="117.70" y1="615.20" x2="117.70" y2="617.80" stroke="#1a1a1a" stroke-width="0.9"/>
<line x1="140.80" y1="615.20" x2="140.80" y2="617.80" stroke="#1a1a1a" stroke-width="0.9"/>
<circle cx="65.30" cy="613.40" r="1.40" fill="#4a1d6e"/>
<circle cx="77.30" cy="613.40" r="1.40" fill="#4a1d6e"/>
<circle cx="68.00" cy="614.56" r="1.40" fill="#4a1d6e"/>
<circle cx="74.60" cy="614.56" r="1.40" fill="#4a1d6e"/>
<circle cx="71.30" cy="615.20" r="1.40" fill="#4a1d6e"/>
<circle cx="70.10" cy="614.94" r="1.40" fill="#4a1d6e"/>
<circle cx="72.80" cy="614.81" r="1.40" fill="#4a1d6e"/>
<line x1="63.70" y1="614.43" x2="78.90" y2="614.43" stroke="#111" stroke-width="1.4"/>
<rect x="94.32" y="581.87" width="2.90" height="2.90" fill="#6db33f"/>
<rect x="97.21" y="585.08" width="2.90" height="2.90" fill="#6db33f"/>
<rect x="87.04" y="587.20" width="2.90" height="2.90" fill="#6db33f"/>
<rect x="91.97" y="589.42" width="2.90" height="2.90" fill="#6db33f"/>
<rect x="95.17" y="590.77" width="2.90" height="2.90" fill="#6db33f"/>
<rect x="86.60" y="591.92" width="2.90" height="2.90" fill="#6db33f"/>
<rect x="92.23" y="592.92" width="2.90" height="2.90" fill="#6db33f"/>
<rect x="98.07" y="592.96" width="2.90" height="2.90" fill="#6db33f"/>
<rect x="95.28" y="594.87" width="2.90" height="2.90" fill="#6db33f"/>
<rect x="86.38" y="595.38" width="2.90" height="2.90" fill="#6db33f"/>
<rect x="90.93" y="595.97" width="2.90" height="2.90" fill="#6db33f"/>
<rect x="98.74" y="596.74" width="2.90" height="2.90" fill="#6db33f"/>
<rect x="93.54" y="598.14" width="2.90" height="2.90" fill="#6db33f"/>
<rect x="96.98" y="600.38" width="2.90" height="2.90" fill="#6db33f"/>
<rect x="86.71" y="602.95" width="2.90" height="2.90" fill="#6db33f"/>
<rect x="91.02" y="602.95" width="2.90" height="2.90" fill="#6db33f"/>
<line x1="86.70" y1="595.25" x2="101.90" y2="595.25" stroke="#111" stroke-width="1.4"/>
<line x1="94.30" y1="589.39" x2="94.30" y2="599.88" stroke="#111" stroke-width="1.2"/>
<line x1="90.30" y1="589.39" x2="98.30" y2="589.39" stroke="#111" stroke-width="1.2"/>
<line x1="90.30" y1="599.88" x2="98.30" y2="599.88" stroke="#111" stroke-width="1.2"/>
<path d="M116.08 556.48L117.73 559.45L114.43 559.45Z" fill="#c0143c"/>
<path d="M112.49 560.58L114.14 563.55L110.84 563.55Z" fill="#c0143c"/>
<path d="M112.71 567.36L114.36 570.33L111.06 570.33Z" fill="#c0143c"/>
<path d="M117.73 569.30L119.38 572.27L116.08 572.27Z" fill="#c0143c"/>
<path d="M122.08 573.93L123.73 576.90L120.43 576.90Z" fill="#c0143c"/>
<path d="M117.38 574.76L119.03 577.73L115.73 577.73Z" fill="#c0143c"/>
<path d="M111.49 578.25L113.14 581.22L109.84 581.22Z" fill="#c0143c"/>
<path d="M123.83 579.93L125.48 582.90L122.18 582.90Z" fill="#c0143c"/>
<path d="M111.54 582.94L113.19 585.91L109.89 585.91Z" fill="#c0143c"/>
<path d="M121.87 585.68L123.52 588.65L120.22 588.65Z" fill="#c0143c"/>
<path d="M122.13 589.21L123.78 592.18L120.48 592.18Z" fill="#c0143c"/>
<path d="M113.42 590.85L115.07 593.82L111.77 593.82Z" fill="#c0143c"/>
<path d="M121.11 596.01L122.76 598.98L119.46 598.98Z" fill="#c0143c"/>
<path d="M117.07 598.64L118.72 601.61L115.42 601.61Z" fill="#c0143c"/>
<path d="M111.12 598.64L112.77 601.61L109.47 601.61Z" fill="#c0143c"/>
<line x1="109.90" y1="582.60" x2="125.10" y2="582.60" stroke="#111" stroke-width="1.4"/>
<line x1="117.50" y1="569.85" x2="117.50" y2="595.15" stroke="#111" stroke-width="1.2"/>
<line x1="113.50" y1="569.85" x2="121.50" y2="569.85" stroke="#111" stroke-width="1.2"/>
<line x1="113.50" y1="595.15" x2="121.50" y2="595.15" stroke="#111" stroke-width="1.2"/>
<path d="M142.48 566.81L144.08 568.41L142.48 570.01L140.88 568.41Z" fill="#1d4a94"/>
<path d="M134.87 566.81L136.47 568.41L134.87 570.01L133.27 568.41Z" fill="#1d4a94"/>
<path d="M135.63 572.69L137.23 574.29L135.63 575.89L134.03 574.29Z" fill="#1d4a94"/>
<path d="M141.26 575.09L142.86 576.69L141.26 578.29L139.66 576.69Z" fill="#1d4a94"/>
<path d="M138.14 577.83L139.74 579.43L138.14 581.03L136.54 579.43Z" fill="#1d4a94"/>
<path d="M145.15 579.06L146.75 580.66L145.15 582.26L143.55 580.66Z" fill="#1d4a94"/>
<path d="M139.04 582.25L140.64 583.85L139.04 585.45L137.44 583.85Z" fill="#1d4a94"/>
<path d="M141.90 583.94L143.50 585.54L141.90 587.14L140.30 585.54Z" fill="#1d4a94"/>
<path d="M146.08 586.37L147.68 587.97L146.08 589.57L144.48 587.97Z" fill="#1d4a94"/>
<path d="M141.46 588.83L143.06 590.43L141.46 592.03L139.86 590.43Z" fill="#1d4a94"/>
<path d="M144.08 592.20L145.68 593.80L144.08 595.40L142.48 593.80Z" fill="#1d4a94"/>
<path d="M136.26 594.22L137.86 595.82L136.26 597.42L134.66 595.82Z" fill="#1d4a94"/>
<path d="M144.36 599.12L145.96 600.72L144.36 602.32L142.76 600.72Z" fill="#1d4a94"/>
<path d="M136.38 601.98L137.98 603.58L136.38 605.18L134.78 603.58Z" fill="#1d4a94"/>
<path d="M142.27 601.98L143.87 603.58L142.27 605.18L140.67 603.58Z" fill="#1d4a94"/>
<line x1="133.10" y1="586.61" x2="148.30" y2="586.61" stroke="#111" stroke-width="1.4"/>
<line x1="140.70" y1="574.38" x2="140.70" y2="598.44" stroke="#111" stroke-width="1.2"/>
<line x1="136.70" y1="574.38" x2="144.70" y2="574.38" stroke="#111" stroke-width="1.2"/>
<line x1="136.70" y1="598.44" x2="144.70" y2="598.44" stroke="#111" stroke-width="1.2"/>
<line x1="93.40" y1="545.10" x2="139.80" y2="545.10" stroke="#1a1a1a" stroke-width="1.4"/>
<text x="116.60" y="545.00" font-size="9.2" fill="#1a1a1a" text-anchor="middle" textLength="3.90" lengthAdjust="spacingAndGlyphs">*</text>
<line x1="92.50" y1="554.10" x2="117.50" y2="554.10" stroke="#1a1a1a" stroke-width="1.4"/>
<text x="105.00" y="554.00" font-size="9.2" fill="#1a1a1a" text-anchor="middle" textLength="7.80" lengthAdjust="spacingAndGlyphs">**</text>
<line x1="216.20" y1="553.90" x2="216.20" y2="615.90" stroke="#111" stroke-width="1.3"/>
<line x1="215.60" y1="615.30" x2="307.90" y2="615.30" stroke="#111" stroke-width="1.3"/>
<line x1="213.60" y1="615.30" x2="216.20" y2="615.30" stroke="#1a1a1a" stroke-width="1"/>
<text x="210.00" y="618.25" font-size="8.2" fill="#1a1a1a" text-anchor="end">0</text>
<line x1="213.60" y1="603.32" x2="216.20" y2="603.32" stroke="#1a1a1a" stroke-width="1"/>
<text x="210.00" y="606.27" font-size="8.2" fill="#1a1a1a" text-anchor="end">0.5</text>
<line x1="213.60" y1="591.34" x2="216.20" y2="591.34" stroke="#1a1a1a" stroke-width="1"/>
<text x="210.00" y="594.29" font-size="8.2" fill="#1a1a1a" text-anchor="end">1</text>
<line x1="213.60" y1="579.36" x2="216.20" y2="579.36" stroke="#1a1a1a" stroke-width="1"/>
<text x="210.00" y="582.31" font-size="8.2" fill="#1a1a1a" text-anchor="end">1.5</text>
<line x1="213.60" y1="567.38" x2="216.20" y2="567.38" stroke="#1a1a1a" stroke-width="1"/>
<text x="210.00" y="570.33" font-size="8.2" fill="#1a1a1a" text-anchor="end">2</text>
<line x1="213.60" y1="555.40" x2="216.20" y2="555.40" stroke="#1a1a1a" stroke-width="1"/>
<text x="210.00" y="558.35" font-size="8.2" fill="#1a1a1a" text-anchor="end">2.5</text>
<line x1="227.70" y1="615.30" x2="227.70" y2="617.90" stroke="#1a1a1a" stroke-width="0.9"/>
<line x1="250.50" y1="615.30" x2="250.50" y2="617.90" stroke="#1a1a1a" stroke-width="0.9"/>
<line x1="273.30" y1="615.30" x2="273.30" y2="617.90" stroke="#1a1a1a" stroke-width="0.9"/>
<line x1="295.80" y1="615.30" x2="295.80" y2="617.90" stroke="#1a1a1a" stroke-width="0.9"/>
<circle cx="221.80" cy="614.46" r="1.40" fill="#4a1d6e"/>
<circle cx="233.80" cy="614.46" r="1.40" fill="#4a1d6e"/>
<circle cx="224.50" cy="615.00" r="1.40" fill="#4a1d6e"/>
<circle cx="231.10" cy="615.00" r="1.40" fill="#4a1d6e"/>
<circle cx="227.80" cy="615.30" r="1.40" fill="#4a1d6e"/>
<circle cx="226.60" cy="615.18" r="1.40" fill="#4a1d6e"/>
<circle cx="229.30" cy="615.12" r="1.40" fill="#4a1d6e"/>
<line x1="220.20" y1="614.94" x2="235.40" y2="614.94" stroke="#111" stroke-width="1.4"/>
<rect x="250.55" y="586.30" width="2.90" height="2.90" fill="#6db33f"/>
<rect x="244.66" y="587.70" width="2.90" height="2.90" fill="#6db33f"/>
<rect x="248.14" y="590.55" width="2.90" height="2.90" fill="#6db33f"/>
<rect x="253.77" y="592.04" width="2.90" height="2.90" fill="#6db33f"/>
<rect x="250.37" y="593.29" width="2.90" height="2.90" fill="#6db33f"/>
<rect x="245.89" y="594.14" width="2.90" height="2.90" fill="#6db33f"/>
<rect x="243.04" y="595.85" width="2.90" height="2.90" fill="#6db33f"/>
<rect x="250.72" y="597.01" width="2.90" height="2.90" fill="#6db33f"/>
<rect x="254.82" y="597.67" width="2.90" height="2.90" fill="#6db33f"/>
<rect x="245.90" y="598.72" width="2.90" height="2.90" fill="#6db33f"/>
<rect x="248.94" y="599.56" width="2.90" height="2.90" fill="#6db33f"/>
<rect x="242.76" y="600.42" width="2.90" height="2.90" fill="#6db33f"/>
<rect x="252.37" y="601.42" width="2.90" height="2.90" fill="#6db33f"/>
<rect x="245.69" y="603.70" width="2.90" height="2.90" fill="#6db33f"/>
<rect x="253.01" y="607.36" width="2.90" height="2.90" fill="#6db33f"/>
<rect x="249.27" y="608.34" width="2.90" height="2.90" fill="#6db33f"/>
<line x1="243.00" y1="598.53" x2="258.20" y2="598.53" stroke="#111" stroke-width="1.4"/>
<line x1="250.60" y1="593.02" x2="250.60" y2="604.28" stroke="#111" stroke-width="1.2"/>
<line x1="246.60" y1="593.02" x2="254.60" y2="593.02" stroke="#111" stroke-width="1.2"/>
<line x1="246.60" y1="604.28" x2="254.60" y2="604.28" stroke="#111" stroke-width="1.2"/>
<path d="M274.57 566.69L276.22 569.66L272.92 569.66Z" fill="#c0143c"/>
<path d="M278.24 571.88L279.89 574.85L276.59 574.85Z" fill="#c0143c"/>
<path d="M269.78 577.51L271.43 580.48L268.13 580.48Z" fill="#c0143c"/>
<path d="M271.40 581.67L273.05 584.64L269.75 584.64Z" fill="#c0143c"/>
<path d="M276.38 582.82L278.03 585.79L274.73 585.79Z" fill="#c0143c"/>
<path d="M279.05 584.76L280.70 587.73L277.40 587.73Z" fill="#c0143c"/>
<path d="M274.71 587.93L276.36 590.90L273.06 590.90Z" fill="#c0143c"/>
<path d="M269.66 589.28L271.31 592.25L268.01 592.25Z" fill="#c0143c"/>
<path d="M277.86 589.98L279.51 592.95L276.21 592.95Z" fill="#c0143c"/>
<path d="M278.44 594.12L280.09 597.09L276.79 597.09Z" fill="#c0143c"/>
<path d="M267.46 594.83L269.11 597.80L265.81 597.80Z" fill="#c0143c"/>
<path d="M271.33 598.03L272.98 601.00L269.68 601.00Z" fill="#c0143c"/>
<path d="M275.24 599.91L276.89 602.88L273.59 602.88Z" fill="#c0143c"/>
<path d="M267.02 605.02L268.67 607.99L265.37 607.99Z" fill="#c0143c"/>
<path d="M276.41 605.02L278.06 607.99L274.76 607.99Z" fill="#c0143c"/>
<line x1="265.50" y1="590.86" x2="280.70" y2="590.86" stroke="#111" stroke-width="1.4"/>
<line x1="273.10" y1="580.32" x2="273.10" y2="601.16" stroke="#111" stroke-width="1.2"/>
<line x1="269.10" y1="580.32" x2="277.10" y2="580.32" stroke="#111" stroke-width="1.2"/>
<line x1="269.10" y1="601.16" x2="277.10" y2="601.16" stroke="#111" stroke-width="1.2"/>
<path d="M300.75 572.01L302.35 573.61L300.75 575.21L299.15 573.61Z" fill="#1d4a94"/>
<path d="M291.38 576.38L292.98 577.98L291.38 579.58L289.78 577.98Z" fill="#1d4a94"/>
<path d="M294.88 580.82L296.48 582.42L294.88 584.02L293.28 582.42Z" fill="#1d4a94"/>
<path d="M299.62 584.68L301.22 586.28L299.62 587.88L298.02 586.28Z" fill="#1d4a94"/>
<path d="M294.07 587.16L295.67 588.76L294.07 590.36L292.47 588.76Z" fill="#1d4a94"/>
<path d="M301.55 589.51L303.15 591.11L301.55 592.71L299.95 591.11Z" fill="#1d4a94"/>
<path d="M295.23 592.62L296.83 594.22L295.23 595.82L293.63 594.22Z" fill="#1d4a94"/>
<path d="M290.89 594.31L292.49 595.91L290.89 597.51L289.29 595.91Z" fill="#1d4a94"/>
<path d="M297.40 595.55L299.00 597.15L297.40 598.75L295.80 597.15Z" fill="#1d4a94"/>
<path d="M294.01 596.38L295.61 597.98L294.01 599.58L292.41 597.98Z" fill="#1d4a94"/>
<path d="M289.28 600.17L290.88 601.77L289.28 603.37L287.68 601.77Z" fill="#1d4a94"/>
<path d="M298.33 602.12L299.93 603.72L298.33 605.32L296.73 603.72Z" fill="#1d4a94"/>
<path d="M297.25 605.28L298.85 606.88L297.25 608.48L295.65 606.88Z" fill="#1d4a94"/>
<path d="M295.30 608.67L296.90 610.27L295.30 611.87L293.70 610.27Z" fill="#1d4a94"/>
<path d="M301.20 608.67L302.80 610.27L301.20 611.87L299.60 610.27Z" fill="#1d4a94"/>
<line x1="288.10" y1="595.17" x2="303.30" y2="595.17" stroke="#111" stroke-width="1.4"/>
<line x1="295.70" y1="584.63" x2="295.70" y2="606.20" stroke="#111" stroke-width="1.2"/>
<line x1="291.70" y1="584.63" x2="299.70" y2="584.63" stroke="#111" stroke-width="1.2"/>
<line x1="291.70" y1="606.20" x2="299.70" y2="606.20" stroke="#111" stroke-width="1.2"/>
<line x1="243.30" y1="560.90" x2="273.50" y2="560.90" stroke="#1a1a1a" stroke-width="1.4"/>
<text x="258.40" y="560.80" font-size="9.2" fill="#1a1a1a" text-anchor="middle" textLength="3.90" lengthAdjust="spacingAndGlyphs">*</text>
<line x1="375.20" y1="553.90" x2="375.20" y2="615.90" stroke="#111" stroke-width="1.3"/>
<line x1="374.60" y1="615.30" x2="466.30" y2="615.30" stroke="#111" stroke-width="1.3"/>
<line x1="372.60" y1="615.30" x2="375.20" y2="615.30" stroke="#1a1a1a" stroke-width="1"/>
<text x="369.00" y="618.25" font-size="8.2" fill="#1a1a1a" text-anchor="end">0</text>
<line x1="372.60" y1="595.33" x2="375.20" y2="595.33" stroke="#1a1a1a" stroke-width="1"/>
<text x="369.00" y="598.28" font-size="8.2" fill="#1a1a1a" text-anchor="end">0.5</text>
<line x1="372.60" y1="575.37" x2="375.20" y2="575.37" stroke="#1a1a1a" stroke-width="1"/>
<text x="369.00" y="578.32" font-size="8.2" fill="#1a1a1a" text-anchor="end">1</text>
<line x1="372.60" y1="555.40" x2="375.20" y2="555.40" stroke="#1a1a1a" stroke-width="1"/>
<text x="369.00" y="558.35" font-size="8.2" fill="#1a1a1a" text-anchor="end">1.5</text>
<line x1="386.70" y1="615.30" x2="386.70" y2="617.90" stroke="#1a1a1a" stroke-width="0.9"/>
<line x1="409.60" y1="615.30" x2="409.60" y2="617.90" stroke="#1a1a1a" stroke-width="0.9"/>
<line x1="432.20" y1="615.30" x2="432.20" y2="617.90" stroke="#1a1a1a" stroke-width="0.9"/>
<line x1="455.00" y1="615.30" x2="455.00" y2="617.90" stroke="#1a1a1a" stroke-width="0.9"/>
<circle cx="380.70" cy="614.46" r="1.40" fill="#4a1d6e"/>
<circle cx="392.70" cy="614.46" r="1.40" fill="#4a1d6e"/>
<circle cx="383.40" cy="615.00" r="1.40" fill="#4a1d6e"/>
<circle cx="390.00" cy="615.00" r="1.40" fill="#4a1d6e"/>
<circle cx="386.70" cy="615.30" r="1.40" fill="#4a1d6e"/>
<circle cx="385.50" cy="615.18" r="1.40" fill="#4a1d6e"/>
<circle cx="388.20" cy="615.12" r="1.40" fill="#4a1d6e"/>
<line x1="379.10" y1="614.94" x2="394.30" y2="614.94" stroke="#111" stroke-width="1.4"/>
<rect x="403.32" y="590.69" width="2.90" height="2.90" fill="#6db33f"/>
<rect x="407.35" y="591.84" width="2.90" height="2.90" fill="#6db33f"/>
<rect x="411.44" y="593.69" width="2.90" height="2.90" fill="#6db33f"/>
<rect x="407.05" y="595.30" width="2.90" height="2.90" fill="#6db33f"/>
<rect x="402.75" y="595.81" width="2.90" height="2.90" fill="#6db33f"/>
<rect x="413.27" y="596.52" width="2.90" height="2.90" fill="#6db33f"/>
<rect x="410.01" y="597.62" width="2.90" height="2.90" fill="#6db33f"/>
<rect x="405.23" y="597.71" width="2.90" height="2.90" fill="#6db33f"/>
<rect x="401.86" y="598.77" width="2.90" height="2.90" fill="#6db33f"/>
<rect x="414.49" y="599.18" width="2.90" height="2.90" fill="#6db33f"/>
<rect x="407.17" y="599.68" width="2.90" height="2.90" fill="#6db33f"/>
<rect x="411.36" y="600.44" width="2.90" height="2.90" fill="#6db33f"/>
<rect x="404.77" y="601.42" width="2.90" height="2.90" fill="#6db33f"/>
<rect x="401.74" y="602.96" width="2.90" height="2.90" fill="#6db33f"/>
<rect x="409.02" y="603.87" width="2.90" height="2.90" fill="#6db33f"/>
<rect x="413.96" y="603.87" width="2.90" height="2.90" fill="#6db33f"/>
<line x1="401.90" y1="599.73" x2="417.10" y2="599.73" stroke="#111" stroke-width="1.4"/>
<line x1="409.50" y1="596.13" x2="409.50" y2="603.72" stroke="#111" stroke-width="1.2"/>
<line x1="405.50" y1="596.13" x2="413.50" y2="596.13" stroke="#111" stroke-width="1.2"/>
<line x1="405.50" y1="603.72" x2="413.50" y2="603.72" stroke="#111" stroke-width="1.2"/>
<path d="M435.77 571.72L437.42 574.69L434.12 574.69Z" fill="#c0143c"/>
<path d="M431.81 581.13L433.46 584.10L430.16 584.10Z" fill="#c0143c"/>
<path d="M426.06 584.36L427.71 587.33L424.41 587.33Z" fill="#c0143c"/>
<path d="M429.12 586.84L430.77 589.81L427.47 589.81Z" fill="#c0143c"/>
<path d="M434.90 588.31L436.55 591.28L433.25 591.28Z" fill="#c0143c"/>
<path d="M427.61 590.07L429.26 593.04L425.96 593.04Z" fill="#c0143c"/>
<path d="M432.67 591.09L434.32 594.06L431.02 594.06Z" fill="#c0143c"/>
<path d="M437.58 592.69L439.23 595.66L435.93 595.66Z" fill="#c0143c"/>
<path d="M429.67 592.84L431.32 595.81L428.02 595.81Z" fill="#c0143c"/>
<path d="M433.68 595.13L435.33 598.10L432.03 598.10Z" fill="#c0143c"/>
<path d="M437.22 596.41L438.87 599.38L435.57 599.38Z" fill="#c0143c"/>
<path d="M429.36 598.18L431.01 601.15L427.71 601.15Z" fill="#c0143c"/>
<path d="M434.61 600.49L436.26 603.46L432.96 603.46Z" fill="#c0143c"/>
<path d="M426.99 601.27L428.64 604.24L425.34 604.24Z" fill="#c0143c"/>
<path d="M438.39 601.27L440.04 604.24L436.74 604.24Z" fill="#c0143c"/>
<line x1="424.40" y1="593.74" x2="439.60" y2="593.74" stroke="#111" stroke-width="1.4"/>
<line x1="432.00" y1="586.15" x2="432.00" y2="599.73" stroke="#111" stroke-width="1.2"/>
<line x1="428.00" y1="586.15" x2="436.00" y2="586.15" stroke="#111" stroke-width="1.2"/>
<line x1="428.00" y1="599.73" x2="436.00" y2="599.73" stroke="#111" stroke-width="1.2"/>
<path d="M457.60 570.57L459.20 572.17L457.60 573.77L456.00 572.17Z" fill="#1d4a94"/>
<path d="M450.04 573.03L451.64 574.63L450.04 576.23L448.44 574.63Z" fill="#1d4a94"/>
<path d="M458.28 580.11L459.88 581.71L458.28 583.31L456.68 581.71Z" fill="#1d4a94"/>
<path d="M455.95 583.89L457.55 585.49L455.95 587.09L454.35 585.49Z" fill="#1d4a94"/>
<path d="M461.16 585.03L462.76 586.63L461.16 588.23L459.56 586.63Z" fill="#1d4a94"/>
<path d="M456.80 589.57L458.40 591.17L456.80 592.77L455.20 591.17Z" fill="#1d4a94"/>
<path d="M460.14 590.86L461.74 592.46L460.14 594.06L458.54 592.46Z" fill="#1d4a94"/>
<path d="M453.30 592.07L454.90 593.67L453.30 595.27L451.70 593.67Z" fill="#1d4a94"/>
<path d="M449.42 593.77L451.02 595.37L449.42 596.97L447.82 595.37Z" fill="#1d4a94"/>
<path d="M458.28 598.69L459.88 600.29L458.28 601.89L456.68 600.29Z" fill="#1d4a94"/>
<path d="M449.09 599.71L450.69 601.31L449.09 602.91L447.49 601.31Z" fill="#1d4a94"/>
<path d="M453.32 602.31L454.92 603.91L453.32 605.51L451.72 603.91Z" fill="#1d4a94"/>
<path d="M448.84 605.78L450.44 607.38L448.84 608.98L447.24 607.38Z" fill="#1d4a94"/>
<path d="M458.56 608.17L460.16 609.77L458.56 611.37L456.96 609.77Z" fill="#1d4a94"/>
<path d="M451.11 608.91L452.71 610.51L451.11 612.11L449.51 610.51Z" fill="#1d4a94"/>
<path d="M454.53 608.91L456.13 610.51L454.53 612.11L452.93 610.51Z" fill="#1d4a94"/>
<line x1="447.60" y1="595.73" x2="462.80" y2="595.73" stroke="#111" stroke-width="1.4"/>
<line x1="455.20" y1="583.35" x2="455.20" y2="607.71" stroke="#111" stroke-width="1.2"/>
<line x1="451.20" y1="583.35" x2="459.20" y2="583.35" stroke="#111" stroke-width="1.2"/>
<line x1="451.20" y1="607.71" x2="459.20" y2="607.71" stroke="#111" stroke-width="1.2"/>
<text x="79.40" y="642.00" font-size="10.2" fill="#1a1a1a" textLength="54.50" lengthAdjust="spacingAndGlyphs">Colon CD8<tspan font-size="8" dy="-3.6">+</tspan></text>
<text x="237.30" y="642.00" font-size="10.2" fill="#1a1a1a" textLength="49.30" lengthAdjust="spacingAndGlyphs">Liver CD8<tspan font-size="8" dy="-3.6">+</tspan></text>
<text x="397.20" y="642.00" font-size="10.2" fill="#1a1a1a" textLength="49.70" lengthAdjust="spacingAndGlyphs">Lung CD8<tspan font-size="8" dy="-3.6">+</tspan></text>
<text x="30.30" y="689.80" font-size="9.4" fill="#1a1a1a" text-anchor="middle" textLength="60.50" lengthAdjust="spacingAndGlyphs" transform="rotate(-90 30.30 689.80)">Total TNF&#945;<tspan font-size="7" dy="-3.4">+</tspan><tspan dy="3.4"> cells</tspan></text>
<text x="42.20" y="689.80" font-size="9.4" fill="#1a1a1a" text-anchor="middle" textLength="23.00" lengthAdjust="spacingAndGlyphs" transform="rotate(-90 42.20 689.80)">(x10<tspan font-size="6.6" dy="-3.3">5</tspan><tspan dy="3.3">)</tspan></text>
<text x="180.50" y="691.20" font-size="9.4" fill="#1a1a1a" text-anchor="middle" textLength="60.50" lengthAdjust="spacingAndGlyphs" transform="rotate(-90 180.50 691.20)">Total TNF&#945;<tspan font-size="7" dy="-3.4">+</tspan><tspan dy="3.4"> cells</tspan></text>
<text x="192.20" y="691.20" font-size="9.4" fill="#1a1a1a" text-anchor="middle" textLength="23.00" lengthAdjust="spacingAndGlyphs" transform="rotate(-90 192.20 691.20)">(x10<tspan font-size="6.6" dy="-3.3">6</tspan><tspan dy="3.3">)</tspan></text>
<text x="339.50" y="691.20" font-size="9.4" fill="#1a1a1a" text-anchor="middle" textLength="60.50" lengthAdjust="spacingAndGlyphs" transform="rotate(-90 339.50 691.20)">Total TNF&#945;<tspan font-size="7" dy="-3.4">+</tspan><tspan dy="3.4"> cells</tspan></text>
<text x="351.40" y="691.20" font-size="9.4" fill="#1a1a1a" text-anchor="middle" textLength="23.00" lengthAdjust="spacingAndGlyphs" transform="rotate(-90 351.40 691.20)">(x10<tspan font-size="6.6" dy="-3.3">6</tspan><tspan dy="3.3">)</tspan></text>
<line x1="60.00" y1="658.30" x2="60.00" y2="723.40" stroke="#111" stroke-width="1.3"/>
<line x1="59.40" y1="722.80" x2="154.60" y2="722.80" stroke="#111" stroke-width="1.3"/>
<line x1="57.40" y1="722.80" x2="60.00" y2="722.80" stroke="#1a1a1a" stroke-width="1"/>
<text x="53.80" y="725.75" font-size="8.2" fill="#1a1a1a" text-anchor="end">0</text>
<line x1="57.40" y1="701.80" x2="60.00" y2="701.80" stroke="#1a1a1a" stroke-width="1"/>
<text x="53.80" y="704.75" font-size="8.2" fill="#1a1a1a" text-anchor="end">2</text>
<line x1="57.40" y1="680.80" x2="60.00" y2="680.80" stroke="#1a1a1a" stroke-width="1"/>
<text x="53.80" y="683.75" font-size="8.2" fill="#1a1a1a" text-anchor="end">4</text>
<line x1="57.40" y1="659.80" x2="60.00" y2="659.80" stroke="#1a1a1a" stroke-width="1"/>
<text x="53.80" y="662.75" font-size="8.2" fill="#1a1a1a" text-anchor="end">6</text>
<line x1="71.50" y1="722.80" x2="71.50" y2="725.40" stroke="#1a1a1a" stroke-width="0.9"/>
<line x1="95.20" y1="722.80" x2="95.20" y2="725.40" stroke="#1a1a1a" stroke-width="0.9"/>
<line x1="118.70" y1="722.80" x2="118.70" y2="725.40" stroke="#1a1a1a" stroke-width="0.9"/>
<line x1="142.30" y1="722.80" x2="142.30" y2="725.40" stroke="#1a1a1a" stroke-width="0.9"/>
<circle cx="65.90" cy="721.70" r="1.40" fill="#4a1d6e"/>
<circle cx="77.90" cy="721.70" r="1.40" fill="#4a1d6e"/>
<circle cx="68.60" cy="722.41" r="1.40" fill="#4a1d6e"/>
<circle cx="75.20" cy="722.41" r="1.40" fill="#4a1d6e"/>
<circle cx="71.90" cy="722.80" r="1.40" fill="#4a1d6e"/>
<circle cx="70.70" cy="722.64" r="1.40" fill="#4a1d6e"/>
<circle cx="73.40" cy="722.56" r="1.40" fill="#4a1d6e"/>
<line x1="64.30" y1="722.33" x2="79.50" y2="722.33" stroke="#111" stroke-width="1.4"/>
<rect x="94.85" y="698.25" width="2.90" height="2.90" fill="#6db33f"/>
<rect x="98.10" y="699.30" width="2.90" height="2.90" fill="#6db33f"/>
<rect x="94.13" y="701.51" width="2.90" height="2.90" fill="#6db33f"/>
<rect x="99.41" y="702.53" width="2.90" height="2.90" fill="#6db33f"/>
<rect x="87.58" y="703.85" width="2.90" height="2.90" fill="#6db33f"/>
<rect x="94.78" y="705.10" width="2.90" height="2.90" fill="#6db33f"/>
<rect x="98.03" y="706.08" width="2.90" height="2.90" fill="#6db33f"/>
<rect x="91.47" y="706.31" width="2.90" height="2.90" fill="#6db33f"/>
<rect x="87.80" y="707.59" width="2.90" height="2.90" fill="#6db33f"/>
<rect x="94.40" y="708.47" width="2.90" height="2.90" fill="#6db33f"/>
<rect x="99.45" y="709.13" width="2.90" height="2.90" fill="#6db33f"/>
<rect x="89.92" y="710.14" width="2.90" height="2.90" fill="#6db33f"/>
<rect x="96.70" y="711.06" width="2.90" height="2.90" fill="#6db33f"/>
<rect x="92.98" y="712.28" width="2.90" height="2.90" fill="#6db33f"/>
<rect x="99.53" y="714.31" width="2.90" height="2.90" fill="#6db33f"/>
<rect x="90.02" y="714.31" width="2.90" height="2.90" fill="#6db33f"/>
<line x1="87.70" y1="708.41" x2="102.90" y2="708.41" stroke="#111" stroke-width="1.4"/>
<line x1="95.30" y1="703.48" x2="95.30" y2="712.93" stroke="#111" stroke-width="1.2"/>
<line x1="91.30" y1="703.48" x2="99.30" y2="703.48" stroke="#111" stroke-width="1.2"/>
<line x1="91.30" y1="712.93" x2="99.30" y2="712.93" stroke="#111" stroke-width="1.2"/>
<path d="M113.28 680.83L114.93 683.80L111.63 683.80Z" fill="#c0143c"/>
<path d="M113.65 685.06L115.30 688.03L112.00 688.03Z" fill="#c0143c"/>
<path d="M117.33 689.89L118.98 692.86L115.68 692.86Z" fill="#c0143c"/>
<path d="M121.32 691.39L122.97 694.36L119.67 694.36Z" fill="#c0143c"/>
<path d="M118.26 693.74L119.91 696.71L116.61 696.71Z" fill="#c0143c"/>
<path d="M115.41 695.50L117.06 698.47L113.76 698.47Z" fill="#c0143c"/>
<path d="M118.21 697.24L119.86 700.21L116.56 700.21Z" fill="#c0143c"/>
<path d="M125.21 697.35L126.86 700.32L123.56 700.32Z" fill="#c0143c"/>
<path d="M112.39 699.35L114.04 702.32L110.74 702.32Z" fill="#c0143c"/>
<path d="M123.23 700.21L124.88 703.18L121.58 703.18Z" fill="#c0143c"/>
<path d="M118.85 701.58L120.50 704.55L117.20 704.55Z" fill="#c0143c"/>
<path d="M113.44 702.84L115.09 705.81L111.79 705.81Z" fill="#c0143c"/>
<path d="M115.71 705.60L117.36 708.57L114.06 708.57Z" fill="#c0143c"/>
<path d="M114.13 708.58L115.78 711.55L112.48 711.55Z" fill="#c0143c"/>
<path d="M114.88 711.90L116.53 714.87L113.23 714.87Z" fill="#c0143c"/>
<path d="M124.51 711.91L126.16 714.88L122.86 714.88Z" fill="#c0143c"/>
<line x1="111.20" y1="700.12" x2="126.40" y2="700.12" stroke="#111" stroke-width="1.4"/>
<line x1="118.80" y1="692.35" x2="118.80" y2="708.41" stroke="#111" stroke-width="1.2"/>
<line x1="114.80" y1="692.35" x2="122.80" y2="692.35" stroke="#111" stroke-width="1.2"/>
<line x1="114.80" y1="708.41" x2="122.80" y2="708.41" stroke="#111" stroke-width="1.2"/>
<path d="M142.26 661.77L143.86 663.37L142.26 664.97L140.66 663.37Z" fill="#1d4a94"/>
<path d="M142.21 677.66L143.81 679.26L142.21 680.86L140.61 679.26Z" fill="#1d4a94"/>
<path d="M144.19 682.37L145.79 683.97L144.19 685.57L142.59 683.97Z" fill="#1d4a94"/>
<path d="M138.21 687.74L139.81 689.34L138.21 690.94L136.61 689.34Z" fill="#1d4a94"/>
<path d="M142.83 688.88L144.43 690.48L142.83 692.08L141.23 690.48Z" fill="#1d4a94"/>
<path d="M136.58 693.11L138.18 694.71L136.58 696.31L134.98 694.71Z" fill="#1d4a94"/>
<path d="M145.06 693.85L146.66 695.45L145.06 697.05L143.46 695.45Z" fill="#1d4a94"/>
<path d="M140.56 698.56L142.16 700.16L140.56 701.76L138.96 700.16Z" fill="#1d4a94"/>
<path d="M136.23 698.68L137.83 700.28L136.23 701.88L134.63 700.28Z" fill="#1d4a94"/>
<path d="M137.94 701.78L139.54 703.38L137.94 704.98L136.34 703.38Z" fill="#1d4a94"/>
<path d="M144.96 705.52L146.56 707.12L144.96 708.72L143.36 707.12Z" fill="#1d4a94"/>
<path d="M148.51 708.20L150.11 709.80L148.51 711.40L146.91 709.80Z" fill="#1d4a94"/>
<path d="M139.97 711.33L141.57 712.93L139.97 714.53L138.37 712.93Z" fill="#1d4a94"/>
<path d="M136.49 711.33L138.09 712.93L136.49 714.53L134.89 712.93Z" fill="#1d4a94"/>
<path d="M145.00 711.33L146.60 712.93L145.00 714.53L143.40 712.93Z" fill="#1d4a94"/>
<line x1="134.60" y1="699.28" x2="149.80" y2="699.28" stroke="#111" stroke-width="1.4"/>
<line x1="142.20" y1="686.89" x2="142.20" y2="712.40" stroke="#111" stroke-width="1.2"/>
<line x1="138.20" y1="686.89" x2="146.20" y2="686.89" stroke="#111" stroke-width="1.2"/>
<line x1="138.20" y1="712.40" x2="146.20" y2="712.40" stroke="#111" stroke-width="1.2"/>
<line x1="94.60" y1="654.10" x2="140.80" y2="654.10" stroke="#1a1a1a" stroke-width="1.4"/>
<text x="117.70" y="654.00" font-size="9.2" fill="#1a1a1a" text-anchor="middle" textLength="3.90" lengthAdjust="spacingAndGlyphs">*</text>
<line x1="93.80" y1="663.20" x2="118.50" y2="663.20" stroke="#1a1a1a" stroke-width="1.4"/>
<text x="106.15" y="663.10" font-size="9.2" fill="#1a1a1a" text-anchor="middle" textLength="7.80" lengthAdjust="spacingAndGlyphs">**</text>
<line x1="216.20" y1="661.20" x2="216.20" y2="723.40" stroke="#111" stroke-width="1.3"/>
<line x1="215.60" y1="722.80" x2="307.30" y2="722.80" stroke="#111" stroke-width="1.3"/>
<line x1="213.60" y1="722.80" x2="216.20" y2="722.80" stroke="#1a1a1a" stroke-width="1"/>
<text x="210.00" y="725.75" font-size="8.2" fill="#1a1a1a" text-anchor="end">0</text>
<line x1="213.60" y1="710.78" x2="216.20" y2="710.78" stroke="#1a1a1a" stroke-width="1"/>
<text x="210.00" y="713.73" font-size="8.2" fill="#1a1a1a" text-anchor="end">0.2</text>
<line x1="213.60" y1="698.76" x2="216.20" y2="698.76" stroke="#1a1a1a" stroke-width="1"/>
<text x="210.00" y="701.71" font-size="8.2" fill="#1a1a1a" text-anchor="end">0.4</text>
<line x1="213.60" y1="686.74" x2="216.20" y2="686.74" stroke="#1a1a1a" stroke-width="1"/>
<text x="210.00" y="689.69" font-size="8.2" fill="#1a1a1a" text-anchor="end">0.6</text>
<line x1="213.60" y1="674.72" x2="216.20" y2="674.72" stroke="#1a1a1a" stroke-width="1"/>
<text x="210.00" y="677.67" font-size="8.2" fill="#1a1a1a" text-anchor="end">0.8</text>
<line x1="213.60" y1="662.70" x2="216.20" y2="662.70" stroke="#1a1a1a" stroke-width="1"/>
<text x="210.00" y="665.65" font-size="8.2" fill="#1a1a1a" text-anchor="end">1</text>
<line x1="227.70" y1="722.80" x2="227.70" y2="725.40" stroke="#1a1a1a" stroke-width="0.9"/>
<line x1="250.30" y1="722.80" x2="250.30" y2="725.40" stroke="#1a1a1a" stroke-width="0.9"/>
<line x1="272.80" y1="722.80" x2="272.80" y2="725.40" stroke="#1a1a1a" stroke-width="0.9"/>
<line x1="295.40" y1="722.80" x2="295.40" y2="725.40" stroke="#1a1a1a" stroke-width="0.9"/>
<circle cx="221.80" cy="719.86" r="1.40" fill="#4a1d6e"/>
<circle cx="233.80" cy="719.86" r="1.40" fill="#4a1d6e"/>
<circle cx="224.50" cy="721.75" r="1.40" fill="#4a1d6e"/>
<circle cx="231.10" cy="721.75" r="1.40" fill="#4a1d6e"/>
<circle cx="227.80" cy="722.80" r="1.40" fill="#4a1d6e"/>
<circle cx="226.60" cy="722.38" r="1.40" fill="#4a1d6e"/>
<circle cx="229.30" cy="722.17" r="1.40" fill="#4a1d6e"/>
<line x1="220.20" y1="721.54" x2="235.40" y2="721.54" stroke="#111" stroke-width="1.4"/>
<rect x="250.55" y="691.90" width="2.90" height="2.90" fill="#6db33f"/>
<rect x="244.66" y="694.86" width="2.90" height="2.90" fill="#6db33f"/>
<rect x="248.14" y="698.12" width="2.90" height="2.90" fill="#6db33f"/>
<rect x="245.82" y="700.93" width="2.90" height="2.90" fill="#6db33f"/>
<rect x="250.98" y="701.29" width="2.90" height="2.90" fill="#6db33f"/>
<rect x="255.07" y="702.38" width="2.90" height="2.90" fill="#6db33f"/>
<rect x="248.98" y="704.20" width="2.90" height="2.90" fill="#6db33f"/>
<rect x="243.04" y="705.01" width="2.90" height="2.90" fill="#6db33f"/>
<rect x="254.82" y="706.84" width="2.90" height="2.90" fill="#6db33f"/>
<rect x="245.90" y="707.38" width="2.90" height="2.90" fill="#6db33f"/>
<rect x="249.14" y="708.30" width="2.90" height="2.90" fill="#6db33f"/>
<rect x="252.61" y="709.61" width="2.90" height="2.90" fill="#6db33f"/>
<rect x="246.13" y="711.44" width="2.90" height="2.90" fill="#6db33f"/>
<rect x="249.36" y="712.77" width="2.90" height="2.90" fill="#6db33f"/>
<rect x="245.83" y="714.74" width="2.90" height="2.90" fill="#6db33f"/>
<rect x="252.07" y="714.74" width="2.90" height="2.90" fill="#6db33f"/>
<line x1="243.00" y1="707.17" x2="258.20" y2="707.17" stroke="#111" stroke-width="1.4"/>
<line x1="250.60" y1="701.16" x2="250.60" y2="713.18" stroke="#111" stroke-width="1.2"/>
<line x1="246.60" y1="701.16" x2="254.60" y2="701.16" stroke="#111" stroke-width="1.2"/>
<line x1="246.60" y1="713.18" x2="254.60" y2="713.18" stroke="#111" stroke-width="1.2"/>
<path d="M274.57 671.87L276.22 674.84L272.92 674.84Z" fill="#c0143c"/>
<path d="M278.24 671.87L279.89 674.84L276.59 674.84Z" fill="#c0143c"/>
<path d="M269.78 678.73L271.43 681.70L268.13 681.70Z" fill="#c0143c"/>
<path d="M271.40 682.15L273.05 685.12L269.75 685.12Z" fill="#c0143c"/>
<path d="M268.66 685.07L270.31 688.04L267.01 688.04Z" fill="#c0143c"/>
<path d="M276.38 687.87L278.03 690.84L274.73 690.84Z" fill="#c0143c"/>
<path d="M270.50 688.06L272.15 691.03L268.85 691.03Z" fill="#c0143c"/>
<path d="M279.05 691.30L280.70 694.27L277.40 694.27Z" fill="#c0143c"/>
<path d="M274.71 692.99L276.36 695.96L273.06 695.96Z" fill="#c0143c"/>
<path d="M269.66 694.14L271.31 697.11L268.01 697.11Z" fill="#c0143c"/>
<path d="M276.50 698.23L278.15 701.20L274.85 701.20Z" fill="#c0143c"/>
<path d="M271.67 699.09L273.32 702.06L270.02 702.06Z" fill="#c0143c"/>
<path d="M266.63 702.97L268.28 705.94L264.98 705.94Z" fill="#c0143c"/>
<path d="M277.86 707.43L279.51 710.40L276.21 710.40Z" fill="#c0143c"/>
<path d="M267.46 707.93L269.11 710.90L265.81 710.90Z" fill="#c0143c"/>
<path d="M271.33 707.93L272.98 710.90L269.68 710.90Z" fill="#c0143c"/>
<line x1="265.50" y1="693.95" x2="280.70" y2="693.95" stroke="#111" stroke-width="1.4"/>
<line x1="273.10" y1="681.93" x2="273.10" y2="705.37" stroke="#111" stroke-width="1.2"/>
<line x1="269.10" y1="681.93" x2="277.10" y2="681.93" stroke="#111" stroke-width="1.2"/>
<line x1="269.10" y1="705.37" x2="277.10" y2="705.37" stroke="#111" stroke-width="1.2"/>
<path d="M289.44 675.52L291.04 677.12L289.44 678.72L287.84 677.12Z" fill="#1d4a94"/>
<path d="M292.90 685.20L294.50 686.80L292.90 688.40L291.30 686.80Z" fill="#1d4a94"/>
<path d="M298.16 690.72L299.76 692.32L298.16 693.92L296.56 692.32Z" fill="#1d4a94"/>
<path d="M296.24 694.29L297.84 695.89L296.24 697.49L294.64 695.89Z" fill="#1d4a94"/>
<path d="M289.05 695.43L290.65 697.03L289.05 698.63L287.45 697.03Z" fill="#1d4a94"/>
<path d="M295.62 698.87L297.22 700.47L295.62 702.07L294.02 700.47Z" fill="#1d4a94"/>
<path d="M300.68 699.29L302.28 700.89L300.68 702.49L299.08 700.89Z" fill="#1d4a94"/>
<path d="M298.07 701.73L299.67 703.33L298.07 704.93L296.47 703.33Z" fill="#1d4a94"/>
<path d="M291.57 703.90L293.17 705.50L291.57 707.10L289.97 705.50Z" fill="#1d4a94"/>
<path d="M299.15 705.09L300.75 706.69L299.15 708.29L297.55 706.69Z" fill="#1d4a94"/>
<path d="M289.18 707.89L290.78 709.49L289.18 711.09L287.58 709.49Z" fill="#1d4a94"/>
<path d="M295.29 708.96L296.89 710.56L295.29 712.16L293.69 710.56Z" fill="#1d4a94"/>
<path d="M292.06 711.70L293.66 713.30L292.06 714.90L290.46 713.30Z" fill="#1d4a94"/>
<path d="M297.07 713.39L298.67 714.99L297.07 716.59L295.47 714.99Z" fill="#1d4a94"/>
<path d="M289.40 713.39L291.00 714.99L289.40 716.59L287.80 714.99Z" fill="#1d4a94"/>
<line x1="287.80" y1="703.57" x2="303.00" y2="703.57" stroke="#111" stroke-width="1.4"/>
<line x1="295.40" y1="694.55" x2="295.40" y2="713.18" stroke="#111" stroke-width="1.2"/>
<line x1="291.40" y1="694.55" x2="299.40" y2="694.55" stroke="#111" stroke-width="1.2"/>
<line x1="291.40" y1="713.18" x2="299.40" y2="713.18" stroke="#111" stroke-width="1.2"/>
<line x1="243.00" y1="663.30" x2="267.60" y2="663.30" stroke="#1a1a1a" stroke-width="1.4"/>
<text x="255.30" y="663.20" font-size="9.2" fill="#1a1a1a" text-anchor="middle" textLength="11.70" lengthAdjust="spacingAndGlyphs">***</text>
<line x1="272.20" y1="663.30" x2="296.80" y2="663.30" stroke="#1a1a1a" stroke-width="1.4"/>
<text x="284.50" y="663.20" font-size="9.2" fill="#1a1a1a" text-anchor="middle" textLength="3.90" lengthAdjust="spacingAndGlyphs">*</text>
<line x1="375.20" y1="660.20" x2="375.20" y2="723.40" stroke="#111" stroke-width="1.3"/>
<line x1="374.60" y1="722.80" x2="467.00" y2="722.80" stroke="#111" stroke-width="1.3"/>
<line x1="372.60" y1="722.80" x2="375.20" y2="722.80" stroke="#1a1a1a" stroke-width="1"/>
<text x="369.00" y="725.75" font-size="8.2" fill="#1a1a1a" text-anchor="end">0</text>
<line x1="372.60" y1="702.43" x2="375.20" y2="702.43" stroke="#1a1a1a" stroke-width="1"/>
<text x="369.00" y="705.38" font-size="8.2" fill="#1a1a1a" text-anchor="end">0.5</text>
<line x1="372.60" y1="682.07" x2="375.20" y2="682.07" stroke="#1a1a1a" stroke-width="1"/>
<text x="369.00" y="685.02" font-size="8.2" fill="#1a1a1a" text-anchor="end">1</text>
<line x1="372.60" y1="661.70" x2="375.20" y2="661.70" stroke="#1a1a1a" stroke-width="1"/>
<text x="369.00" y="664.65" font-size="8.2" fill="#1a1a1a" text-anchor="end">1.5</text>
<line x1="386.70" y1="722.80" x2="386.70" y2="725.40" stroke="#1a1a1a" stroke-width="0.9"/>
<line x1="409.60" y1="722.80" x2="409.60" y2="725.40" stroke="#1a1a1a" stroke-width="0.9"/>
<line x1="432.30" y1="722.80" x2="432.30" y2="725.40" stroke="#1a1a1a" stroke-width="0.9"/>
<line x1="455.20" y1="722.80" x2="455.20" y2="725.40" stroke="#1a1a1a" stroke-width="0.9"/>
<circle cx="380.70" cy="721.94" r="1.40" fill="#4a1d6e"/>
<circle cx="392.70" cy="721.94" r="1.40" fill="#4a1d6e"/>
<circle cx="383.40" cy="722.49" r="1.40" fill="#4a1d6e"/>
<circle cx="390.00" cy="722.49" r="1.40" fill="#4a1d6e"/>
<circle cx="386.70" cy="722.80" r="1.40" fill="#4a1d6e"/>
<circle cx="385.50" cy="722.68" r="1.40" fill="#4a1d6e"/>
<circle cx="388.20" cy="722.62" r="1.40" fill="#4a1d6e"/>
<line x1="379.10" y1="722.43" x2="394.30" y2="722.43" stroke="#111" stroke-width="1.4"/>
<rect x="403.32" y="701.80" width="2.90" height="2.90" fill="#6db33f"/>
<rect x="407.35" y="702.10" width="2.90" height="2.90" fill="#6db33f"/>
<rect x="411.44" y="704.51" width="2.90" height="2.90" fill="#6db33f"/>
<rect x="407.05" y="706.42" width="2.90" height="2.90" fill="#6db33f"/>
<rect x="402.75" y="706.66" width="2.90" height="2.90" fill="#6db33f"/>
<rect x="410.13" y="707.64" width="2.90" height="2.90" fill="#6db33f"/>
<rect x="413.27" y="708.94" width="2.90" height="2.90" fill="#6db33f"/>
<rect x="405.34" y="709.29" width="2.90" height="2.90" fill="#6db33f"/>
<rect x="401.67" y="709.99" width="2.90" height="2.90" fill="#6db33f"/>
<rect x="408.67" y="711.17" width="2.90" height="2.90" fill="#6db33f"/>
<rect x="411.83" y="711.97" width="2.90" height="2.90" fill="#6db33f"/>
<rect x="404.00" y="714.06" width="2.90" height="2.90" fill="#6db33f"/>
<rect x="408.60" y="715.43" width="2.90" height="2.90" fill="#6db33f"/>
<rect x="414.48" y="716.46" width="2.90" height="2.90" fill="#6db33f"/>
<line x1="401.90" y1="710.58" x2="417.10" y2="710.58" stroke="#111" stroke-width="1.4"/>
<line x1="409.50" y1="706.51" x2="409.50" y2="714.65" stroke="#111" stroke-width="1.2"/>
<line x1="405.50" y1="706.51" x2="413.50" y2="706.51" stroke="#111" stroke-width="1.2"/>
<line x1="405.50" y1="714.65" x2="413.50" y2="714.65" stroke="#111" stroke-width="1.2"/>
<path d="M436.94 685.71L438.59 688.68L435.29 688.68Z" fill="#c0143c"/>
<path d="M426.61 685.71L428.26 688.68L424.96 688.68Z" fill="#c0143c"/>
<path d="M435.99 692.03L437.64 695.00L434.34 695.00Z" fill="#c0143c"/>
<path d="M426.27 693.30L427.92 696.27L424.62 696.27Z" fill="#c0143c"/>
<path d="M437.99 695.99L439.64 698.96L436.34 698.96Z" fill="#c0143c"/>
<path d="M433.33 698.01L434.98 700.98L431.68 700.98Z" fill="#c0143c"/>
<path d="M427.12 699.04L428.77 702.01L425.47 702.01Z" fill="#c0143c"/>
<path d="M431.29 700.74L432.94 703.71L429.64 703.71Z" fill="#c0143c"/>
<path d="M428.06 703.89L429.71 706.86L426.41 706.86Z" fill="#c0143c"/>
<path d="M433.64 705.23L435.29 708.20L431.99 708.20Z" fill="#c0143c"/>
<path d="M437.05 706.64L438.70 709.61L435.40 709.61Z" fill="#c0143c"/>
<path d="M432.65 710.15L434.30 713.12L431.00 713.12Z" fill="#c0143c"/>
<path d="M428.65 710.15L430.30 713.12L427.00 713.12Z" fill="#c0143c"/>
<path d="M436.64 710.15L438.29 713.12L434.99 713.12Z" fill="#c0143c"/>
<line x1="424.80" y1="702.43" x2="440.00" y2="702.43" stroke="#111" stroke-width="1.4"/>
<line x1="432.40" y1="694.29" x2="432.40" y2="711.80" stroke="#111" stroke-width="1.2"/>
<line x1="428.40" y1="694.29" x2="436.40" y2="694.29" stroke="#111" stroke-width="1.2"/>
<line x1="428.40" y1="711.80" x2="436.40" y2="711.80" stroke="#111" stroke-width="1.2"/>
<path d="M457.60 677.21L459.20 678.81L457.60 680.41L456.00 678.81Z" fill="#1d4a94"/>
<path d="M450.04 681.53L451.64 683.13L450.04 684.73L448.44 683.13Z" fill="#1d4a94"/>
<path d="M458.28 690.54L459.88 692.14L458.28 693.74L456.68 692.14Z" fill="#1d4a94"/>
<path d="M455.95 693.66L457.55 695.26L455.95 696.86L454.35 695.26Z" fill="#1d4a94"/>
<path d="M461.16 695.94L462.76 697.54L461.16 699.14L459.56 697.54Z" fill="#1d4a94"/>
<path d="M456.80 698.39L458.40 699.99L456.80 701.59L455.20 699.99Z" fill="#1d4a94"/>
<path d="M458.17 703.88L459.77 705.48L458.17 707.08L456.57 705.48Z" fill="#1d4a94"/>
<path d="M453.30 705.34L454.90 706.94L453.30 708.54L451.70 706.94Z" fill="#1d4a94"/>
<path d="M460.00 708.32L461.60 709.92L460.00 711.52L458.40 709.92Z" fill="#1d4a94"/>
<path d="M449.42 712.14L451.02 713.74L449.42 715.34L447.82 713.74Z" fill="#1d4a94"/>
<path d="M458.28 714.86L459.88 716.46L458.28 718.06L456.68 716.46Z" fill="#1d4a94"/>
<path d="M449.09 715.50L450.69 717.10L449.09 718.70L447.49 717.10Z" fill="#1d4a94"/>
<path d="M453.32 715.50L454.92 717.10L453.32 718.70L451.72 717.10Z" fill="#1d4a94"/>
<line x1="447.60" y1="704.06" x2="462.80" y2="704.06" stroke="#111" stroke-width="1.4"/>
<line x1="455.20" y1="692.25" x2="455.20" y2="716.69" stroke="#111" stroke-width="1.2"/>
<line x1="451.20" y1="692.25" x2="459.20" y2="692.25" stroke="#111" stroke-width="1.2"/>
<line x1="451.20" y1="716.69" x2="459.20" y2="716.69" stroke="#111" stroke-width="1.2"/>
</svg>
</body></html>
